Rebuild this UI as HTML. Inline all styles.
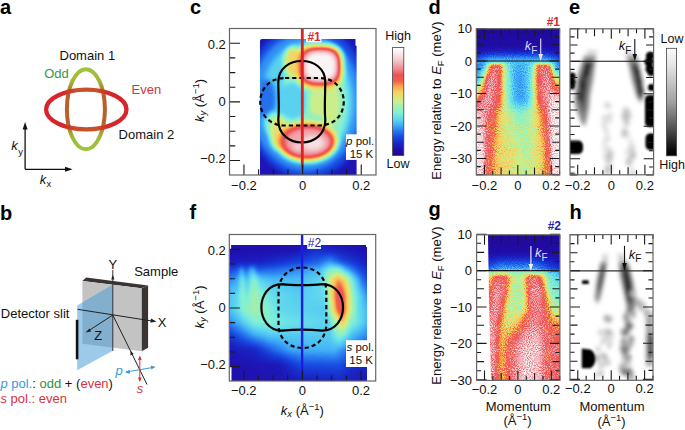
<!DOCTYPE html><html><head><meta charset="utf-8"><style>html,body{margin:0;padding:0;background:#fff;width:685px;height:430px;overflow:hidden}svg{display:block}text{font-family:"Liberation Sans",sans-serif}</style></head><body>
<svg width="685" height="430" viewBox="0 0 685 430">
<defs>
<filter id="jc" filterUnits="userSpaceOnUse" x="250" y="30" width="115" height="150" color-interpolation-filters="sRGB"><feGaussianBlur in="SourceGraphic" stdDeviation="2.6" result="b"/><feComponentTransfer in="b"><feFuncR type="table" tableValues="0.133 0.130 0.127 0.117 0.103 0.094 0.094 0.099 0.127 0.155 0.196 0.239 0.291 0.347 0.403 0.459 0.516 0.573 0.631 0.716 0.793 0.835 0.887 0.943 0.973 0.973 0.968 0.951 0.941 0.941 0.941 0.941 0.941 0.944 0.950 0.955 0.961 0.967 0.973 0.986 1.000"/><feFuncG type="table" tableValues="0.024 0.040 0.056 0.088 0.130 0.177 0.234 0.296 0.380 0.464 0.562 0.662 0.741 0.811 0.867 0.909 0.941 0.941 0.941 0.941 0.937 0.916 0.880 0.838 0.775 0.689 0.590 0.457 0.365 0.337 0.333 0.430 0.526 0.609 0.683 0.758 0.820 0.877 0.933 0.967 1.000"/><feFuncB type="table" tableValues="0.541 0.603 0.665 0.715 0.757 0.800 0.842 0.883 0.911 0.939 0.954 0.969 0.962 0.948 0.921 0.879 0.830 0.759 0.687 0.619 0.552 0.488 0.440 0.398 0.356 0.313 0.282 0.282 0.294 0.322 0.364 0.461 0.557 0.637 0.706 0.775 0.834 0.888 0.941 0.971 1.000"/><feFuncA type="linear" slope="0" intercept="1"/></feComponentTransfer></filter>
<filter id="jf" filterUnits="userSpaceOnUse" x="225" y="240" width="150" height="145" color-interpolation-filters="sRGB"><feGaussianBlur in="SourceGraphic" stdDeviation="1.6" result="b"/><feComponentTransfer in="b"><feFuncR type="table" tableValues="0.133 0.130 0.127 0.117 0.103 0.094 0.094 0.099 0.127 0.155 0.196 0.239 0.291 0.347 0.403 0.459 0.516 0.573 0.631 0.716 0.793 0.835 0.887 0.943 0.973 0.973 0.968 0.951 0.941 0.941 0.941 0.941 0.941 0.944 0.950 0.955 0.961 0.967 0.973 0.986 1.000"/><feFuncG type="table" tableValues="0.024 0.040 0.056 0.088 0.130 0.177 0.234 0.296 0.380 0.464 0.562 0.662 0.741 0.811 0.867 0.909 0.941 0.941 0.941 0.941 0.937 0.916 0.880 0.838 0.775 0.689 0.590 0.457 0.365 0.337 0.333 0.430 0.526 0.609 0.683 0.758 0.820 0.877 0.933 0.967 1.000"/><feFuncB type="table" tableValues="0.541 0.603 0.665 0.715 0.757 0.800 0.842 0.883 0.911 0.939 0.954 0.969 0.962 0.948 0.921 0.879 0.830 0.759 0.687 0.619 0.552 0.488 0.440 0.398 0.356 0.313 0.282 0.282 0.294 0.322 0.364 0.461 0.557 0.637 0.706 0.775 0.834 0.888 0.941 0.971 1.000"/><feFuncA type="linear" slope="0" intercept="1"/></feComponentTransfer></filter>
<filter id="jd" filterUnits="userSpaceOnUse" x="470" y="25" width="95" height="155" color-interpolation-filters="sRGB"><feGaussianBlur in="SourceGraphic" stdDeviation="1.0" result="b"/><feTurbulence type="fractalNoise" baseFrequency="0.95" numOctaves="1" seed="5" result="t"/><feColorMatrix in="t" type="matrix" values="1 0 0 0 0 1 0 0 0 0 1 0 0 0 0 0 0 0 0 1" result="n"/><feComposite in="b" in2="n" operator="arithmetic" k1="0.42" k2="0.79" k3="0.07" k4="-0.035" result="b"/><feComponentTransfer in="b"><feFuncR type="table" tableValues="0.133 0.130 0.127 0.117 0.103 0.094 0.094 0.099 0.127 0.155 0.196 0.239 0.291 0.347 0.403 0.459 0.516 0.573 0.631 0.716 0.793 0.835 0.887 0.943 0.973 0.973 0.968 0.951 0.941 0.941 0.941 0.941 0.941 0.944 0.950 0.955 0.961 0.967 0.973 0.986 1.000"/><feFuncG type="table" tableValues="0.024 0.040 0.056 0.088 0.130 0.177 0.234 0.296 0.380 0.464 0.562 0.662 0.741 0.811 0.867 0.909 0.941 0.941 0.941 0.941 0.937 0.916 0.880 0.838 0.775 0.689 0.590 0.457 0.365 0.337 0.333 0.430 0.526 0.609 0.683 0.758 0.820 0.877 0.933 0.967 1.000"/><feFuncB type="table" tableValues="0.541 0.603 0.665 0.715 0.757 0.800 0.842 0.883 0.911 0.939 0.954 0.969 0.962 0.948 0.921 0.879 0.830 0.759 0.687 0.619 0.552 0.488 0.440 0.398 0.356 0.313 0.282 0.282 0.294 0.322 0.364 0.461 0.557 0.637 0.706 0.775 0.834 0.888 0.941 0.971 1.000"/><feFuncA type="linear" slope="0" intercept="1"/></feComponentTransfer></filter>
<filter id="jg" filterUnits="userSpaceOnUse" x="470" y="230" width="95" height="155" color-interpolation-filters="sRGB"><feGaussianBlur in="SourceGraphic" stdDeviation="1.0" result="b"/><feTurbulence type="fractalNoise" baseFrequency="0.95" numOctaves="1" seed="7" result="t"/><feColorMatrix in="t" type="matrix" values="1 0 0 0 0 1 0 0 0 0 1 0 0 0 0 0 0 0 0 1" result="n"/><feComposite in="b" in2="n" operator="arithmetic" k1="0.5" k2="0.75" k3="0.07" k4="-0.035" result="b"/><feComponentTransfer in="b"><feFuncR type="table" tableValues="0.133 0.130 0.127 0.117 0.103 0.094 0.094 0.099 0.127 0.155 0.196 0.239 0.291 0.347 0.403 0.459 0.516 0.573 0.631 0.716 0.793 0.835 0.887 0.943 0.973 0.973 0.968 0.951 0.941 0.941 0.941 0.941 0.941 0.944 0.950 0.955 0.961 0.967 0.973 0.986 1.000"/><feFuncG type="table" tableValues="0.024 0.040 0.056 0.088 0.130 0.177 0.234 0.296 0.380 0.464 0.562 0.662 0.741 0.811 0.867 0.909 0.941 0.941 0.941 0.941 0.937 0.916 0.880 0.838 0.775 0.689 0.590 0.457 0.365 0.337 0.333 0.430 0.526 0.609 0.683 0.758 0.820 0.877 0.933 0.967 1.000"/><feFuncB type="table" tableValues="0.541 0.603 0.665 0.715 0.757 0.800 0.842 0.883 0.911 0.939 0.954 0.969 0.962 0.948 0.921 0.879 0.830 0.759 0.687 0.619 0.552 0.488 0.440 0.398 0.356 0.313 0.282 0.282 0.294 0.322 0.364 0.461 0.557 0.637 0.706 0.775 0.834 0.888 0.941 0.971 1.000"/><feFuncA type="linear" slope="0" intercept="1"/></feComponentTransfer></filter>
<filter id="bl2" x="-50%" y="-50%" width="200%" height="200%"><feGaussianBlur stdDeviation="2"/></filter>
<filter id="bl1" x="-50%" y="-50%" width="200%" height="200%"><feGaussianBlur stdDeviation="1"/></filter>
<filter id="bl3" x="-50%" y="-50%" width="200%" height="200%"><feGaussianBlur stdDeviation="3"/></filter>
<linearGradient id="cbj" x1="0" y1="0" x2="0" y2="1"><stop offset="0.000" stop-color="#ffffff"/><stop offset="0.050" stop-color="#f8eef0"/><stop offset="0.116" stop-color="#f4c8cc"/><stop offset="0.190" stop-color="#f09098"/><stop offset="0.255" stop-color="#f05058"/><stop offset="0.310" stop-color="#f06048"/><stop offset="0.357" stop-color="#f8a048"/><stop offset="0.412" stop-color="#f8d060"/><stop offset="0.468" stop-color="#d8e878"/><stop offset="0.505" stop-color="#c8f090"/><stop offset="0.551" stop-color="#a0f0b0"/><stop offset="0.606" stop-color="#80f0d8"/><stop offset="0.662" stop-color="#60d8f0"/><stop offset="0.718" stop-color="#40b0f8"/><stop offset="0.773" stop-color="#2878f0"/><stop offset="0.829" stop-color="#1848e0"/><stop offset="0.884" stop-color="#1828c8"/><stop offset="0.940" stop-color="#2010b0"/><stop offset="1.000" stop-color="#22068a"/></linearGradient>
<linearGradient id="cbg" x1="0" y1="0" x2="0" y2="1"><stop offset="0" stop-color="#fafafa"/><stop offset="0.15" stop-color="#e6e6e6"/><stop offset="0.5" stop-color="#a0a0a0"/><stop offset="0.8" stop-color="#404040"/><stop offset="0.93" stop-color="#101010"/><stop offset="1" stop-color="#000"/></linearGradient>
<linearGradient id="oddg" gradientUnits="userSpaceOnUse" x1="0" y1="67" x2="0" y2="151"><stop offset="0" stop-color="#9cc63c"/><stop offset="0.16" stop-color="#a2b836"/><stop offset="0.25" stop-color="#ae8c2e"/><stop offset="0.33" stop-color="#b8602c"/><stop offset="0.67" stop-color="#b8602c"/><stop offset="0.75" stop-color="#ae8c2e"/><stop offset="0.84" stop-color="#a2b836"/><stop offset="1" stop-color="#9cc63c"/></linearGradient>
<linearGradient id="eveng" gradientUnits="userSpaceOnUse" x1="44" y1="0" x2="129" y2="0"><stop offset="0" stop-color="#d8242a"/><stop offset="0.22" stop-color="#d6262a"/><stop offset="0.3" stop-color="#cc3c2a"/><stop offset="0.38" stop-color="#c6502a"/><stop offset="0.62" stop-color="#c6502a"/><stop offset="0.7" stop-color="#cc3c2a"/><stop offset="0.78" stop-color="#d6262a"/><stop offset="1" stop-color="#d8242a"/></linearGradient>
<marker id="ah" viewBox="0 0 10 10" refX="9" refY="5" markerWidth="6" markerHeight="6" orient="auto-start-reverse" markerUnits="userSpaceOnUse"><path d="M0,1 L10,5 L0,9 z" fill="#111"/></marker>
</defs>
<text x="0" y="13.8" font-size="20" text-anchor="start" fill="#000" font-weight="bold">a</text>
<text x="0" y="219.6" font-size="20" text-anchor="start" fill="#000" font-weight="bold">b</text>
<text x="190" y="13.8" font-size="20" text-anchor="start" fill="#000" font-weight="bold">c</text>
<text x="428.5" y="13.8" font-size="20" text-anchor="start" fill="#000" font-weight="bold">d</text>
<text x="569" y="13.8" font-size="20" text-anchor="start" fill="#000" font-weight="bold">e</text>
<text x="189.5" y="219.4" font-size="20" text-anchor="start" fill="#000" font-weight="bold">f</text>
<text x="428.5" y="215.6" font-size="20" text-anchor="start" fill="#000" font-weight="bold">g</text>
<text x="569.5" y="219.4" font-size="20" text-anchor="start" fill="#000" font-weight="bold">h</text>
<ellipse cx="85.9" cy="109.2" rx="19" ry="40" fill="none" stroke="url(#oddg)" stroke-width="4"/>
<ellipse cx="86.3" cy="109.5" rx="40.2" ry="19.8" fill="none" stroke="url(#eveng)" stroke-width="4.3"/>
<text x="59.5" y="60.1" font-size="13" text-anchor="start" fill="#111" >Domain 1</text>
<text x="44.2" y="78.3" font-size="13" text-anchor="start" fill="#35984a" >Odd</text>
<text x="131.5" y="93.8" font-size="13" text-anchor="start" fill="#d9323c" >Even</text>
<text x="118.6" y="139.1" font-size="13" text-anchor="start" fill="#111" >Domain 2</text>
<path d="M25.1,169.3 L25.1,127" stroke="#111" stroke-width="1.3" fill="none"/>
<path d="M22.6,129.5 L25.1,122 L27.6,129.5 z" fill="#111"/>
<path d="M25.1,169.3 L67,169.3" stroke="#111" stroke-width="1.3" fill="none"/>
<path d="M65,166.8 L72.6,169.3 L65,171.8 z" fill="#111"/>
<text x="11.2" y="150.3" font-size="13" font-style="italic" fill="#111">k</text><text x="18.2" y="155" font-size="9.5" fill="#111">y</text>
<text x="39.7" y="183.8" font-size="13" font-style="italic" fill="#111">k</text><text x="46.4" y="186.5" font-size="9.5" fill="#111">x</text>
<path d="M82.4,281 L86.2,277.6 L148.1,285.5 L141.5,288.3 z" fill="#3a3432"/>
<path d="M141.5,288.3 L148.1,285.5 L148.1,347.8 L141.5,351.2 z" fill="#3a3432"/>
<path d="M82.4,281 L141.5,288.3 L141.5,351.2 L82.4,343.8 z" fill="#c3c3c3"/>
<path d="M112.8,284.5 L112.8,350.8 L77.2,370.3 L77.2,305.4 z" fill="#4a9fd6" fill-opacity="0.55"/>
<path d="M112.8,351 L112.8,270" stroke="#333" stroke-width="1"/>
<path d="M111.2,279.5 L112.8,274.8 L114.4,279.5 z" fill="#222"/>
<path d="M77.6,309.3 L152,321" stroke="#222" stroke-width="1"/>
<path d="M151,318.6 L156.5,321.5 L150.4,322.8 z" fill="#222"/>
<path d="M112.8,315 L88.5,330.8" stroke="#222" stroke-width="1"/>
<path d="M89.4,328.5 L85.6,332.6 L91.1,331.4 z" fill="#222"/>
<path d="M112.8,315 L147,384.5" stroke="#222" stroke-width="1"/>
<path d="M130.6,350.7 L130.4,355.6 L133.7,354.0 z" fill="#222"/>
<rect x="75.8" y="319.8" width="2.6" height="39.5" fill="#111"/>
<text x="108.5" y="269.4" font-size="13" text-anchor="start" fill="#111" >Y</text>
<text x="157.8" y="327.1" font-size="13" text-anchor="start" fill="#111" >X</text>
<text x="94.3" y="340.3" font-size="13" text-anchor="start" fill="#111" >Z</text>
<text x="134.2" y="276.1" font-size="13" text-anchor="start" fill="#111" >Sample</text>
<text x="0.8" y="318.1" font-size="13" text-anchor="start" fill="#111" >Detector slit</text>
<path d="M126,372 L154.5,367.2" stroke="#3a9ad6" stroke-width="1"/>
<path d="M129.5,369.8 L125,372.2 L130,374 z" fill="#3a9ad6"/><path d="M150.8,365.5 L155.3,367.1 L151.3,369.6 z" fill="#3a9ad6"/>
<path d="M139.8,357 L139.8,380.5" stroke="#d9323c" stroke-width="1"/>
<path d="M137.9,360 L139.8,355.5 L141.7,360 z" fill="#d9323c"/><path d="M137.9,377.5 L139.8,382 L141.7,377.5 z" fill="#d9323c"/>
<text x="115.5" y="374.5" font-size="13" font-style="italic" fill="#3a9ad6">p</text>
<text x="136.8" y="392.7" font-size="13" font-style="italic" fill="#d9323c">s</text>
<text x="0.5" y="388.4" font-size="13"><tspan font-style="italic" fill="#3a9ad6">p</tspan><tspan fill="#3a9ad6"> pol.</tspan><tspan fill="#111">: </tspan><tspan fill="#2f9046">odd</tspan><tspan fill="#111"> + (</tspan><tspan fill="#d9323c">even</tspan><tspan fill="#111">)</tspan></text>
<text x="0.5" y="403.3" font-size="13" fill="#d9323c"><tspan font-style="italic">s</tspan> pol.: even</text>
<clipPath id="clc"><path d="M260,41 Q260,39 262,39 L355.5,39 L355.5,45.7 L356.6,45.7 L356.6,175 L260,175 z"/></clipPath>
<g clip-path="url(#clc)"><g filter="url(#jc)"><rect x="250" y="30" width="115" height="150" fill="#121212"/><ellipse cx="307" cy="101" rx="62" ry="78" fill="#2b2b2b"/><ellipse cx="306" cy="102" rx="56" ry="69" fill="#404040"/><ellipse cx="307" cy="102" rx="46" ry="60" fill="#545454"/><ellipse cx="314" cy="102" rx="33" ry="53" fill="#6b6b6b"/><ellipse cx="293" cy="101" rx="15" ry="19" fill="#545454"/><ellipse cx="267" cy="99" rx="9" ry="20" fill="#383838"/><ellipse cx="330" cy="104" rx="10" ry="22" fill="#808080"/><ellipse cx="317" cy="103" rx="9" ry="13" fill="#808080"/><ellipse cx="293" cy="62" rx="9" ry="15" fill="#919191"/><ellipse cx="273" cy="124" rx="8" ry="12" fill="#6b6b6b"/><ellipse cx="279" cy="133" rx="9" ry="17" fill="#8c8c8c"/><polygon points="343.5,66.5 343.4,72.3 343.0,75.6 342.3,78.4 341.3,80.7 340.1,82.7 338.5,84.4 336.7,85.8 334.6,86.9 332.2,87.8 329.2,88.5 325.7,88.9 319.5,89.0 313.3,88.9 309.8,88.5 306.8,87.8 304.4,86.9 302.3,85.8 300.5,84.4 298.9,82.7 297.7,80.7 296.7,78.4 296.0,75.6 295.6,72.3 295.5,66.5 295.6,60.7 296.0,57.4 296.7,54.6 297.7,52.3 298.9,50.3 300.5,48.6 302.3,47.2 304.4,46.1 306.8,45.2 309.8,44.5 313.3,44.1 319.5,44.0 325.7,44.1 329.2,44.5 332.2,45.2 334.6,46.1 336.7,47.2 338.5,48.6 340.1,50.3 341.3,52.3 342.3,54.6 343.0,57.4 343.4,60.7" fill="#999999"/><polygon points="340.5,66.5 340.4,71.4 340.0,74.2 339.4,76.5 338.6,78.5 337.6,80.1 336.3,81.6 334.7,82.8 332.9,83.8 330.8,84.5 328.3,85.1 325.3,85.4 320.0,85.5 314.7,85.4 311.7,85.1 309.2,84.5 307.1,83.8 305.3,82.8 303.7,81.6 302.4,80.1 301.4,78.5 300.6,76.5 300.0,74.2 299.6,71.4 299.5,66.5 299.6,61.6 300.0,58.8 300.6,56.5 301.4,54.5 302.4,52.9 303.7,51.4 305.3,50.2 307.1,49.2 309.2,48.5 311.7,47.9 314.7,47.6 320.0,47.5 325.3,47.6 328.3,47.9 330.8,48.5 332.9,49.2 334.7,50.2 336.3,51.4 337.6,52.9 338.6,54.5 339.4,56.5 340.0,58.8 340.4,61.6" fill="#b2b2b2"/><polygon points="338.5,66.5 338.4,70.9 338.1,73.4 337.5,75.5 336.8,77.2 335.9,78.7 334.7,80.0 333.3,81.1 331.7,81.9 329.8,82.6 327.5,83.1 324.8,83.4 320.0,83.5 315.2,83.4 312.5,83.1 310.2,82.6 308.3,81.9 306.7,81.1 305.3,80.0 304.1,78.7 303.2,77.2 302.5,75.5 301.9,73.4 301.6,70.9 301.5,66.5 301.6,62.1 301.9,59.6 302.5,57.5 303.2,55.8 304.1,54.3 305.3,53.0 306.7,51.9 308.3,51.1 310.2,50.4 312.5,49.9 315.2,49.6 320.0,49.5 324.8,49.6 327.5,49.9 329.8,50.4 331.7,51.1 333.3,51.9 334.7,53.0 335.9,54.3 336.8,55.8 337.5,57.5 338.1,59.6 338.4,62.1" fill="#d6d6d6"/><polygon points="335.5,66.0 335.4,69.5 335.2,71.5 334.7,73.1 334.1,74.5 333.4,75.7 332.4,76.7 331.3,77.6 329.9,78.3 328.4,78.8 326.6,79.2 324.4,79.4 320.5,79.5 316.6,79.4 314.4,79.2 312.6,78.8 311.1,78.3 309.7,77.6 308.6,76.7 307.6,75.7 306.9,74.5 306.3,73.1 305.8,71.5 305.6,69.5 305.5,66.0 305.6,62.5 305.8,60.5 306.3,58.9 306.9,57.5 307.6,56.3 308.6,55.3 309.7,54.4 311.1,53.7 312.6,53.2 314.4,52.8 316.6,52.6 320.5,52.5 324.4,52.6 326.6,52.8 328.4,53.2 329.9,53.7 331.3,54.4 332.4,55.3 333.4,56.3 334.1,57.5 334.7,58.9 335.2,60.5 335.4,62.5" fill="#f7f7f7"/><ellipse cx="307" cy="141.5" rx="31" ry="20.5" fill="#9e9e9e"/><ellipse cx="307" cy="141.5" rx="26.5" ry="16.8" fill="#bdbdbd"/><ellipse cx="308" cy="142" rx="22.5" ry="13.5" fill="#d6d6d6"/><ellipse cx="313" cy="143" rx="11" ry="7" fill="#ededed"/><ellipse cx="298" cy="147" rx="5" ry="4" fill="#e6e6e6"/></g></g>
<path d="M278.3,82 C278.3,54 325.3,54 325.3,82 C325.3,92 324.2,108 325.3,120 C325.3,150 278.3,150 278.3,120 C279.4,108 278.3,92 278.3,82 z" fill="none" stroke="#000" stroke-width="2.2"/>
<path d="M285,78 L319,78 C352,78 352,125.5 319,125.5 L285,125.5 C252,125.5 252,78 285,78 z" fill="none" stroke="#000" stroke-width="2.2" stroke-dasharray="4.2,3"/>
<rect x="300.9" y="28.4" width="2.8" height="146.4" fill="#dc2224"/>
<rect x="306" y="29" width="15.5" height="13.4" fill="#fff"/>
<text x="314.1" y="40.8" font-size="12" text-anchor="middle" fill="#dc2830" font-weight="bold">#1</text>
<rect x="346" y="134.3" width="12" height="25.6" fill="#fff"/>
<text x="374.2" y="144.8" font-size="11.5" text-anchor="end" fill="#111"><tspan font-style="italic">p</tspan> pol.</text>
<text x="373.3" y="158.1" font-size="11.5" text-anchor="end" fill="#111" >15 K</text>
<path d="M243.96,175.00L243.96,164.50M258.62,175.00L258.62,169.20M273.28,175.00L273.28,169.20M287.94,175.00L287.94,169.20M302.60,175.00L302.60,164.50M317.26,175.00L317.26,169.20M331.92,175.00L331.92,169.20M346.58,175.00L346.58,169.20M361.24,175.00L361.24,164.50" stroke="#1a1a1a" stroke-width="1.1" fill="none"/>
<path d="M229.50,160.54L240.00,160.54M229.50,145.88L235.30,145.88M229.50,131.22L235.30,131.22M229.50,116.56L235.30,116.56M229.50,101.90L240.00,101.90M229.50,87.24L235.30,87.24M229.50,72.58L235.30,72.58M229.50,57.92L235.30,57.92M229.50,43.26L240.00,43.26" stroke="#1a1a1a" stroke-width="1.1" fill="none"/>
<rect x="229.5" y="28.5" width="146.5" height="146.5" fill="none" stroke="#666" stroke-width="1.2"/>
<text x="243.96000000000004" y="189.6" font-size="13" text-anchor="middle" fill="#111" >−0.2</text>
<text x="225.8" y="163.39000000000001" font-size="13" text-anchor="end" fill="#111" >−0.2</text>
<text x="302.6" y="189.6" font-size="13" text-anchor="middle" fill="#111" >0</text>
<text x="225.8" y="105.95000000000002" font-size="13" text-anchor="end" fill="#111" >0</text>
<text x="361.24" y="189.6" font-size="13" text-anchor="middle" fill="#111" >0.2</text>
<text x="225.8" y="48.510000000000005" font-size="13" text-anchor="end" fill="#111" >0.2</text>
<text x="0" y="0" font-size="13" text-anchor="middle" fill="#111" transform="translate(203.5,100.5) rotate(-90)"><tspan font-style="italic">k</tspan><tspan font-style="italic" font-size="9.5" dy="2.5">y</tspan><tspan dy="-2.5"> (Å</tspan><tspan font-size="9.5" dy="-4.5">−1</tspan><tspan dy="4.5">)</tspan></text>
<rect x="392.6" y="47.5" width="11.2" height="108" fill="url(#cbj)" stroke="#444" stroke-width="0.8"/>
<text x="398" y="40.1" font-size="12.5" text-anchor="middle" fill="#111" >High</text>
<text x="398" y="167.6" font-size="12.5" text-anchor="middle" fill="#111" >Low</text>
<clipPath id="clf"><path d="M231.1,245 L366,245 L366,247 L367,247 L367,381 L231.5,381 L231.5,366 L229.8,366 L229.8,249 L231.1,249 z"/></clipPath>
<g clip-path="url(#clf)"><g filter="url(#jf)"><defs><linearGradient id="rg1" gradientUnits="userSpaceOnUse" x1="225" y1="0" x2="372" y2="0"><stop offset="0.000" stop-color="#0d0d0d"/><stop offset="0.510" stop-color="#0d0d0d"/><stop offset="0.633" stop-color="#1a1a1a"/><stop offset="0.748" stop-color="#0f0f0f"/><stop offset="1.000" stop-color="#0d0d0d"/></linearGradient><linearGradient id="rg2" gradientUnits="userSpaceOnUse" x1="225" y1="0" x2="372" y2="0"><stop offset="0.000" stop-color="#0d0d0d"/><stop offset="0.476" stop-color="#0d0d0d"/><stop offset="0.510" stop-color="#0f0f0f"/><stop offset="0.612" stop-color="#1a1a1a"/><stop offset="0.633" stop-color="#1b1b1b"/><stop offset="0.748" stop-color="#121212"/><stop offset="1.000" stop-color="#0d0d0d"/></linearGradient><linearGradient id="rg3" gradientUnits="userSpaceOnUse" x1="225" y1="0" x2="372" y2="0"><stop offset="0.000" stop-color="#0d0d0d"/><stop offset="0.476" stop-color="#0e0e0e"/><stop offset="0.510" stop-color="#111111"/><stop offset="0.612" stop-color="#1d1d1d"/><stop offset="0.633" stop-color="#1d1d1d"/><stop offset="0.748" stop-color="#151515"/><stop offset="1.000" stop-color="#0d0d0d"/></linearGradient><linearGradient id="rg4" gradientUnits="userSpaceOnUse" x1="225" y1="0" x2="372" y2="0"><stop offset="0.000" stop-color="#0d0d0d"/><stop offset="0.476" stop-color="#0f0f0f"/><stop offset="0.510" stop-color="#131313"/><stop offset="0.612" stop-color="#202020"/><stop offset="0.633" stop-color="#1f1f1f"/><stop offset="0.748" stop-color="#181818"/><stop offset="1.000" stop-color="#0d0d0d"/></linearGradient><linearGradient id="rg5" gradientUnits="userSpaceOnUse" x1="225" y1="0" x2="372" y2="0"><stop offset="0.000" stop-color="#0e0e0e"/><stop offset="0.238" stop-color="#0f0f0f"/><stop offset="0.476" stop-color="#131313"/><stop offset="0.510" stop-color="#171717"/><stop offset="0.612" stop-color="#232323"/><stop offset="0.633" stop-color="#222222"/><stop offset="0.714" stop-color="#202020"/><stop offset="0.748" stop-color="#1e1e1e"/><stop offset="0.796" stop-color="#1a1a1a"/><stop offset="1.000" stop-color="#0d0d0d"/></linearGradient><linearGradient id="rg6" gradientUnits="userSpaceOnUse" x1="225" y1="0" x2="372" y2="0"><stop offset="0.000" stop-color="#101010"/><stop offset="0.238" stop-color="#121212"/><stop offset="0.476" stop-color="#191919"/><stop offset="0.510" stop-color="#1d1d1d"/><stop offset="0.612" stop-color="#272727"/><stop offset="0.633" stop-color="#272727"/><stop offset="0.714" stop-color="#2a2a2a"/><stop offset="0.748" stop-color="#262626"/><stop offset="0.796" stop-color="#202020"/><stop offset="1.000" stop-color="#0f0f0f"/></linearGradient><linearGradient id="rg7" gradientUnits="userSpaceOnUse" x1="225" y1="0" x2="372" y2="0"><stop offset="0.000" stop-color="#121212"/><stop offset="0.238" stop-color="#151515"/><stop offset="0.476" stop-color="#1f1f1f"/><stop offset="0.510" stop-color="#232323"/><stop offset="0.612" stop-color="#2c2c2c"/><stop offset="0.633" stop-color="#2c2c2c"/><stop offset="0.714" stop-color="#343434"/><stop offset="0.748" stop-color="#2e2e2e"/><stop offset="0.796" stop-color="#252525"/><stop offset="1.000" stop-color="#101010"/></linearGradient><linearGradient id="rg8" gradientUnits="userSpaceOnUse" x1="225" y1="0" x2="372" y2="0"><stop offset="0.000" stop-color="#131313"/><stop offset="0.238" stop-color="#181818"/><stop offset="0.476" stop-color="#262626"/><stop offset="0.510" stop-color="#282828"/><stop offset="0.612" stop-color="#303030"/><stop offset="0.633" stop-color="#313131"/><stop offset="0.714" stop-color="#3d3d3d"/><stop offset="0.748" stop-color="#363636"/><stop offset="0.796" stop-color="#2b2b2b"/><stop offset="1.000" stop-color="#111111"/></linearGradient><linearGradient id="rg9" gradientUnits="userSpaceOnUse" x1="225" y1="0" x2="372" y2="0"><stop offset="0.000" stop-color="#171717"/><stop offset="0.088" stop-color="#1c1c1c"/><stop offset="0.109" stop-color="#202020"/><stop offset="0.143" stop-color="#1d1d1d"/><stop offset="0.184" stop-color="#222222"/><stop offset="0.224" stop-color="#1e1e1e"/><stop offset="0.238" stop-color="#1e1e1e"/><stop offset="0.374" stop-color="#262626"/><stop offset="0.510" stop-color="#2f2f2f"/><stop offset="0.633" stop-color="#383838"/><stop offset="0.646" stop-color="#3a3a3a"/><stop offset="0.714" stop-color="#494949"/><stop offset="0.769" stop-color="#3f3f3f"/><stop offset="0.796" stop-color="#373737"/><stop offset="0.823" stop-color="#313131"/><stop offset="0.891" stop-color="#242424"/><stop offset="1.000" stop-color="#131313"/></linearGradient><linearGradient id="rg10" gradientUnits="userSpaceOnUse" x1="225" y1="0" x2="372" y2="0"><stop offset="0.000" stop-color="#1d1d1d"/><stop offset="0.088" stop-color="#262626"/><stop offset="0.109" stop-color="#323232"/><stop offset="0.143" stop-color="#272727"/><stop offset="0.184" stop-color="#363636"/><stop offset="0.224" stop-color="#282828"/><stop offset="0.238" stop-color="#282828"/><stop offset="0.374" stop-color="#2f2f2f"/><stop offset="0.510" stop-color="#373737"/><stop offset="0.633" stop-color="#414141"/><stop offset="0.646" stop-color="#424242"/><stop offset="0.714" stop-color="#565656"/><stop offset="0.769" stop-color="#535353"/><stop offset="0.796" stop-color="#484848"/><stop offset="0.823" stop-color="#3d3d3d"/><stop offset="0.891" stop-color="#2b2b2b"/><stop offset="1.000" stop-color="#161616"/></linearGradient><linearGradient id="rg11" gradientUnits="userSpaceOnUse" x1="225" y1="0" x2="372" y2="0"><stop offset="0.000" stop-color="#232323"/><stop offset="0.088" stop-color="#313131"/><stop offset="0.109" stop-color="#444444"/><stop offset="0.143" stop-color="#313131"/><stop offset="0.184" stop-color="#494949"/><stop offset="0.224" stop-color="#313131"/><stop offset="0.238" stop-color="#323232"/><stop offset="0.374" stop-color="#373737"/><stop offset="0.510" stop-color="#3e3e3e"/><stop offset="0.633" stop-color="#4a4a4a"/><stop offset="0.646" stop-color="#4b4b4b"/><stop offset="0.714" stop-color="#646464"/><stop offset="0.769" stop-color="#686868"/><stop offset="0.796" stop-color="#595959"/><stop offset="0.823" stop-color="#4a4a4a"/><stop offset="0.891" stop-color="#323232"/><stop offset="1.000" stop-color="#191919"/></linearGradient><linearGradient id="rg12" gradientUnits="userSpaceOnUse" x1="225" y1="0" x2="372" y2="0"><stop offset="0.000" stop-color="#292929"/><stop offset="0.088" stop-color="#383838"/><stop offset="0.109" stop-color="#4c4c4c"/><stop offset="0.116" stop-color="#4b4b4b"/><stop offset="0.143" stop-color="#3a3a3a"/><stop offset="0.150" stop-color="#3d3d3d"/><stop offset="0.184" stop-color="#525252"/><stop offset="0.197" stop-color="#4e4e4e"/><stop offset="0.224" stop-color="#3d3d3d"/><stop offset="0.238" stop-color="#3c3c3c"/><stop offset="0.320" stop-color="#3c3c3c"/><stop offset="0.374" stop-color="#3d3d3d"/><stop offset="0.510" stop-color="#434343"/><stop offset="0.646" stop-color="#4f4f4f"/><stop offset="0.660" stop-color="#535353"/><stop offset="0.714" stop-color="#6e6e6e"/><stop offset="0.769" stop-color="#7a7a7a"/><stop offset="0.823" stop-color="#5c5c5c"/><stop offset="0.864" stop-color="#464646"/><stop offset="0.891" stop-color="#3a3a3a"/><stop offset="0.932" stop-color="#2d2d2d"/><stop offset="1.000" stop-color="#1c1c1c"/></linearGradient><linearGradient id="rg13" gradientUnits="userSpaceOnUse" x1="225" y1="0" x2="372" y2="0"><stop offset="0.000" stop-color="#2f2f2f"/><stop offset="0.088" stop-color="#3e3e3e"/><stop offset="0.109" stop-color="#525252"/><stop offset="0.116" stop-color="#545454"/><stop offset="0.143" stop-color="#434343"/><stop offset="0.150" stop-color="#434343"/><stop offset="0.184" stop-color="#595959"/><stop offset="0.197" stop-color="#5a5a5a"/><stop offset="0.224" stop-color="#494949"/><stop offset="0.238" stop-color="#454545"/><stop offset="0.320" stop-color="#424242"/><stop offset="0.374" stop-color="#434343"/><stop offset="0.510" stop-color="#474747"/><stop offset="0.646" stop-color="#525252"/><stop offset="0.660" stop-color="#545454"/><stop offset="0.714" stop-color="#777777"/><stop offset="0.769" stop-color="#8d8d8d"/><stop offset="0.823" stop-color="#707070"/><stop offset="0.864" stop-color="#515151"/><stop offset="0.891" stop-color="#434343"/><stop offset="0.932" stop-color="#323232"/><stop offset="1.000" stop-color="#1f1f1f"/></linearGradient><linearGradient id="rg14" gradientUnits="userSpaceOnUse" x1="225" y1="0" x2="372" y2="0"><stop offset="0.000" stop-color="#353535"/><stop offset="0.088" stop-color="#444444"/><stop offset="0.109" stop-color="#585858"/><stop offset="0.116" stop-color="#5c5c5c"/><stop offset="0.143" stop-color="#4c4c4c"/><stop offset="0.150" stop-color="#494949"/><stop offset="0.184" stop-color="#5f5f5f"/><stop offset="0.197" stop-color="#656565"/><stop offset="0.224" stop-color="#565656"/><stop offset="0.238" stop-color="#4f4f4f"/><stop offset="0.320" stop-color="#494949"/><stop offset="0.374" stop-color="#494949"/><stop offset="0.510" stop-color="#4b4b4b"/><stop offset="0.646" stop-color="#545454"/><stop offset="0.660" stop-color="#565656"/><stop offset="0.714" stop-color="#808080"/><stop offset="0.769" stop-color="#9f9f9f"/><stop offset="0.823" stop-color="#838383"/><stop offset="0.864" stop-color="#5c5c5c"/><stop offset="0.891" stop-color="#4c4c4c"/><stop offset="0.932" stop-color="#363636"/><stop offset="1.000" stop-color="#222222"/></linearGradient><linearGradient id="rg15" gradientUnits="userSpaceOnUse" x1="225" y1="0" x2="372" y2="0"><stop offset="0.000" stop-color="#3a3a3a"/><stop offset="0.088" stop-color="#494949"/><stop offset="0.116" stop-color="#626262"/><stop offset="0.150" stop-color="#4e4e4e"/><stop offset="0.197" stop-color="#6c6c6c"/><stop offset="0.238" stop-color="#565656"/><stop offset="0.252" stop-color="#555555"/><stop offset="0.320" stop-color="#4e4e4e"/><stop offset="0.510" stop-color="#4d4d4d"/><stop offset="0.660" stop-color="#575757"/><stop offset="0.680" stop-color="#666666"/><stop offset="0.714" stop-color="#848484"/><stop offset="0.728" stop-color="#8e8e8e"/><stop offset="0.769" stop-color="#aaaaaa"/><stop offset="0.782" stop-color="#a6a6a6"/><stop offset="0.823" stop-color="#8e8e8e"/><stop offset="0.830" stop-color="#878787"/><stop offset="0.864" stop-color="#636363"/><stop offset="0.878" stop-color="#5a5a5a"/><stop offset="0.932" stop-color="#3a3a3a"/><stop offset="0.946" stop-color="#363636"/><stop offset="1.000" stop-color="#252525"/></linearGradient><linearGradient id="rg16" gradientUnits="userSpaceOnUse" x1="225" y1="0" x2="372" y2="0"><stop offset="0.000" stop-color="#3e3e3e"/><stop offset="0.088" stop-color="#4c4c4c"/><stop offset="0.116" stop-color="#646464"/><stop offset="0.150" stop-color="#525252"/><stop offset="0.197" stop-color="#6e6e6e"/><stop offset="0.238" stop-color="#5b5b5b"/><stop offset="0.252" stop-color="#595959"/><stop offset="0.320" stop-color="#505050"/><stop offset="0.510" stop-color="#4e4e4e"/><stop offset="0.660" stop-color="#575757"/><stop offset="0.680" stop-color="#646464"/><stop offset="0.714" stop-color="#848484"/><stop offset="0.728" stop-color="#8f8f8f"/><stop offset="0.769" stop-color="#afafaf"/><stop offset="0.782" stop-color="#aeaeae"/><stop offset="0.823" stop-color="#929292"/><stop offset="0.830" stop-color="#8b8b8b"/><stop offset="0.864" stop-color="#676767"/><stop offset="0.878" stop-color="#5d5d5d"/><stop offset="0.932" stop-color="#3f3f3f"/><stop offset="0.946" stop-color="#3a3a3a"/><stop offset="1.000" stop-color="#282828"/></linearGradient><linearGradient id="rg17" gradientUnits="userSpaceOnUse" x1="225" y1="0" x2="372" y2="0"><stop offset="0.000" stop-color="#424242"/><stop offset="0.088" stop-color="#4f4f4f"/><stop offset="0.116" stop-color="#666666"/><stop offset="0.150" stop-color="#555555"/><stop offset="0.197" stop-color="#707070"/><stop offset="0.238" stop-color="#5f5f5f"/><stop offset="0.252" stop-color="#5c5c5c"/><stop offset="0.320" stop-color="#535353"/><stop offset="0.510" stop-color="#4f4f4f"/><stop offset="0.660" stop-color="#585858"/><stop offset="0.680" stop-color="#616161"/><stop offset="0.714" stop-color="#848484"/><stop offset="0.728" stop-color="#919191"/><stop offset="0.769" stop-color="#b3b3b3"/><stop offset="0.782" stop-color="#b7b7b7"/><stop offset="0.823" stop-color="#969696"/><stop offset="0.830" stop-color="#8f8f8f"/><stop offset="0.864" stop-color="#6b6b6b"/><stop offset="0.878" stop-color="#5f5f5f"/><stop offset="0.932" stop-color="#434343"/><stop offset="0.946" stop-color="#3e3e3e"/><stop offset="1.000" stop-color="#2b2b2b"/></linearGradient><linearGradient id="rg18" gradientUnits="userSpaceOnUse" x1="225" y1="0" x2="372" y2="0"><stop offset="0.000" stop-color="#464646"/><stop offset="0.088" stop-color="#525252"/><stop offset="0.116" stop-color="#686868"/><stop offset="0.150" stop-color="#595959"/><stop offset="0.197" stop-color="#727272"/><stop offset="0.238" stop-color="#636363"/><stop offset="0.252" stop-color="#606060"/><stop offset="0.320" stop-color="#555555"/><stop offset="0.510" stop-color="#505050"/><stop offset="0.660" stop-color="#585858"/><stop offset="0.680" stop-color="#5e5e5e"/><stop offset="0.714" stop-color="#848484"/><stop offset="0.728" stop-color="#929292"/><stop offset="0.769" stop-color="#b7b7b7"/><stop offset="0.782" stop-color="#bfbfbf"/><stop offset="0.823" stop-color="#9a9a9a"/><stop offset="0.830" stop-color="#939393"/><stop offset="0.864" stop-color="#6f6f6f"/><stop offset="0.878" stop-color="#626262"/><stop offset="0.932" stop-color="#474747"/><stop offset="0.946" stop-color="#424242"/><stop offset="1.000" stop-color="#2e2e2e"/></linearGradient><linearGradient id="rg19" gradientUnits="userSpaceOnUse" x1="225" y1="0" x2="372" y2="0"><stop offset="0.000" stop-color="#4a4a4a"/><stop offset="0.088" stop-color="#555555"/><stop offset="0.116" stop-color="#6a6a6a"/><stop offset="0.150" stop-color="#5d5d5d"/><stop offset="0.197" stop-color="#747474"/><stop offset="0.238" stop-color="#686868"/><stop offset="0.252" stop-color="#646464"/><stop offset="0.320" stop-color="#585858"/><stop offset="0.510" stop-color="#515151"/><stop offset="0.660" stop-color="#585858"/><stop offset="0.680" stop-color="#5b5b5b"/><stop offset="0.714" stop-color="#838383"/><stop offset="0.728" stop-color="#939393"/><stop offset="0.769" stop-color="#bcbcbc"/><stop offset="0.782" stop-color="#c8c8c8"/><stop offset="0.823" stop-color="#9e9e9e"/><stop offset="0.830" stop-color="#979797"/><stop offset="0.864" stop-color="#737373"/><stop offset="0.878" stop-color="#656565"/><stop offset="0.932" stop-color="#4b4b4b"/><stop offset="0.946" stop-color="#454545"/><stop offset="1.000" stop-color="#313131"/></linearGradient><linearGradient id="rg20" gradientUnits="userSpaceOnUse" x1="225" y1="0" x2="372" y2="0"><stop offset="0.000" stop-color="#4c4c4c"/><stop offset="0.088" stop-color="#575757"/><stop offset="0.116" stop-color="#6a6a6a"/><stop offset="0.136" stop-color="#646464"/><stop offset="0.150" stop-color="#606060"/><stop offset="0.197" stop-color="#757575"/><stop offset="0.204" stop-color="#747474"/><stop offset="0.252" stop-color="#676767"/><stop offset="0.293" stop-color="#5f5f5f"/><stop offset="0.320" stop-color="#5a5a5a"/><stop offset="0.374" stop-color="#575757"/><stop offset="0.510" stop-color="#525252"/><stop offset="0.680" stop-color="#585858"/><stop offset="0.687" stop-color="#606060"/><stop offset="0.728" stop-color="#939393"/><stop offset="0.735" stop-color="#9a9a9a"/><stop offset="0.782" stop-color="#cbcbcb"/><stop offset="0.789" stop-color="#c5c5c5"/><stop offset="0.830" stop-color="#999999"/><stop offset="0.844" stop-color="#8b8b8b"/><stop offset="0.878" stop-color="#676767"/><stop offset="0.898" stop-color="#5d5d5d"/><stop offset="0.946" stop-color="#484848"/><stop offset="1.000" stop-color="#353535"/></linearGradient><linearGradient id="rg21" gradientUnits="userSpaceOnUse" x1="225" y1="0" x2="372" y2="0"><stop offset="0.000" stop-color="#4b4b4b"/><stop offset="0.088" stop-color="#575757"/><stop offset="0.116" stop-color="#696969"/><stop offset="0.136" stop-color="#666666"/><stop offset="0.150" stop-color="#636363"/><stop offset="0.197" stop-color="#757575"/><stop offset="0.204" stop-color="#747474"/><stop offset="0.252" stop-color="#686868"/><stop offset="0.293" stop-color="#616161"/><stop offset="0.320" stop-color="#5c5c5c"/><stop offset="0.374" stop-color="#575757"/><stop offset="0.510" stop-color="#525252"/><stop offset="0.680" stop-color="#575757"/><stop offset="0.687" stop-color="#5d5d5d"/><stop offset="0.728" stop-color="#909090"/><stop offset="0.735" stop-color="#979797"/><stop offset="0.782" stop-color="#c8c8c8"/><stop offset="0.789" stop-color="#c5c5c5"/><stop offset="0.830" stop-color="#9a9a9a"/><stop offset="0.844" stop-color="#8b8b8b"/><stop offset="0.878" stop-color="#686868"/><stop offset="0.898" stop-color="#5d5d5d"/><stop offset="0.946" stop-color="#4a4a4a"/><stop offset="1.000" stop-color="#383838"/></linearGradient><linearGradient id="rg22" gradientUnits="userSpaceOnUse" x1="225" y1="0" x2="372" y2="0"><stop offset="0.000" stop-color="#4a4a4a"/><stop offset="0.088" stop-color="#585858"/><stop offset="0.116" stop-color="#676767"/><stop offset="0.136" stop-color="#676767"/><stop offset="0.150" stop-color="#666666"/><stop offset="0.197" stop-color="#757575"/><stop offset="0.204" stop-color="#747474"/><stop offset="0.252" stop-color="#6a6a6a"/><stop offset="0.293" stop-color="#626262"/><stop offset="0.320" stop-color="#5d5d5d"/><stop offset="0.374" stop-color="#575757"/><stop offset="0.510" stop-color="#535353"/><stop offset="0.680" stop-color="#555555"/><stop offset="0.687" stop-color="#5a5a5a"/><stop offset="0.728" stop-color="#8d8d8d"/><stop offset="0.735" stop-color="#959595"/><stop offset="0.782" stop-color="#c6c6c6"/><stop offset="0.789" stop-color="#c6c6c6"/><stop offset="0.830" stop-color="#9a9a9a"/><stop offset="0.844" stop-color="#8b8b8b"/><stop offset="0.878" stop-color="#6a6a6a"/><stop offset="0.898" stop-color="#5c5c5c"/><stop offset="0.946" stop-color="#4c4c4c"/><stop offset="1.000" stop-color="#3b3b3b"/></linearGradient><linearGradient id="rg23" gradientUnits="userSpaceOnUse" x1="225" y1="0" x2="372" y2="0"><stop offset="0.000" stop-color="#494949"/><stop offset="0.088" stop-color="#585858"/><stop offset="0.116" stop-color="#666666"/><stop offset="0.136" stop-color="#696969"/><stop offset="0.150" stop-color="#696969"/><stop offset="0.197" stop-color="#757575"/><stop offset="0.204" stop-color="#757575"/><stop offset="0.252" stop-color="#6b6b6b"/><stop offset="0.293" stop-color="#646464"/><stop offset="0.320" stop-color="#5f5f5f"/><stop offset="0.374" stop-color="#575757"/><stop offset="0.510" stop-color="#545454"/><stop offset="0.680" stop-color="#545454"/><stop offset="0.687" stop-color="#565656"/><stop offset="0.728" stop-color="#8a8a8a"/><stop offset="0.735" stop-color="#929292"/><stop offset="0.782" stop-color="#c4c4c4"/><stop offset="0.789" stop-color="#c6c6c6"/><stop offset="0.830" stop-color="#9a9a9a"/><stop offset="0.844" stop-color="#8c8c8c"/><stop offset="0.878" stop-color="#6c6c6c"/><stop offset="0.898" stop-color="#5c5c5c"/><stop offset="0.946" stop-color="#4d4d4d"/><stop offset="1.000" stop-color="#3e3e3e"/></linearGradient><linearGradient id="rg24" gradientUnits="userSpaceOnUse" x1="225" y1="0" x2="372" y2="0"><stop offset="0.000" stop-color="#484848"/><stop offset="0.088" stop-color="#595959"/><stop offset="0.116" stop-color="#646464"/><stop offset="0.136" stop-color="#6a6a6a"/><stop offset="0.150" stop-color="#6c6c6c"/><stop offset="0.197" stop-color="#747474"/><stop offset="0.204" stop-color="#757575"/><stop offset="0.252" stop-color="#6c6c6c"/><stop offset="0.293" stop-color="#656565"/><stop offset="0.320" stop-color="#606060"/><stop offset="0.374" stop-color="#575757"/><stop offset="0.510" stop-color="#545454"/><stop offset="0.680" stop-color="#525252"/><stop offset="0.687" stop-color="#535353"/><stop offset="0.728" stop-color="#878787"/><stop offset="0.735" stop-color="#909090"/><stop offset="0.782" stop-color="#c1c1c1"/><stop offset="0.789" stop-color="#c7c7c7"/><stop offset="0.830" stop-color="#9b9b9b"/><stop offset="0.844" stop-color="#8c8c8c"/><stop offset="0.878" stop-color="#6d6d6d"/><stop offset="0.898" stop-color="#5c5c5c"/><stop offset="0.946" stop-color="#4f4f4f"/><stop offset="1.000" stop-color="#414141"/></linearGradient><linearGradient id="rg25" gradientUnits="userSpaceOnUse" x1="225" y1="0" x2="372" y2="0"><stop offset="0.000" stop-color="#454545"/><stop offset="0.088" stop-color="#575757"/><stop offset="0.102" stop-color="#5c5c5c"/><stop offset="0.136" stop-color="#686868"/><stop offset="0.204" stop-color="#737373"/><stop offset="0.293" stop-color="#666666"/><stop offset="0.306" stop-color="#646464"/><stop offset="0.374" stop-color="#585858"/><stop offset="0.442" stop-color="#565656"/><stop offset="0.687" stop-color="#525252"/><stop offset="0.714" stop-color="#717171"/><stop offset="0.735" stop-color="#8a8a8a"/><stop offset="0.762" stop-color="#a5a5a5"/><stop offset="0.789" stop-color="#c1c1c1"/><stop offset="0.803" stop-color="#b5b5b5"/><stop offset="0.844" stop-color="#898989"/><stop offset="0.850" stop-color="#838383"/><stop offset="0.898" stop-color="#5c5c5c"/><stop offset="1.000" stop-color="#424242"/></linearGradient><linearGradient id="rg26" gradientUnits="userSpaceOnUse" x1="225" y1="0" x2="372" y2="0"><stop offset="0.000" stop-color="#424242"/><stop offset="0.088" stop-color="#535353"/><stop offset="0.102" stop-color="#585858"/><stop offset="0.136" stop-color="#636363"/><stop offset="0.204" stop-color="#707070"/><stop offset="0.293" stop-color="#666666"/><stop offset="0.306" stop-color="#646464"/><stop offset="0.374" stop-color="#5b5b5b"/><stop offset="0.442" stop-color="#585858"/><stop offset="0.687" stop-color="#535353"/><stop offset="0.714" stop-color="#686868"/><stop offset="0.735" stop-color="#808080"/><stop offset="0.762" stop-color="#9b9b9b"/><stop offset="0.789" stop-color="#b4b4b4"/><stop offset="0.803" stop-color="#aeaeae"/><stop offset="0.844" stop-color="#838383"/><stop offset="0.850" stop-color="#7c7c7c"/><stop offset="0.898" stop-color="#5d5d5d"/><stop offset="1.000" stop-color="#424242"/></linearGradient><linearGradient id="rg27" gradientUnits="userSpaceOnUse" x1="225" y1="0" x2="372" y2="0"><stop offset="0.000" stop-color="#3e3e3e"/><stop offset="0.088" stop-color="#505050"/><stop offset="0.102" stop-color="#535353"/><stop offset="0.136" stop-color="#5d5d5d"/><stop offset="0.204" stop-color="#6c6c6c"/><stop offset="0.293" stop-color="#666666"/><stop offset="0.306" stop-color="#656565"/><stop offset="0.374" stop-color="#5d5d5d"/><stop offset="0.442" stop-color="#595959"/><stop offset="0.687" stop-color="#545454"/><stop offset="0.714" stop-color="#606060"/><stop offset="0.735" stop-color="#767676"/><stop offset="0.762" stop-color="#909090"/><stop offset="0.789" stop-color="#a7a7a7"/><stop offset="0.803" stop-color="#a8a8a8"/><stop offset="0.844" stop-color="#7c7c7c"/><stop offset="0.850" stop-color="#757575"/><stop offset="0.898" stop-color="#5d5d5d"/><stop offset="1.000" stop-color="#424242"/></linearGradient><linearGradient id="rg28" gradientUnits="userSpaceOnUse" x1="225" y1="0" x2="372" y2="0"><stop offset="0.000" stop-color="#3a3a3a"/><stop offset="0.088" stop-color="#4c4c4c"/><stop offset="0.102" stop-color="#4f4f4f"/><stop offset="0.136" stop-color="#585858"/><stop offset="0.204" stop-color="#686868"/><stop offset="0.293" stop-color="#666666"/><stop offset="0.306" stop-color="#666666"/><stop offset="0.374" stop-color="#606060"/><stop offset="0.442" stop-color="#5b5b5b"/><stop offset="0.687" stop-color="#555555"/><stop offset="0.714" stop-color="#585858"/><stop offset="0.735" stop-color="#6c6c6c"/><stop offset="0.762" stop-color="#858585"/><stop offset="0.789" stop-color="#9a9a9a"/><stop offset="0.803" stop-color="#a1a1a1"/><stop offset="0.844" stop-color="#767676"/><stop offset="0.850" stop-color="#6e6e6e"/><stop offset="0.898" stop-color="#5e5e5e"/><stop offset="1.000" stop-color="#424242"/></linearGradient><linearGradient id="rg29" gradientUnits="userSpaceOnUse" x1="225" y1="0" x2="372" y2="0"><stop offset="0.000" stop-color="#353535"/><stop offset="0.102" stop-color="#4a4a4a"/><stop offset="0.204" stop-color="#626262"/><stop offset="0.306" stop-color="#646464"/><stop offset="0.442" stop-color="#5b5b5b"/><stop offset="0.714" stop-color="#545454"/><stop offset="0.762" stop-color="#7c7c7c"/><stop offset="0.782" stop-color="#8b8b8b"/><stop offset="0.803" stop-color="#979797"/><stop offset="0.850" stop-color="#686868"/><stop offset="0.864" stop-color="#646464"/><stop offset="1.000" stop-color="#414141"/></linearGradient><linearGradient id="rg30" gradientUnits="userSpaceOnUse" x1="225" y1="0" x2="372" y2="0"><stop offset="0.000" stop-color="#2f2f2f"/><stop offset="0.102" stop-color="#444444"/><stop offset="0.204" stop-color="#5b5b5b"/><stop offset="0.306" stop-color="#5f5f5f"/><stop offset="0.442" stop-color="#585858"/><stop offset="0.714" stop-color="#535353"/><stop offset="0.762" stop-color="#767676"/><stop offset="0.782" stop-color="#828282"/><stop offset="0.803" stop-color="#8a8a8a"/><stop offset="0.850" stop-color="#626262"/><stop offset="0.864" stop-color="#5e5e5e"/><stop offset="1.000" stop-color="#3f3f3f"/></linearGradient><linearGradient id="rg31" gradientUnits="userSpaceOnUse" x1="225" y1="0" x2="372" y2="0"><stop offset="0.000" stop-color="#292929"/><stop offset="0.102" stop-color="#3e3e3e"/><stop offset="0.204" stop-color="#545454"/><stop offset="0.306" stop-color="#5a5a5a"/><stop offset="0.442" stop-color="#565656"/><stop offset="0.714" stop-color="#535353"/><stop offset="0.762" stop-color="#6f6f6f"/><stop offset="0.782" stop-color="#7a7a7a"/><stop offset="0.803" stop-color="#7c7c7c"/><stop offset="0.850" stop-color="#5c5c5c"/><stop offset="0.864" stop-color="#585858"/><stop offset="1.000" stop-color="#3c3c3c"/></linearGradient><linearGradient id="rg32" gradientUnits="userSpaceOnUse" x1="225" y1="0" x2="372" y2="0"><stop offset="0.000" stop-color="#242424"/><stop offset="0.102" stop-color="#383838"/><stop offset="0.204" stop-color="#4d4d4d"/><stop offset="0.306" stop-color="#565656"/><stop offset="0.442" stop-color="#545454"/><stop offset="0.714" stop-color="#525252"/><stop offset="0.762" stop-color="#696969"/><stop offset="0.782" stop-color="#727272"/><stop offset="0.803" stop-color="#6f6f6f"/><stop offset="0.850" stop-color="#575757"/><stop offset="0.864" stop-color="#525252"/><stop offset="1.000" stop-color="#3a3a3a"/></linearGradient><linearGradient id="rg33" gradientUnits="userSpaceOnUse" x1="225" y1="0" x2="372" y2="0"><stop offset="0.000" stop-color="#1e1e1e"/><stop offset="0.102" stop-color="#323232"/><stop offset="0.204" stop-color="#464646"/><stop offset="0.306" stop-color="#505050"/><stop offset="0.320" stop-color="#515151"/><stop offset="0.442" stop-color="#515151"/><stop offset="0.510" stop-color="#515151"/><stop offset="0.714" stop-color="#515151"/><stop offset="0.748" stop-color="#5e5e5e"/><stop offset="0.782" stop-color="#6a6a6a"/><stop offset="0.864" stop-color="#4c4c4c"/><stop offset="1.000" stop-color="#383838"/></linearGradient><linearGradient id="rg34" gradientUnits="userSpaceOnUse" x1="225" y1="0" x2="372" y2="0"><stop offset="0.000" stop-color="#1c1c1c"/><stop offset="0.102" stop-color="#2c2c2c"/><stop offset="0.204" stop-color="#3d3d3d"/><stop offset="0.306" stop-color="#4a4a4a"/><stop offset="0.320" stop-color="#4a4a4a"/><stop offset="0.442" stop-color="#4f4f4f"/><stop offset="0.510" stop-color="#4f4f4f"/><stop offset="0.714" stop-color="#505050"/><stop offset="0.748" stop-color="#5a5a5a"/><stop offset="0.782" stop-color="#626262"/><stop offset="0.864" stop-color="#474747"/><stop offset="1.000" stop-color="#343434"/></linearGradient><linearGradient id="rg35" gradientUnits="userSpaceOnUse" x1="225" y1="0" x2="372" y2="0"><stop offset="0.000" stop-color="#191919"/><stop offset="0.102" stop-color="#272727"/><stop offset="0.204" stop-color="#353535"/><stop offset="0.306" stop-color="#434343"/><stop offset="0.320" stop-color="#444444"/><stop offset="0.442" stop-color="#4c4c4c"/><stop offset="0.510" stop-color="#4d4d4d"/><stop offset="0.714" stop-color="#4e4e4e"/><stop offset="0.748" stop-color="#565656"/><stop offset="0.782" stop-color="#5a5a5a"/><stop offset="0.864" stop-color="#414141"/><stop offset="1.000" stop-color="#303030"/></linearGradient><linearGradient id="rg36" gradientUnits="userSpaceOnUse" x1="225" y1="0" x2="372" y2="0"><stop offset="0.000" stop-color="#171717"/><stop offset="0.102" stop-color="#212121"/><stop offset="0.204" stop-color="#2c2c2c"/><stop offset="0.306" stop-color="#3d3d3d"/><stop offset="0.320" stop-color="#3e3e3e"/><stop offset="0.442" stop-color="#4a4a4a"/><stop offset="0.510" stop-color="#4b4b4b"/><stop offset="0.714" stop-color="#4d4d4d"/><stop offset="0.748" stop-color="#515151"/><stop offset="0.782" stop-color="#525252"/><stop offset="0.864" stop-color="#3c3c3c"/><stop offset="1.000" stop-color="#2d2d2d"/></linearGradient><linearGradient id="rg37" gradientUnits="userSpaceOnUse" x1="225" y1="0" x2="372" y2="0"><stop offset="0.000" stop-color="#141414"/><stop offset="0.102" stop-color="#1c1c1c"/><stop offset="0.204" stop-color="#232323"/><stop offset="0.306" stop-color="#363636"/><stop offset="0.320" stop-color="#383838"/><stop offset="0.442" stop-color="#474747"/><stop offset="0.510" stop-color="#494949"/><stop offset="0.714" stop-color="#4b4b4b"/><stop offset="0.748" stop-color="#4d4d4d"/><stop offset="0.782" stop-color="#4a4a4a"/><stop offset="0.864" stop-color="#373737"/><stop offset="1.000" stop-color="#292929"/></linearGradient><linearGradient id="rg38" gradientUnits="userSpaceOnUse" x1="225" y1="0" x2="372" y2="0"><stop offset="0.000" stop-color="#121212"/><stop offset="0.204" stop-color="#1c1c1c"/><stop offset="0.320" stop-color="#323232"/><stop offset="0.374" stop-color="#3a3a3a"/><stop offset="0.442" stop-color="#444444"/><stop offset="0.510" stop-color="#464646"/><stop offset="0.748" stop-color="#494949"/><stop offset="0.782" stop-color="#424242"/><stop offset="0.864" stop-color="#323232"/><stop offset="0.884" stop-color="#303030"/><stop offset="1.000" stop-color="#262626"/></linearGradient><linearGradient id="rg39" gradientUnits="userSpaceOnUse" x1="225" y1="0" x2="372" y2="0"><stop offset="0.000" stop-color="#111111"/><stop offset="0.204" stop-color="#1a1a1a"/><stop offset="0.320" stop-color="#2c2c2c"/><stop offset="0.374" stop-color="#323232"/><stop offset="0.442" stop-color="#3c3c3c"/><stop offset="0.510" stop-color="#414141"/><stop offset="0.748" stop-color="#434343"/><stop offset="0.782" stop-color="#3e3e3e"/><stop offset="0.864" stop-color="#2f2f2f"/><stop offset="0.884" stop-color="#2d2d2d"/><stop offset="1.000" stop-color="#232323"/></linearGradient><linearGradient id="rg40" gradientUnits="userSpaceOnUse" x1="225" y1="0" x2="372" y2="0"><stop offset="0.000" stop-color="#111111"/><stop offset="0.204" stop-color="#181818"/><stop offset="0.320" stop-color="#252525"/><stop offset="0.374" stop-color="#2a2a2a"/><stop offset="0.442" stop-color="#353535"/><stop offset="0.510" stop-color="#3b3b3b"/><stop offset="0.748" stop-color="#3e3e3e"/><stop offset="0.782" stop-color="#3a3a3a"/><stop offset="0.864" stop-color="#2b2b2b"/><stop offset="0.884" stop-color="#292929"/><stop offset="1.000" stop-color="#212121"/></linearGradient><linearGradient id="rg41" gradientUnits="userSpaceOnUse" x1="225" y1="0" x2="372" y2="0"><stop offset="0.000" stop-color="#101010"/><stop offset="0.204" stop-color="#161616"/><stop offset="0.320" stop-color="#1f1f1f"/><stop offset="0.374" stop-color="#232323"/><stop offset="0.442" stop-color="#2d2d2d"/><stop offset="0.510" stop-color="#363636"/><stop offset="0.748" stop-color="#383838"/><stop offset="0.782" stop-color="#363636"/><stop offset="0.864" stop-color="#282828"/><stop offset="0.884" stop-color="#252525"/><stop offset="1.000" stop-color="#1e1e1e"/></linearGradient><linearGradient id="rg42" gradientUnits="userSpaceOnUse" x1="225" y1="0" x2="372" y2="0"><stop offset="0.000" stop-color="#101010"/><stop offset="0.204" stop-color="#141414"/><stop offset="0.320" stop-color="#191919"/><stop offset="0.374" stop-color="#1b1b1b"/><stop offset="0.442" stop-color="#262626"/><stop offset="0.510" stop-color="#303030"/><stop offset="0.748" stop-color="#323232"/><stop offset="0.782" stop-color="#313131"/><stop offset="0.864" stop-color="#252525"/><stop offset="0.884" stop-color="#222222"/><stop offset="1.000" stop-color="#1c1c1c"/></linearGradient><linearGradient id="rg43" gradientUnits="userSpaceOnUse" x1="225" y1="0" x2="372" y2="0"><stop offset="0.000" stop-color="#0f0f0f"/><stop offset="0.374" stop-color="#141414"/><stop offset="0.510" stop-color="#2b2b2b"/><stop offset="0.782" stop-color="#2d2d2d"/><stop offset="0.884" stop-color="#1e1e1e"/><stop offset="1.000" stop-color="#191919"/></linearGradient><linearGradient id="rg44" gradientUnits="userSpaceOnUse" x1="225" y1="0" x2="372" y2="0"><stop offset="0.000" stop-color="#0f0f0f"/><stop offset="0.374" stop-color="#141414"/><stop offset="0.510" stop-color="#272727"/><stop offset="0.782" stop-color="#2a2a2a"/><stop offset="0.884" stop-color="#1d1d1d"/><stop offset="1.000" stop-color="#181818"/></linearGradient><linearGradient id="rg45" gradientUnits="userSpaceOnUse" x1="225" y1="0" x2="372" y2="0"><stop offset="0.000" stop-color="#0e0e0e"/><stop offset="0.374" stop-color="#131313"/><stop offset="0.510" stop-color="#232323"/><stop offset="0.782" stop-color="#262626"/><stop offset="0.884" stop-color="#1b1b1b"/><stop offset="1.000" stop-color="#171717"/></linearGradient><linearGradient id="rg46" gradientUnits="userSpaceOnUse" x1="225" y1="0" x2="372" y2="0"><stop offset="0.000" stop-color="#0e0e0e"/><stop offset="0.374" stop-color="#131313"/><stop offset="0.510" stop-color="#1f1f1f"/><stop offset="0.782" stop-color="#232323"/><stop offset="0.884" stop-color="#1a1a1a"/><stop offset="1.000" stop-color="#161616"/></linearGradient><linearGradient id="rg47" gradientUnits="userSpaceOnUse" x1="225" y1="0" x2="372" y2="0"><stop offset="0.000" stop-color="#0e0e0e"/><stop offset="0.374" stop-color="#121212"/><stop offset="0.510" stop-color="#1b1b1b"/><stop offset="0.782" stop-color="#202020"/><stop offset="0.884" stop-color="#181818"/><stop offset="1.000" stop-color="#151515"/></linearGradient><linearGradient id="rg48" gradientUnits="userSpaceOnUse" x1="225" y1="0" x2="372" y2="0"><stop offset="0.000" stop-color="#0d0d0d"/><stop offset="0.374" stop-color="#111111"/><stop offset="0.510" stop-color="#181818"/><stop offset="0.782" stop-color="#1c1c1c"/><stop offset="0.884" stop-color="#171717"/><stop offset="1.000" stop-color="#141414"/></linearGradient><linearGradient id="rg49" gradientUnits="userSpaceOnUse" x1="225" y1="0" x2="372" y2="0"><stop offset="0.000" stop-color="#0d0d0d"/><stop offset="0.374" stop-color="#111111"/><stop offset="0.510" stop-color="#141414"/><stop offset="0.782" stop-color="#191919"/><stop offset="0.884" stop-color="#151515"/><stop offset="1.000" stop-color="#121212"/></linearGradient><linearGradient id="rg50" gradientUnits="userSpaceOnUse" x1="225" y1="0" x2="372" y2="0"><stop offset="0.000" stop-color="#0d0d0d"/><stop offset="0.510" stop-color="#121212"/><stop offset="0.782" stop-color="#171717"/><stop offset="1.000" stop-color="#121212"/></linearGradient></defs><rect x="225" y="238" width="147" height="3.5" fill="url(#rg1)"/><rect x="225" y="241" width="147" height="3.5" fill="url(#rg2)"/><rect x="225" y="244" width="147" height="3.5" fill="url(#rg3)"/><rect x="225" y="247" width="147" height="3.5" fill="url(#rg4)"/><rect x="225" y="250" width="147" height="3.5" fill="url(#rg5)"/><rect x="225" y="253" width="147" height="3.5" fill="url(#rg6)"/><rect x="225" y="256" width="147" height="3.5" fill="url(#rg7)"/><rect x="225" y="259" width="147" height="3.5" fill="url(#rg8)"/><rect x="225" y="262" width="147" height="3.5" fill="url(#rg9)"/><rect x="225" y="265" width="147" height="3.5" fill="url(#rg10)"/><rect x="225" y="268" width="147" height="3.5" fill="url(#rg11)"/><rect x="225" y="271" width="147" height="3.5" fill="url(#rg12)"/><rect x="225" y="274" width="147" height="3.5" fill="url(#rg13)"/><rect x="225" y="277" width="147" height="3.5" fill="url(#rg14)"/><rect x="225" y="280" width="147" height="3.5" fill="url(#rg15)"/><rect x="225" y="283" width="147" height="3.5" fill="url(#rg16)"/><rect x="225" y="286" width="147" height="3.5" fill="url(#rg17)"/><rect x="225" y="289" width="147" height="3.5" fill="url(#rg18)"/><rect x="225" y="292" width="147" height="3.5" fill="url(#rg19)"/><rect x="225" y="295" width="147" height="3.5" fill="url(#rg20)"/><rect x="225" y="298" width="147" height="3.5" fill="url(#rg21)"/><rect x="225" y="301" width="147" height="3.5" fill="url(#rg22)"/><rect x="225" y="304" width="147" height="3.5" fill="url(#rg23)"/><rect x="225" y="307" width="147" height="3.5" fill="url(#rg24)"/><rect x="225" y="310" width="147" height="3.5" fill="url(#rg25)"/><rect x="225" y="313" width="147" height="3.5" fill="url(#rg26)"/><rect x="225" y="316" width="147" height="3.5" fill="url(#rg27)"/><rect x="225" y="319" width="147" height="3.5" fill="url(#rg28)"/><rect x="225" y="322" width="147" height="3.5" fill="url(#rg29)"/><rect x="225" y="325" width="147" height="3.5" fill="url(#rg30)"/><rect x="225" y="328" width="147" height="3.5" fill="url(#rg31)"/><rect x="225" y="331" width="147" height="3.5" fill="url(#rg32)"/><rect x="225" y="334" width="147" height="3.5" fill="url(#rg33)"/><rect x="225" y="337" width="147" height="3.5" fill="url(#rg34)"/><rect x="225" y="340" width="147" height="3.5" fill="url(#rg35)"/><rect x="225" y="343" width="147" height="3.5" fill="url(#rg36)"/><rect x="225" y="346" width="147" height="3.5" fill="url(#rg37)"/><rect x="225" y="349" width="147" height="3.5" fill="url(#rg38)"/><rect x="225" y="352" width="147" height="3.5" fill="url(#rg39)"/><rect x="225" y="355" width="147" height="3.5" fill="url(#rg40)"/><rect x="225" y="358" width="147" height="3.5" fill="url(#rg41)"/><rect x="225" y="361" width="147" height="3.5" fill="url(#rg42)"/><rect x="225" y="364" width="147" height="3.5" fill="url(#rg43)"/><rect x="225" y="367" width="147" height="3.5" fill="url(#rg44)"/><rect x="225" y="370" width="147" height="3.5" fill="url(#rg45)"/><rect x="225" y="373" width="147" height="3.5" fill="url(#rg46)"/><rect x="225" y="376" width="147" height="3.5" fill="url(#rg47)"/><rect x="225" y="379" width="147" height="3.5" fill="url(#rg48)"/><rect x="225" y="382" width="147" height="3.5" fill="url(#rg49)"/><rect x="225" y="385" width="147" height="3.5" fill="url(#rg50)"/></g></g>
<path d="M282,284.1 C254.5,284.1 254.5,330.6 282,330.6 C292,329.6 312,329.6 322,330.6 C350,330.6 350,284.1 322,284.1 C312,285.5 292,285.5 282,284.1 z" fill="none" stroke="#000" stroke-width="2.2"/>
<path d="M278.5,292 L278.5,324 C278.5,356 326.3,356 326.3,324 L326.3,292 C326.3,259.3 278.5,259.3 278.5,292 z" fill="none" stroke="#000" stroke-width="2.2" stroke-dasharray="4.2,3"/>
<rect x="300.9" y="234.5" width="2.4" height="146.1" fill="#1c1ce0"/>
<rect x="307.2" y="235" width="13.8" height="13.9" fill="#fff"/>
<text x="314.4" y="246.9" font-size="12" text-anchor="middle" fill="#2424a8" >#2</text>
<rect x="346" y="340.2" width="22" height="26.8" fill="#fff"/>
<text x="374" y="350.7" font-size="11.5" text-anchor="end" fill="#111"><tspan font-style="italic">s</tspan> pol.</text>
<text x="373" y="363.7" font-size="11.5" text-anchor="end" fill="#111" >15 K</text>
<path d="M243.76,381.00L243.76,370.50M258.42,381.00L258.42,375.20M273.08,381.00L273.08,375.20M287.74,381.00L287.74,375.20M302.40,381.00L302.40,370.50M317.06,381.00L317.06,375.20M331.72,381.00L331.72,375.20M346.38,381.00L346.38,375.20M361.04,381.00L361.04,370.50" stroke="#1a1a1a" stroke-width="1.1" fill="none"/>
<path d="M229.30,366.64L239.80,366.64M229.30,351.98L235.10,351.98M229.30,337.32L235.10,337.32M229.30,322.66L235.10,322.66M229.30,308.00L239.80,308.00M229.30,293.34L235.10,293.34M229.30,278.68L235.10,278.68M229.30,264.02L235.10,264.02M229.30,249.36L239.80,249.36" stroke="#1a1a1a" stroke-width="1.1" fill="none"/>
<rect x="229.3" y="234.5" width="146.39999999999998" height="146.5" fill="none" stroke="#666" stroke-width="1.2"/>
<text x="243.76" y="394.9" font-size="13" text-anchor="middle" fill="#111" >−0.2</text>
<text x="225.8" y="369.48999999999995" font-size="13" text-anchor="end" fill="#111" >−0.2</text>
<text x="302.4" y="394.9" font-size="13" text-anchor="middle" fill="#111" >0</text>
<text x="225.8" y="312.04999999999995" font-size="13" text-anchor="end" fill="#111" >0</text>
<text x="361.03999999999996" y="394.9" font-size="13" text-anchor="middle" fill="#111" >0.2</text>
<text x="225.8" y="254.61" font-size="13" text-anchor="end" fill="#111" >0.2</text>
<text x="0" y="0" font-size="13" text-anchor="middle" fill="#111" transform="translate(203.5,307) rotate(-90)"><tspan font-style="italic">k</tspan><tspan font-style="italic" font-size="9.5" dy="2.5">y</tspan><tspan dy="-2.5"> (Å</tspan><tspan font-size="9.5" dy="-4.5">−1</tspan><tspan dy="4.5">)</tspan></text>
<text x="302.3" y="414.9" font-size="13" text-anchor="middle" fill="#111"><tspan font-style="italic">k</tspan><tspan font-style="italic" font-size="9.5" dy="2.5">x</tspan><tspan dy="-2.5"> (Å</tspan><tspan font-size="9.5" dy="-4.5">−1</tspan><tspan dy="4.5">)</tspan></text>
<clipPath id="cld"><rect x="476.3" y="28.7" width="83.4" height="146.3"/></clipPath>
<g clip-path="url(#cld)"><g filter="url(#jd)"><defs><linearGradient id="rg51" gradientUnits="userSpaceOnUse" x1="470" y1="0" x2="566" y2="0"><stop offset="0.000" stop-color="#080808"/><stop offset="1.000" stop-color="#080808"/></linearGradient><linearGradient id="rg52" gradientUnits="userSpaceOnUse" x1="470" y1="0" x2="566" y2="0"><stop offset="0.000" stop-color="#080808"/><stop offset="1.000" stop-color="#080808"/></linearGradient><linearGradient id="rg53" gradientUnits="userSpaceOnUse" x1="470" y1="0" x2="566" y2="0"><stop offset="0.000" stop-color="#080808"/><stop offset="1.000" stop-color="#080808"/></linearGradient><linearGradient id="rg54" gradientUnits="userSpaceOnUse" x1="470" y1="0" x2="566" y2="0"><stop offset="0.000" stop-color="#090909"/><stop offset="1.000" stop-color="#090909"/></linearGradient><linearGradient id="rg55" gradientUnits="userSpaceOnUse" x1="470" y1="0" x2="566" y2="0"><stop offset="0.000" stop-color="#090909"/><stop offset="1.000" stop-color="#090909"/></linearGradient><linearGradient id="rg56" gradientUnits="userSpaceOnUse" x1="470" y1="0" x2="566" y2="0"><stop offset="0.000" stop-color="#0a0a0a"/><stop offset="1.000" stop-color="#0a0a0a"/></linearGradient><linearGradient id="rg57" gradientUnits="userSpaceOnUse" x1="470" y1="0" x2="566" y2="0"><stop offset="0.000" stop-color="#0a0a0a"/><stop offset="1.000" stop-color="#0a0a0a"/></linearGradient><linearGradient id="rg58" gradientUnits="userSpaceOnUse" x1="470" y1="0" x2="566" y2="0"><stop offset="0.000" stop-color="#0b0b0b"/><stop offset="0.260" stop-color="#0e0e0e"/><stop offset="0.729" stop-color="#0e0e0e"/><stop offset="1.000" stop-color="#0b0b0b"/></linearGradient><linearGradient id="rg59" gradientUnits="userSpaceOnUse" x1="470" y1="0" x2="566" y2="0"><stop offset="0.000" stop-color="#0c0c0c"/><stop offset="0.260" stop-color="#161616"/><stop offset="0.729" stop-color="#161616"/><stop offset="1.000" stop-color="#0c0c0c"/></linearGradient><linearGradient id="rg60" gradientUnits="userSpaceOnUse" x1="470" y1="0" x2="566" y2="0"><stop offset="0.000" stop-color="#121212"/><stop offset="0.208" stop-color="#232323"/><stop offset="0.260" stop-color="#242424"/><stop offset="0.729" stop-color="#242424"/><stop offset="0.781" stop-color="#232323"/><stop offset="1.000" stop-color="#121212"/></linearGradient><linearGradient id="rg61" gradientUnits="userSpaceOnUse" x1="470" y1="0" x2="566" y2="0"><stop offset="0.000" stop-color="#1a1a1a"/><stop offset="0.208" stop-color="#363636"/><stop offset="0.781" stop-color="#363636"/><stop offset="1.000" stop-color="#1a1a1a"/></linearGradient><linearGradient id="rg62" gradientUnits="userSpaceOnUse" x1="470" y1="0" x2="566" y2="0"><stop offset="0.000" stop-color="#262626"/><stop offset="0.208" stop-color="#474747"/><stop offset="0.781" stop-color="#474747"/><stop offset="1.000" stop-color="#262626"/></linearGradient><linearGradient id="rg63" gradientUnits="userSpaceOnUse" x1="470" y1="0" x2="566" y2="0"><stop offset="0.000" stop-color="#373737"/><stop offset="0.146" stop-color="#494949"/><stop offset="0.167" stop-color="#4f4f4f"/><stop offset="0.188" stop-color="#545454"/><stop offset="0.219" stop-color="#5e5e5e"/><stop offset="0.271" stop-color="#626262"/><stop offset="0.312" stop-color="#636363"/><stop offset="0.323" stop-color="#626262"/><stop offset="0.354" stop-color="#5b5b5b"/><stop offset="0.396" stop-color="#555555"/><stop offset="0.458" stop-color="#505050"/><stop offset="0.510" stop-color="#4e4e4e"/><stop offset="0.583" stop-color="#515151"/><stop offset="0.646" stop-color="#565656"/><stop offset="0.677" stop-color="#5d5d5d"/><stop offset="0.688" stop-color="#5f5f5f"/><stop offset="0.708" stop-color="#626262"/><stop offset="0.760" stop-color="#616161"/><stop offset="0.823" stop-color="#5d5d5d"/><stop offset="0.854" stop-color="#535353"/><stop offset="0.896" stop-color="#464646"/><stop offset="1.000" stop-color="#373737"/></linearGradient><linearGradient id="rg64" gradientUnits="userSpaceOnUse" x1="470" y1="0" x2="566" y2="0"><stop offset="0.000" stop-color="#2f2f2f"/><stop offset="0.146" stop-color="#434343"/><stop offset="0.167" stop-color="#5e5e5e"/><stop offset="0.188" stop-color="#797979"/><stop offset="0.219" stop-color="#afafaf"/><stop offset="0.271" stop-color="#b9b9b9"/><stop offset="0.312" stop-color="#ababab"/><stop offset="0.323" stop-color="#a7a7a7"/><stop offset="0.354" stop-color="#7f7f7f"/><stop offset="0.396" stop-color="#5f5f5f"/><stop offset="0.458" stop-color="#4d4d4d"/><stop offset="0.510" stop-color="#484848"/><stop offset="0.583" stop-color="#4d4d4d"/><stop offset="0.646" stop-color="#5f5f5f"/><stop offset="0.677" stop-color="#868686"/><stop offset="0.688" stop-color="#929292"/><stop offset="0.708" stop-color="#ababab"/><stop offset="0.760" stop-color="#b8b8b8"/><stop offset="0.823" stop-color="#b3b3b3"/><stop offset="0.854" stop-color="#797979"/><stop offset="0.896" stop-color="#414141"/><stop offset="1.000" stop-color="#343434"/></linearGradient><linearGradient id="rg65" gradientUnits="userSpaceOnUse" x1="470" y1="0" x2="566" y2="0"><stop offset="0.000" stop-color="#303030"/><stop offset="0.083" stop-color="#3d3d3d"/><stop offset="0.115" stop-color="#464646"/><stop offset="0.146" stop-color="#525252"/><stop offset="0.156" stop-color="#616161"/><stop offset="0.188" stop-color="#8d8d8d"/><stop offset="0.219" stop-color="#c0c0c0"/><stop offset="0.250" stop-color="#c5c5c5"/><stop offset="0.271" stop-color="#c7c7c7"/><stop offset="0.302" stop-color="#bbbbbb"/><stop offset="0.323" stop-color="#b1b1b1"/><stop offset="0.333" stop-color="#a2a2a2"/><stop offset="0.354" stop-color="#868686"/><stop offset="0.375" stop-color="#737373"/><stop offset="0.396" stop-color="#636363"/><stop offset="0.427" stop-color="#575757"/><stop offset="0.458" stop-color="#4c4c4c"/><stop offset="0.469" stop-color="#4b4b4b"/><stop offset="0.510" stop-color="#474747"/><stop offset="0.521" stop-color="#474747"/><stop offset="0.583" stop-color="#4c4c4c"/><stop offset="0.635" stop-color="#5e5e5e"/><stop offset="0.646" stop-color="#636363"/><stop offset="0.677" stop-color="#8e8e8e"/><stop offset="0.708" stop-color="#b8b8b8"/><stop offset="0.760" stop-color="#c8c8c8"/><stop offset="0.823" stop-color="#c5c5c5"/><stop offset="0.854" stop-color="#8a8a8a"/><stop offset="0.896" stop-color="#4d4d4d"/><stop offset="1.000" stop-color="#414141"/></linearGradient><linearGradient id="rg66" gradientUnits="userSpaceOnUse" x1="470" y1="0" x2="566" y2="0"><stop offset="0.000" stop-color="#323232"/><stop offset="0.083" stop-color="#414141"/><stop offset="0.115" stop-color="#505050"/><stop offset="0.146" stop-color="#646464"/><stop offset="0.156" stop-color="#747474"/><stop offset="0.188" stop-color="#9e9e9e"/><stop offset="0.219" stop-color="#c4c4c4"/><stop offset="0.250" stop-color="#c8c8c8"/><stop offset="0.271" stop-color="#c8c8c8"/><stop offset="0.302" stop-color="#bbbbbb"/><stop offset="0.323" stop-color="#aeaeae"/><stop offset="0.333" stop-color="#a1a1a1"/><stop offset="0.354" stop-color="#878787"/><stop offset="0.375" stop-color="#747474"/><stop offset="0.396" stop-color="#656565"/><stop offset="0.427" stop-color="#585858"/><stop offset="0.458" stop-color="#4c4c4c"/><stop offset="0.469" stop-color="#4a4a4a"/><stop offset="0.510" stop-color="#464646"/><stop offset="0.521" stop-color="#464646"/><stop offset="0.583" stop-color="#4d4d4d"/><stop offset="0.635" stop-color="#5f5f5f"/><stop offset="0.646" stop-color="#666666"/><stop offset="0.677" stop-color="#8f8f8f"/><stop offset="0.708" stop-color="#b8b8b8"/><stop offset="0.760" stop-color="#c9c9c9"/><stop offset="0.823" stop-color="#c8c8c8"/><stop offset="0.854" stop-color="#969696"/><stop offset="0.896" stop-color="#5e5e5e"/><stop offset="1.000" stop-color="#515151"/></linearGradient><linearGradient id="rg67" gradientUnits="userSpaceOnUse" x1="470" y1="0" x2="566" y2="0"><stop offset="0.000" stop-color="#343434"/><stop offset="0.083" stop-color="#454545"/><stop offset="0.115" stop-color="#595959"/><stop offset="0.146" stop-color="#777777"/><stop offset="0.156" stop-color="#868686"/><stop offset="0.188" stop-color="#aeaeae"/><stop offset="0.219" stop-color="#c8c8c8"/><stop offset="0.250" stop-color="#cbcbcb"/><stop offset="0.271" stop-color="#c8c8c8"/><stop offset="0.302" stop-color="#bcbcbc"/><stop offset="0.323" stop-color="#acacac"/><stop offset="0.333" stop-color="#a0a0a0"/><stop offset="0.354" stop-color="#888888"/><stop offset="0.375" stop-color="#747474"/><stop offset="0.396" stop-color="#666666"/><stop offset="0.427" stop-color="#585858"/><stop offset="0.458" stop-color="#4c4c4c"/><stop offset="0.469" stop-color="#494949"/><stop offset="0.510" stop-color="#454545"/><stop offset="0.521" stop-color="#454545"/><stop offset="0.583" stop-color="#4c4c4c"/><stop offset="0.635" stop-color="#606060"/><stop offset="0.646" stop-color="#696969"/><stop offset="0.677" stop-color="#919191"/><stop offset="0.708" stop-color="#b8b8b8"/><stop offset="0.760" stop-color="#cacaca"/><stop offset="0.823" stop-color="#cbcbcb"/><stop offset="0.854" stop-color="#a2a2a2"/><stop offset="0.896" stop-color="#6e6e6e"/><stop offset="1.000" stop-color="#616161"/></linearGradient><linearGradient id="rg68" gradientUnits="userSpaceOnUse" x1="470" y1="0" x2="566" y2="0"><stop offset="0.000" stop-color="#363636"/><stop offset="0.083" stop-color="#494949"/><stop offset="0.115" stop-color="#636363"/><stop offset="0.146" stop-color="#8a8a8a"/><stop offset="0.156" stop-color="#999999"/><stop offset="0.188" stop-color="#bebebe"/><stop offset="0.219" stop-color="#cbcbcb"/><stop offset="0.250" stop-color="#cfcfcf"/><stop offset="0.271" stop-color="#c9c9c9"/><stop offset="0.302" stop-color="#bcbcbc"/><stop offset="0.323" stop-color="#aaaaaa"/><stop offset="0.333" stop-color="#9f9f9f"/><stop offset="0.354" stop-color="#898989"/><stop offset="0.375" stop-color="#757575"/><stop offset="0.396" stop-color="#686868"/><stop offset="0.427" stop-color="#595959"/><stop offset="0.458" stop-color="#4c4c4c"/><stop offset="0.469" stop-color="#484848"/><stop offset="0.510" stop-color="#444444"/><stop offset="0.521" stop-color="#434343"/><stop offset="0.583" stop-color="#4c4c4c"/><stop offset="0.635" stop-color="#606060"/><stop offset="0.646" stop-color="#6b6b6b"/><stop offset="0.677" stop-color="#939393"/><stop offset="0.708" stop-color="#b8b8b8"/><stop offset="0.760" stop-color="#cbcbcb"/><stop offset="0.823" stop-color="#cecece"/><stop offset="0.854" stop-color="#aeaeae"/><stop offset="0.896" stop-color="#7f7f7f"/><stop offset="1.000" stop-color="#727272"/></linearGradient><linearGradient id="rg69" gradientUnits="userSpaceOnUse" x1="470" y1="0" x2="566" y2="0"><stop offset="0.000" stop-color="#3a3a3a"/><stop offset="0.062" stop-color="#4a4a4a"/><stop offset="0.083" stop-color="#4f4f4f"/><stop offset="0.104" stop-color="#636363"/><stop offset="0.115" stop-color="#6d6d6d"/><stop offset="0.146" stop-color="#9a9a9a"/><stop offset="0.156" stop-color="#a9a9a9"/><stop offset="0.188" stop-color="#cccccc"/><stop offset="0.208" stop-color="#cecece"/><stop offset="0.250" stop-color="#d1d1d1"/><stop offset="0.302" stop-color="#bdbdbd"/><stop offset="0.333" stop-color="#9e9e9e"/><stop offset="0.375" stop-color="#757575"/><stop offset="0.427" stop-color="#595959"/><stop offset="0.469" stop-color="#474747"/><stop offset="0.521" stop-color="#424242"/><stop offset="0.542" stop-color="#464646"/><stop offset="0.583" stop-color="#4d4d4d"/><stop offset="0.604" stop-color="#555555"/><stop offset="0.635" stop-color="#616161"/><stop offset="0.656" stop-color="#7a7a7a"/><stop offset="0.677" stop-color="#949494"/><stop offset="0.688" stop-color="#a0a0a0"/><stop offset="0.708" stop-color="#b7b7b7"/><stop offset="0.719" stop-color="#bcbcbc"/><stop offset="0.760" stop-color="#cccccc"/><stop offset="0.771" stop-color="#cdcdcd"/><stop offset="0.823" stop-color="#d1d1d1"/><stop offset="0.833" stop-color="#c9c9c9"/><stop offset="0.854" stop-color="#b9b9b9"/><stop offset="0.865" stop-color="#aeaeae"/><stop offset="0.896" stop-color="#8f8f8f"/><stop offset="1.000" stop-color="#828282"/></linearGradient><linearGradient id="rg70" gradientUnits="userSpaceOnUse" x1="470" y1="0" x2="566" y2="0"><stop offset="0.000" stop-color="#474747"/><stop offset="0.062" stop-color="#575757"/><stop offset="0.083" stop-color="#5e5e5e"/><stop offset="0.104" stop-color="#727272"/><stop offset="0.115" stop-color="#7b7b7b"/><stop offset="0.146" stop-color="#a3a3a3"/><stop offset="0.156" stop-color="#b0b0b0"/><stop offset="0.188" stop-color="#cdcdcd"/><stop offset="0.208" stop-color="#cfcfcf"/><stop offset="0.250" stop-color="#cecece"/><stop offset="0.302" stop-color="#bcbcbc"/><stop offset="0.333" stop-color="#9e9e9e"/><stop offset="0.375" stop-color="#767676"/><stop offset="0.427" stop-color="#5a5a5a"/><stop offset="0.469" stop-color="#484848"/><stop offset="0.521" stop-color="#434343"/><stop offset="0.542" stop-color="#464646"/><stop offset="0.583" stop-color="#4d4d4d"/><stop offset="0.604" stop-color="#545454"/><stop offset="0.635" stop-color="#616161"/><stop offset="0.656" stop-color="#797979"/><stop offset="0.677" stop-color="#929292"/><stop offset="0.688" stop-color="#9f9f9f"/><stop offset="0.708" stop-color="#b6b6b6"/><stop offset="0.719" stop-color="#bbbbbb"/><stop offset="0.760" stop-color="#cbcbcb"/><stop offset="0.771" stop-color="#cdcdcd"/><stop offset="0.823" stop-color="#d2d2d2"/><stop offset="0.833" stop-color="#cccccc"/><stop offset="0.854" stop-color="#c0c0c0"/><stop offset="0.865" stop-color="#b8b8b8"/><stop offset="0.896" stop-color="#9d9d9d"/><stop offset="1.000" stop-color="#939393"/></linearGradient><linearGradient id="rg71" gradientUnits="userSpaceOnUse" x1="470" y1="0" x2="566" y2="0"><stop offset="0.000" stop-color="#535353"/><stop offset="0.062" stop-color="#656565"/><stop offset="0.083" stop-color="#6e6e6e"/><stop offset="0.104" stop-color="#808080"/><stop offset="0.115" stop-color="#898989"/><stop offset="0.146" stop-color="#ababab"/><stop offset="0.156" stop-color="#b6b6b6"/><stop offset="0.188" stop-color="#cfcfcf"/><stop offset="0.208" stop-color="#d0d0d0"/><stop offset="0.250" stop-color="#cccccc"/><stop offset="0.302" stop-color="#bbbbbb"/><stop offset="0.333" stop-color="#9e9e9e"/><stop offset="0.375" stop-color="#767676"/><stop offset="0.427" stop-color="#5a5a5a"/><stop offset="0.469" stop-color="#484848"/><stop offset="0.521" stop-color="#444444"/><stop offset="0.542" stop-color="#454545"/><stop offset="0.583" stop-color="#4d4d4d"/><stop offset="0.604" stop-color="#545454"/><stop offset="0.635" stop-color="#626262"/><stop offset="0.656" stop-color="#777777"/><stop offset="0.677" stop-color="#919191"/><stop offset="0.688" stop-color="#9e9e9e"/><stop offset="0.708" stop-color="#b4b4b4"/><stop offset="0.719" stop-color="#bababa"/><stop offset="0.760" stop-color="#cbcbcb"/><stop offset="0.771" stop-color="#cdcdcd"/><stop offset="0.823" stop-color="#d4d4d4"/><stop offset="0.833" stop-color="#cfcfcf"/><stop offset="0.854" stop-color="#c7c7c7"/><stop offset="0.865" stop-color="#c1c1c1"/><stop offset="0.896" stop-color="#ababab"/><stop offset="1.000" stop-color="#a4a4a4"/></linearGradient><linearGradient id="rg72" gradientUnits="userSpaceOnUse" x1="470" y1="0" x2="566" y2="0"><stop offset="0.000" stop-color="#606060"/><stop offset="0.062" stop-color="#737373"/><stop offset="0.083" stop-color="#7d7d7d"/><stop offset="0.104" stop-color="#8f8f8f"/><stop offset="0.115" stop-color="#969696"/><stop offset="0.146" stop-color="#b4b4b4"/><stop offset="0.156" stop-color="#bcbcbc"/><stop offset="0.188" stop-color="#d0d0d0"/><stop offset="0.208" stop-color="#d2d2d2"/><stop offset="0.250" stop-color="#cacaca"/><stop offset="0.302" stop-color="#bababa"/><stop offset="0.333" stop-color="#9e9e9e"/><stop offset="0.375" stop-color="#777777"/><stop offset="0.427" stop-color="#5a5a5a"/><stop offset="0.469" stop-color="#494949"/><stop offset="0.521" stop-color="#444444"/><stop offset="0.542" stop-color="#454545"/><stop offset="0.583" stop-color="#4d4d4d"/><stop offset="0.604" stop-color="#535353"/><stop offset="0.635" stop-color="#626262"/><stop offset="0.656" stop-color="#767676"/><stop offset="0.677" stop-color="#909090"/><stop offset="0.688" stop-color="#9d9d9d"/><stop offset="0.708" stop-color="#b3b3b3"/><stop offset="0.719" stop-color="#bababa"/><stop offset="0.760" stop-color="#cacaca"/><stop offset="0.771" stop-color="#cccccc"/><stop offset="0.823" stop-color="#d5d5d5"/><stop offset="0.833" stop-color="#d1d1d1"/><stop offset="0.854" stop-color="#cdcdcd"/><stop offset="0.865" stop-color="#cacaca"/><stop offset="0.896" stop-color="#bababa"/><stop offset="1.000" stop-color="#b5b5b5"/></linearGradient><linearGradient id="rg73" gradientUnits="userSpaceOnUse" x1="470" y1="0" x2="566" y2="0"><stop offset="0.000" stop-color="#6d6d6d"/><stop offset="0.062" stop-color="#818181"/><stop offset="0.083" stop-color="#8c8c8c"/><stop offset="0.104" stop-color="#9d9d9d"/><stop offset="0.115" stop-color="#a4a4a4"/><stop offset="0.146" stop-color="#bcbcbc"/><stop offset="0.156" stop-color="#c2c2c2"/><stop offset="0.188" stop-color="#d1d1d1"/><stop offset="0.208" stop-color="#d3d3d3"/><stop offset="0.250" stop-color="#c8c8c8"/><stop offset="0.302" stop-color="#bababa"/><stop offset="0.333" stop-color="#9e9e9e"/><stop offset="0.375" stop-color="#777777"/><stop offset="0.427" stop-color="#5b5b5b"/><stop offset="0.469" stop-color="#494949"/><stop offset="0.521" stop-color="#454545"/><stop offset="0.542" stop-color="#454545"/><stop offset="0.583" stop-color="#4d4d4d"/><stop offset="0.604" stop-color="#535353"/><stop offset="0.635" stop-color="#636363"/><stop offset="0.656" stop-color="#747474"/><stop offset="0.677" stop-color="#8f8f8f"/><stop offset="0.688" stop-color="#9c9c9c"/><stop offset="0.708" stop-color="#b1b1b1"/><stop offset="0.719" stop-color="#b9b9b9"/><stop offset="0.760" stop-color="#c9c9c9"/><stop offset="0.771" stop-color="#cccccc"/><stop offset="0.823" stop-color="#d6d6d6"/><stop offset="0.833" stop-color="#d4d4d4"/><stop offset="0.854" stop-color="#d4d4d4"/><stop offset="0.865" stop-color="#d3d3d3"/><stop offset="0.896" stop-color="#c8c8c8"/><stop offset="1.000" stop-color="#c6c6c6"/></linearGradient><linearGradient id="rg74" gradientUnits="userSpaceOnUse" x1="470" y1="0" x2="566" y2="0"><stop offset="0.000" stop-color="#797979"/><stop offset="0.062" stop-color="#8f8f8f"/><stop offset="0.083" stop-color="#9c9c9c"/><stop offset="0.104" stop-color="#acacac"/><stop offset="0.115" stop-color="#b1b1b1"/><stop offset="0.146" stop-color="#c4c4c4"/><stop offset="0.156" stop-color="#c9c9c9"/><stop offset="0.188" stop-color="#d3d3d3"/><stop offset="0.208" stop-color="#d4d4d4"/><stop offset="0.250" stop-color="#c5c5c5"/><stop offset="0.302" stop-color="#b9b9b9"/><stop offset="0.333" stop-color="#9e9e9e"/><stop offset="0.375" stop-color="#777777"/><stop offset="0.427" stop-color="#5b5b5b"/><stop offset="0.469" stop-color="#494949"/><stop offset="0.521" stop-color="#454545"/><stop offset="0.542" stop-color="#454545"/><stop offset="0.583" stop-color="#4d4d4d"/><stop offset="0.604" stop-color="#525252"/><stop offset="0.635" stop-color="#636363"/><stop offset="0.656" stop-color="#727272"/><stop offset="0.677" stop-color="#8d8d8d"/><stop offset="0.688" stop-color="#9b9b9b"/><stop offset="0.708" stop-color="#b0b0b0"/><stop offset="0.719" stop-color="#b9b9b9"/><stop offset="0.760" stop-color="#c9c9c9"/><stop offset="0.771" stop-color="#cccccc"/><stop offset="0.823" stop-color="#d7d7d7"/><stop offset="0.833" stop-color="#d7d7d7"/><stop offset="0.854" stop-color="#dbdbdb"/><stop offset="0.865" stop-color="#dddddd"/><stop offset="0.896" stop-color="#d6d6d6"/><stop offset="1.000" stop-color="#d6d6d6"/></linearGradient><linearGradient id="rg75" gradientUnits="userSpaceOnUse" x1="470" y1="0" x2="566" y2="0"><stop offset="0.000" stop-color="#868686"/><stop offset="0.062" stop-color="#9c9c9c"/><stop offset="0.083" stop-color="#ababab"/><stop offset="0.104" stop-color="#bbbbbb"/><stop offset="0.115" stop-color="#bfbfbf"/><stop offset="0.146" stop-color="#cdcdcd"/><stop offset="0.156" stop-color="#cfcfcf"/><stop offset="0.188" stop-color="#d4d4d4"/><stop offset="0.208" stop-color="#d6d6d6"/><stop offset="0.250" stop-color="#c3c3c3"/><stop offset="0.302" stop-color="#b8b8b8"/><stop offset="0.333" stop-color="#9e9e9e"/><stop offset="0.375" stop-color="#787878"/><stop offset="0.427" stop-color="#5c5c5c"/><stop offset="0.469" stop-color="#4a4a4a"/><stop offset="0.521" stop-color="#464646"/><stop offset="0.542" stop-color="#454545"/><stop offset="0.583" stop-color="#4d4d4d"/><stop offset="0.604" stop-color="#525252"/><stop offset="0.635" stop-color="#646464"/><stop offset="0.656" stop-color="#717171"/><stop offset="0.677" stop-color="#8c8c8c"/><stop offset="0.688" stop-color="#9a9a9a"/><stop offset="0.708" stop-color="#aeaeae"/><stop offset="0.719" stop-color="#b8b8b8"/><stop offset="0.760" stop-color="#c8c8c8"/><stop offset="0.771" stop-color="#cccccc"/><stop offset="0.823" stop-color="#d8d8d8"/><stop offset="0.833" stop-color="#dadada"/><stop offset="0.854" stop-color="#e2e2e2"/><stop offset="0.865" stop-color="#e6e6e6"/><stop offset="0.896" stop-color="#e5e5e5"/><stop offset="1.000" stop-color="#e7e7e7"/></linearGradient><linearGradient id="rg76" gradientUnits="userSpaceOnUse" x1="470" y1="0" x2="566" y2="0"><stop offset="0.000" stop-color="#959595"/><stop offset="0.062" stop-color="#aaaaaa"/><stop offset="0.104" stop-color="#c5c5c5"/><stop offset="0.125" stop-color="#cbcbcb"/><stop offset="0.146" stop-color="#d1d1d1"/><stop offset="0.167" stop-color="#d2d2d2"/><stop offset="0.198" stop-color="#d3d3d3"/><stop offset="0.208" stop-color="#d4d4d4"/><stop offset="0.250" stop-color="#c1c1c1"/><stop offset="0.292" stop-color="#b7b7b7"/><stop offset="0.302" stop-color="#b5b5b5"/><stop offset="0.333" stop-color="#9d9d9d"/><stop offset="0.354" stop-color="#8b8b8b"/><stop offset="0.375" stop-color="#797979"/><stop offset="0.427" stop-color="#5f5f5f"/><stop offset="0.438" stop-color="#5a5a5a"/><stop offset="0.469" stop-color="#4e4e4e"/><stop offset="0.521" stop-color="#4a4a4a"/><stop offset="0.542" stop-color="#494949"/><stop offset="0.604" stop-color="#555555"/><stop offset="0.656" stop-color="#727272"/><stop offset="0.688" stop-color="#989898"/><stop offset="0.719" stop-color="#b5b5b5"/><stop offset="0.750" stop-color="#c2c2c2"/><stop offset="0.771" stop-color="#cacaca"/><stop offset="0.792" stop-color="#cfcfcf"/><stop offset="0.823" stop-color="#d8d8d8"/><stop offset="0.833" stop-color="#dcdcdc"/><stop offset="0.854" stop-color="#e6e6e6"/><stop offset="0.865" stop-color="#ebebeb"/><stop offset="1.000" stop-color="#f0f0f0"/></linearGradient><linearGradient id="rg77" gradientUnits="userSpaceOnUse" x1="470" y1="0" x2="566" y2="0"><stop offset="0.000" stop-color="#a5a5a5"/><stop offset="0.062" stop-color="#b7b7b7"/><stop offset="0.104" stop-color="#cacaca"/><stop offset="0.125" stop-color="#cfcfcf"/><stop offset="0.146" stop-color="#d2d2d2"/><stop offset="0.167" stop-color="#d1d1d1"/><stop offset="0.198" stop-color="#cecece"/><stop offset="0.208" stop-color="#cecece"/><stop offset="0.250" stop-color="#bfbfbf"/><stop offset="0.292" stop-color="#b1b1b1"/><stop offset="0.302" stop-color="#afafaf"/><stop offset="0.333" stop-color="#9a9a9a"/><stop offset="0.354" stop-color="#8a8a8a"/><stop offset="0.375" stop-color="#7b7b7b"/><stop offset="0.427" stop-color="#646464"/><stop offset="0.438" stop-color="#606060"/><stop offset="0.469" stop-color="#565656"/><stop offset="0.521" stop-color="#515151"/><stop offset="0.542" stop-color="#515151"/><stop offset="0.604" stop-color="#5c5c5c"/><stop offset="0.656" stop-color="#767676"/><stop offset="0.688" stop-color="#959595"/><stop offset="0.719" stop-color="#b0b0b0"/><stop offset="0.750" stop-color="#bdbdbd"/><stop offset="0.771" stop-color="#c5c5c5"/><stop offset="0.792" stop-color="#cbcbcb"/><stop offset="0.823" stop-color="#d8d8d8"/><stop offset="0.833" stop-color="#dcdcdc"/><stop offset="0.854" stop-color="#e8e8e8"/><stop offset="0.865" stop-color="#ececec"/><stop offset="1.000" stop-color="#f1f1f1"/></linearGradient><linearGradient id="rg78" gradientUnits="userSpaceOnUse" x1="470" y1="0" x2="566" y2="0"><stop offset="0.000" stop-color="#b6b6b6"/><stop offset="0.062" stop-color="#c4c4c4"/><stop offset="0.104" stop-color="#d0d0d0"/><stop offset="0.125" stop-color="#d2d2d2"/><stop offset="0.146" stop-color="#d2d2d2"/><stop offset="0.167" stop-color="#cfcfcf"/><stop offset="0.198" stop-color="#c9c9c9"/><stop offset="0.208" stop-color="#c9c9c9"/><stop offset="0.250" stop-color="#bdbdbd"/><stop offset="0.292" stop-color="#acacac"/><stop offset="0.302" stop-color="#a9a9a9"/><stop offset="0.333" stop-color="#969696"/><stop offset="0.354" stop-color="#898989"/><stop offset="0.375" stop-color="#7d7d7d"/><stop offset="0.427" stop-color="#6a6a6a"/><stop offset="0.438" stop-color="#666666"/><stop offset="0.469" stop-color="#5e5e5e"/><stop offset="0.521" stop-color="#595959"/><stop offset="0.542" stop-color="#595959"/><stop offset="0.604" stop-color="#636363"/><stop offset="0.656" stop-color="#7a7a7a"/><stop offset="0.688" stop-color="#939393"/><stop offset="0.719" stop-color="#aaaaaa"/><stop offset="0.750" stop-color="#b9b9b9"/><stop offset="0.771" stop-color="#c1c1c1"/><stop offset="0.792" stop-color="#c7c7c7"/><stop offset="0.823" stop-color="#d7d7d7"/><stop offset="0.833" stop-color="#dddddd"/><stop offset="0.854" stop-color="#e9e9e9"/><stop offset="0.865" stop-color="#ececec"/><stop offset="1.000" stop-color="#f2f2f2"/></linearGradient><linearGradient id="rg79" gradientUnits="userSpaceOnUse" x1="470" y1="0" x2="566" y2="0"><stop offset="0.000" stop-color="#c7c7c7"/><stop offset="0.062" stop-color="#d2d2d2"/><stop offset="0.104" stop-color="#d6d6d6"/><stop offset="0.125" stop-color="#d6d6d6"/><stop offset="0.146" stop-color="#d3d3d3"/><stop offset="0.167" stop-color="#cecece"/><stop offset="0.198" stop-color="#c4c4c4"/><stop offset="0.208" stop-color="#c4c4c4"/><stop offset="0.250" stop-color="#bbbbbb"/><stop offset="0.292" stop-color="#a6a6a6"/><stop offset="0.302" stop-color="#a3a3a3"/><stop offset="0.333" stop-color="#939393"/><stop offset="0.354" stop-color="#888888"/><stop offset="0.375" stop-color="#7f7f7f"/><stop offset="0.427" stop-color="#6f6f6f"/><stop offset="0.438" stop-color="#6c6c6c"/><stop offset="0.469" stop-color="#666666"/><stop offset="0.521" stop-color="#606060"/><stop offset="0.542" stop-color="#616161"/><stop offset="0.604" stop-color="#6b6b6b"/><stop offset="0.656" stop-color="#7e7e7e"/><stop offset="0.688" stop-color="#909090"/><stop offset="0.719" stop-color="#a5a5a5"/><stop offset="0.750" stop-color="#b4b4b4"/><stop offset="0.771" stop-color="#bcbcbc"/><stop offset="0.792" stop-color="#c3c3c3"/><stop offset="0.823" stop-color="#d7d7d7"/><stop offset="0.833" stop-color="#dddddd"/><stop offset="0.854" stop-color="#ebebeb"/><stop offset="0.865" stop-color="#ededed"/><stop offset="1.000" stop-color="#f3f3f3"/></linearGradient><linearGradient id="rg80" gradientUnits="userSpaceOnUse" x1="470" y1="0" x2="566" y2="0"><stop offset="0.000" stop-color="#d8d8d8"/><stop offset="0.062" stop-color="#dfdfdf"/><stop offset="0.104" stop-color="#dcdcdc"/><stop offset="0.125" stop-color="#dadada"/><stop offset="0.146" stop-color="#d3d3d3"/><stop offset="0.167" stop-color="#cdcdcd"/><stop offset="0.198" stop-color="#bfbfbf"/><stop offset="0.208" stop-color="#bebebe"/><stop offset="0.250" stop-color="#b9b9b9"/><stop offset="0.292" stop-color="#a1a1a1"/><stop offset="0.302" stop-color="#9d9d9d"/><stop offset="0.333" stop-color="#909090"/><stop offset="0.354" stop-color="#888888"/><stop offset="0.375" stop-color="#828282"/><stop offset="0.427" stop-color="#757575"/><stop offset="0.438" stop-color="#727272"/><stop offset="0.469" stop-color="#6e6e6e"/><stop offset="0.521" stop-color="#676767"/><stop offset="0.542" stop-color="#6a6a6a"/><stop offset="0.604" stop-color="#727272"/><stop offset="0.656" stop-color="#828282"/><stop offset="0.688" stop-color="#8e8e8e"/><stop offset="0.719" stop-color="#a0a0a0"/><stop offset="0.750" stop-color="#b0b0b0"/><stop offset="0.771" stop-color="#b7b7b7"/><stop offset="0.792" stop-color="#bfbfbf"/><stop offset="0.823" stop-color="#d6d6d6"/><stop offset="0.833" stop-color="#dedede"/><stop offset="0.854" stop-color="#ececec"/><stop offset="0.865" stop-color="#ededed"/><stop offset="1.000" stop-color="#f4f4f4"/></linearGradient><linearGradient id="rg81" gradientUnits="userSpaceOnUse" x1="470" y1="0" x2="566" y2="0"><stop offset="0.000" stop-color="#e1e1e1"/><stop offset="0.062" stop-color="#e6e6e6"/><stop offset="0.125" stop-color="#dcdcdc"/><stop offset="0.135" stop-color="#d8d8d8"/><stop offset="0.167" stop-color="#cccccc"/><stop offset="0.198" stop-color="#bdbdbd"/><stop offset="0.219" stop-color="#bbbbbb"/><stop offset="0.250" stop-color="#b7b7b7"/><stop offset="0.292" stop-color="#9e9e9e"/><stop offset="0.312" stop-color="#969696"/><stop offset="0.354" stop-color="#878787"/><stop offset="0.438" stop-color="#767676"/><stop offset="0.469" stop-color="#727272"/><stop offset="0.521" stop-color="#6c6c6c"/><stop offset="0.573" stop-color="#727272"/><stop offset="0.604" stop-color="#767676"/><stop offset="0.677" stop-color="#898989"/><stop offset="0.688" stop-color="#8c8c8c"/><stop offset="0.750" stop-color="#acacac"/><stop offset="0.760" stop-color="#b0b0b0"/><stop offset="0.792" stop-color="#bcbcbc"/><stop offset="0.823" stop-color="#d5d5d5"/><stop offset="0.833" stop-color="#dddddd"/><stop offset="0.854" stop-color="#ededed"/><stop offset="1.000" stop-color="#f5f5f5"/></linearGradient><linearGradient id="rg82" gradientUnits="userSpaceOnUse" x1="470" y1="0" x2="566" y2="0"><stop offset="0.000" stop-color="#e3e3e3"/><stop offset="0.062" stop-color="#e7e7e7"/><stop offset="0.125" stop-color="#dddddd"/><stop offset="0.135" stop-color="#dadada"/><stop offset="0.167" stop-color="#cbcbcb"/><stop offset="0.198" stop-color="#bdbdbd"/><stop offset="0.219" stop-color="#bababa"/><stop offset="0.250" stop-color="#b5b5b5"/><stop offset="0.292" stop-color="#9d9d9d"/><stop offset="0.312" stop-color="#969696"/><stop offset="0.354" stop-color="#888888"/><stop offset="0.438" stop-color="#787878"/><stop offset="0.469" stop-color="#747474"/><stop offset="0.521" stop-color="#6e6e6e"/><stop offset="0.573" stop-color="#737373"/><stop offset="0.604" stop-color="#767676"/><stop offset="0.677" stop-color="#898989"/><stop offset="0.688" stop-color="#8c8c8c"/><stop offset="0.750" stop-color="#aaaaaa"/><stop offset="0.760" stop-color="#aeaeae"/><stop offset="0.792" stop-color="#bbbbbb"/><stop offset="0.823" stop-color="#d3d3d3"/><stop offset="0.833" stop-color="#dadada"/><stop offset="0.854" stop-color="#ededed"/><stop offset="1.000" stop-color="#f5f5f5"/></linearGradient><linearGradient id="rg83" gradientUnits="userSpaceOnUse" x1="470" y1="0" x2="566" y2="0"><stop offset="0.000" stop-color="#e4e4e4"/><stop offset="0.062" stop-color="#e7e7e7"/><stop offset="0.125" stop-color="#dfdfdf"/><stop offset="0.135" stop-color="#dcdcdc"/><stop offset="0.167" stop-color="#cacaca"/><stop offset="0.198" stop-color="#bcbcbc"/><stop offset="0.219" stop-color="#bababa"/><stop offset="0.250" stop-color="#b3b3b3"/><stop offset="0.292" stop-color="#9c9c9c"/><stop offset="0.312" stop-color="#959595"/><stop offset="0.354" stop-color="#898989"/><stop offset="0.438" stop-color="#7a7a7a"/><stop offset="0.469" stop-color="#767676"/><stop offset="0.521" stop-color="#707070"/><stop offset="0.573" stop-color="#737373"/><stop offset="0.604" stop-color="#777777"/><stop offset="0.677" stop-color="#898989"/><stop offset="0.688" stop-color="#8c8c8c"/><stop offset="0.750" stop-color="#a9a9a9"/><stop offset="0.760" stop-color="#acacac"/><stop offset="0.792" stop-color="#bbbbbb"/><stop offset="0.823" stop-color="#d1d1d1"/><stop offset="0.833" stop-color="#d7d7d7"/><stop offset="0.854" stop-color="#ededed"/><stop offset="1.000" stop-color="#f5f5f5"/></linearGradient><linearGradient id="rg84" gradientUnits="userSpaceOnUse" x1="470" y1="0" x2="566" y2="0"><stop offset="0.000" stop-color="#e6e6e6"/><stop offset="0.062" stop-color="#e8e8e8"/><stop offset="0.125" stop-color="#e0e0e0"/><stop offset="0.135" stop-color="#dddddd"/><stop offset="0.167" stop-color="#c9c9c9"/><stop offset="0.198" stop-color="#bcbcbc"/><stop offset="0.219" stop-color="#bababa"/><stop offset="0.250" stop-color="#b1b1b1"/><stop offset="0.292" stop-color="#9c9c9c"/><stop offset="0.312" stop-color="#959595"/><stop offset="0.354" stop-color="#898989"/><stop offset="0.438" stop-color="#7b7b7b"/><stop offset="0.469" stop-color="#787878"/><stop offset="0.521" stop-color="#727272"/><stop offset="0.573" stop-color="#747474"/><stop offset="0.604" stop-color="#787878"/><stop offset="0.677" stop-color="#898989"/><stop offset="0.688" stop-color="#8b8b8b"/><stop offset="0.750" stop-color="#a7a7a7"/><stop offset="0.760" stop-color="#aaaaaa"/><stop offset="0.792" stop-color="#bababa"/><stop offset="0.823" stop-color="#cecece"/><stop offset="0.833" stop-color="#d5d5d5"/><stop offset="0.854" stop-color="#ececec"/><stop offset="1.000" stop-color="#f5f5f5"/></linearGradient><linearGradient id="rg85" gradientUnits="userSpaceOnUse" x1="470" y1="0" x2="566" y2="0"><stop offset="0.000" stop-color="#e7e7e7"/><stop offset="0.062" stop-color="#e9e9e9"/><stop offset="0.125" stop-color="#e1e1e1"/><stop offset="0.135" stop-color="#dfdfdf"/><stop offset="0.167" stop-color="#c8c8c8"/><stop offset="0.198" stop-color="#bcbcbc"/><stop offset="0.219" stop-color="#b9b9b9"/><stop offset="0.250" stop-color="#afafaf"/><stop offset="0.292" stop-color="#9b9b9b"/><stop offset="0.312" stop-color="#949494"/><stop offset="0.354" stop-color="#8a8a8a"/><stop offset="0.438" stop-color="#7d7d7d"/><stop offset="0.469" stop-color="#7a7a7a"/><stop offset="0.521" stop-color="#737373"/><stop offset="0.573" stop-color="#757575"/><stop offset="0.604" stop-color="#797979"/><stop offset="0.677" stop-color="#898989"/><stop offset="0.688" stop-color="#8b8b8b"/><stop offset="0.750" stop-color="#a5a5a5"/><stop offset="0.760" stop-color="#a8a8a8"/><stop offset="0.792" stop-color="#b9b9b9"/><stop offset="0.823" stop-color="#cccccc"/><stop offset="0.833" stop-color="#d2d2d2"/><stop offset="0.854" stop-color="#ececec"/><stop offset="1.000" stop-color="#f5f5f5"/></linearGradient><linearGradient id="rg86" gradientUnits="userSpaceOnUse" x1="470" y1="0" x2="566" y2="0"><stop offset="0.000" stop-color="#e9e9e9"/><stop offset="0.062" stop-color="#eaeaea"/><stop offset="0.125" stop-color="#e3e3e3"/><stop offset="0.135" stop-color="#e0e0e0"/><stop offset="0.167" stop-color="#c7c7c7"/><stop offset="0.198" stop-color="#bcbcbc"/><stop offset="0.219" stop-color="#b9b9b9"/><stop offset="0.250" stop-color="#adadad"/><stop offset="0.292" stop-color="#9a9a9a"/><stop offset="0.312" stop-color="#949494"/><stop offset="0.354" stop-color="#8b8b8b"/><stop offset="0.438" stop-color="#7f7f7f"/><stop offset="0.469" stop-color="#7c7c7c"/><stop offset="0.521" stop-color="#757575"/><stop offset="0.573" stop-color="#767676"/><stop offset="0.604" stop-color="#7a7a7a"/><stop offset="0.677" stop-color="#888888"/><stop offset="0.688" stop-color="#8b8b8b"/><stop offset="0.750" stop-color="#a3a3a3"/><stop offset="0.760" stop-color="#a6a6a6"/><stop offset="0.792" stop-color="#b8b8b8"/><stop offset="0.823" stop-color="#cacaca"/><stop offset="0.833" stop-color="#cfcfcf"/><stop offset="0.854" stop-color="#ececec"/><stop offset="1.000" stop-color="#f5f5f5"/></linearGradient><linearGradient id="rg87" gradientUnits="userSpaceOnUse" x1="470" y1="0" x2="566" y2="0"><stop offset="0.000" stop-color="#eaeaea"/><stop offset="0.062" stop-color="#ebebeb"/><stop offset="0.125" stop-color="#e4e4e4"/><stop offset="0.135" stop-color="#e2e2e2"/><stop offset="0.167" stop-color="#c6c6c6"/><stop offset="0.198" stop-color="#bcbcbc"/><stop offset="0.219" stop-color="#b9b9b9"/><stop offset="0.250" stop-color="#ababab"/><stop offset="0.292" stop-color="#9a9a9a"/><stop offset="0.312" stop-color="#949494"/><stop offset="0.354" stop-color="#8b8b8b"/><stop offset="0.438" stop-color="#808080"/><stop offset="0.469" stop-color="#7e7e7e"/><stop offset="0.521" stop-color="#777777"/><stop offset="0.573" stop-color="#767676"/><stop offset="0.604" stop-color="#7a7a7a"/><stop offset="0.677" stop-color="#888888"/><stop offset="0.688" stop-color="#8b8b8b"/><stop offset="0.750" stop-color="#a1a1a1"/><stop offset="0.760" stop-color="#a4a4a4"/><stop offset="0.792" stop-color="#b7b7b7"/><stop offset="0.823" stop-color="#c8c8c8"/><stop offset="0.833" stop-color="#cdcdcd"/><stop offset="0.854" stop-color="#ececec"/><stop offset="1.000" stop-color="#f5f5f5"/></linearGradient><linearGradient id="rg88" gradientUnits="userSpaceOnUse" x1="470" y1="0" x2="566" y2="0"><stop offset="0.000" stop-color="#ececec"/><stop offset="0.062" stop-color="#ebebeb"/><stop offset="0.125" stop-color="#e6e6e6"/><stop offset="0.135" stop-color="#e4e4e4"/><stop offset="0.167" stop-color="#c5c5c5"/><stop offset="0.198" stop-color="#bcbcbc"/><stop offset="0.219" stop-color="#b9b9b9"/><stop offset="0.250" stop-color="#a9a9a9"/><stop offset="0.292" stop-color="#999999"/><stop offset="0.312" stop-color="#939393"/><stop offset="0.354" stop-color="#8c8c8c"/><stop offset="0.438" stop-color="#828282"/><stop offset="0.469" stop-color="#7f7f7f"/><stop offset="0.521" stop-color="#797979"/><stop offset="0.573" stop-color="#777777"/><stop offset="0.604" stop-color="#7b7b7b"/><stop offset="0.677" stop-color="#888888"/><stop offset="0.688" stop-color="#8a8a8a"/><stop offset="0.750" stop-color="#9f9f9f"/><stop offset="0.760" stop-color="#a2a2a2"/><stop offset="0.792" stop-color="#b6b6b6"/><stop offset="0.823" stop-color="#c5c5c5"/><stop offset="0.833" stop-color="#cacaca"/><stop offset="0.854" stop-color="#ececec"/><stop offset="1.000" stop-color="#f5f5f5"/></linearGradient><linearGradient id="rg89" gradientUnits="userSpaceOnUse" x1="470" y1="0" x2="566" y2="0"><stop offset="0.000" stop-color="#ededed"/><stop offset="0.062" stop-color="#ececec"/><stop offset="0.125" stop-color="#e7e7e7"/><stop offset="0.135" stop-color="#e5e5e5"/><stop offset="0.167" stop-color="#c5c5c5"/><stop offset="0.198" stop-color="#bcbcbc"/><stop offset="0.219" stop-color="#b8b8b8"/><stop offset="0.250" stop-color="#a7a7a7"/><stop offset="0.292" stop-color="#999999"/><stop offset="0.312" stop-color="#939393"/><stop offset="0.354" stop-color="#8d8d8d"/><stop offset="0.438" stop-color="#848484"/><stop offset="0.469" stop-color="#818181"/><stop offset="0.521" stop-color="#7b7b7b"/><stop offset="0.573" stop-color="#787878"/><stop offset="0.604" stop-color="#7c7c7c"/><stop offset="0.677" stop-color="#888888"/><stop offset="0.688" stop-color="#8a8a8a"/><stop offset="0.750" stop-color="#9d9d9d"/><stop offset="0.760" stop-color="#a0a0a0"/><stop offset="0.792" stop-color="#b5b5b5"/><stop offset="0.823" stop-color="#c3c3c3"/><stop offset="0.833" stop-color="#c8c8c8"/><stop offset="0.854" stop-color="#ebebeb"/><stop offset="1.000" stop-color="#f5f5f5"/></linearGradient><linearGradient id="rg90" gradientUnits="userSpaceOnUse" x1="470" y1="0" x2="566" y2="0"><stop offset="0.000" stop-color="#efefef"/><stop offset="0.062" stop-color="#ededed"/><stop offset="0.125" stop-color="#e8e8e8"/><stop offset="0.135" stop-color="#e7e7e7"/><stop offset="0.167" stop-color="#c4c4c4"/><stop offset="0.198" stop-color="#bcbcbc"/><stop offset="0.219" stop-color="#b8b8b8"/><stop offset="0.250" stop-color="#a5a5a5"/><stop offset="0.292" stop-color="#989898"/><stop offset="0.312" stop-color="#929292"/><stop offset="0.354" stop-color="#8d8d8d"/><stop offset="0.438" stop-color="#858585"/><stop offset="0.469" stop-color="#838383"/><stop offset="0.521" stop-color="#7d7d7d"/><stop offset="0.573" stop-color="#797979"/><stop offset="0.604" stop-color="#7d7d7d"/><stop offset="0.677" stop-color="#888888"/><stop offset="0.688" stop-color="#8a8a8a"/><stop offset="0.750" stop-color="#9b9b9b"/><stop offset="0.760" stop-color="#9d9d9d"/><stop offset="0.792" stop-color="#b4b4b4"/><stop offset="0.823" stop-color="#c1c1c1"/><stop offset="0.833" stop-color="#c5c5c5"/><stop offset="0.854" stop-color="#ebebeb"/><stop offset="1.000" stop-color="#f5f5f5"/></linearGradient><linearGradient id="rg91" gradientUnits="userSpaceOnUse" x1="470" y1="0" x2="566" y2="0"><stop offset="0.000" stop-color="#f0f0f0"/><stop offset="0.062" stop-color="#eeeeee"/><stop offset="0.125" stop-color="#eaeaea"/><stop offset="0.135" stop-color="#e9e9e9"/><stop offset="0.167" stop-color="#c3c3c3"/><stop offset="0.198" stop-color="#bcbcbc"/><stop offset="0.219" stop-color="#b8b8b8"/><stop offset="0.250" stop-color="#a3a3a3"/><stop offset="0.292" stop-color="#979797"/><stop offset="0.312" stop-color="#929292"/><stop offset="0.354" stop-color="#8e8e8e"/><stop offset="0.438" stop-color="#878787"/><stop offset="0.469" stop-color="#858585"/><stop offset="0.521" stop-color="#7f7f7f"/><stop offset="0.573" stop-color="#7a7a7a"/><stop offset="0.604" stop-color="#7d7d7d"/><stop offset="0.677" stop-color="#878787"/><stop offset="0.688" stop-color="#8a8a8a"/><stop offset="0.750" stop-color="#999999"/><stop offset="0.760" stop-color="#9b9b9b"/><stop offset="0.792" stop-color="#b4b4b4"/><stop offset="0.823" stop-color="#bfbfbf"/><stop offset="0.833" stop-color="#c2c2c2"/><stop offset="0.854" stop-color="#ebebeb"/><stop offset="1.000" stop-color="#f5f5f5"/></linearGradient><linearGradient id="rg92" gradientUnits="userSpaceOnUse" x1="470" y1="0" x2="566" y2="0"><stop offset="0.000" stop-color="#f2f2f2"/><stop offset="0.062" stop-color="#efefef"/><stop offset="0.125" stop-color="#ebebeb"/><stop offset="0.135" stop-color="#eaeaea"/><stop offset="0.167" stop-color="#c2c2c2"/><stop offset="0.198" stop-color="#bcbcbc"/><stop offset="0.219" stop-color="#b8b8b8"/><stop offset="0.250" stop-color="#a1a1a1"/><stop offset="0.292" stop-color="#979797"/><stop offset="0.312" stop-color="#919191"/><stop offset="0.354" stop-color="#8f8f8f"/><stop offset="0.438" stop-color="#898989"/><stop offset="0.469" stop-color="#878787"/><stop offset="0.521" stop-color="#808080"/><stop offset="0.573" stop-color="#7a7a7a"/><stop offset="0.604" stop-color="#7e7e7e"/><stop offset="0.677" stop-color="#878787"/><stop offset="0.688" stop-color="#898989"/><stop offset="0.750" stop-color="#979797"/><stop offset="0.760" stop-color="#999999"/><stop offset="0.792" stop-color="#b3b3b3"/><stop offset="0.823" stop-color="#bcbcbc"/><stop offset="0.833" stop-color="#c0c0c0"/><stop offset="0.854" stop-color="#ebebeb"/><stop offset="1.000" stop-color="#f5f5f5"/></linearGradient><linearGradient id="rg93" gradientUnits="userSpaceOnUse" x1="470" y1="0" x2="566" y2="0"><stop offset="0.000" stop-color="#f2f2f2"/><stop offset="0.125" stop-color="#ebebeb"/><stop offset="0.135" stop-color="#e9e9e9"/><stop offset="0.156" stop-color="#cecece"/><stop offset="0.167" stop-color="#c2c2c2"/><stop offset="0.208" stop-color="#b9b9b9"/><stop offset="0.219" stop-color="#b7b7b7"/><stop offset="0.240" stop-color="#a8a8a8"/><stop offset="0.250" stop-color="#a0a0a0"/><stop offset="0.312" stop-color="#929292"/><stop offset="0.469" stop-color="#878787"/><stop offset="0.573" stop-color="#7b7b7b"/><stop offset="0.677" stop-color="#878787"/><stop offset="0.760" stop-color="#999999"/><stop offset="0.792" stop-color="#b2b2b2"/><stop offset="0.833" stop-color="#bfbfbf"/><stop offset="0.844" stop-color="#d3d3d3"/><stop offset="0.854" stop-color="#e9e9e9"/><stop offset="0.865" stop-color="#ebebeb"/><stop offset="1.000" stop-color="#f5f5f5"/></linearGradient><linearGradient id="rg94" gradientUnits="userSpaceOnUse" x1="470" y1="0" x2="566" y2="0"><stop offset="0.000" stop-color="#f2f2f2"/><stop offset="0.125" stop-color="#ebebeb"/><stop offset="0.135" stop-color="#e8e8e8"/><stop offset="0.156" stop-color="#cdcdcd"/><stop offset="0.167" stop-color="#c1c1c1"/><stop offset="0.208" stop-color="#b9b9b9"/><stop offset="0.219" stop-color="#b6b6b6"/><stop offset="0.240" stop-color="#a7a7a7"/><stop offset="0.250" stop-color="#a0a0a0"/><stop offset="0.312" stop-color="#929292"/><stop offset="0.469" stop-color="#878787"/><stop offset="0.573" stop-color="#7b7b7b"/><stop offset="0.677" stop-color="#888888"/><stop offset="0.760" stop-color="#999999"/><stop offset="0.792" stop-color="#b2b2b2"/><stop offset="0.833" stop-color="#bfbfbf"/><stop offset="0.844" stop-color="#d1d1d1"/><stop offset="0.854" stop-color="#e6e6e6"/><stop offset="0.865" stop-color="#ebebeb"/><stop offset="1.000" stop-color="#f5f5f5"/></linearGradient><linearGradient id="rg95" gradientUnits="userSpaceOnUse" x1="470" y1="0" x2="566" y2="0"><stop offset="0.000" stop-color="#f2f2f2"/><stop offset="0.125" stop-color="#ebebeb"/><stop offset="0.135" stop-color="#e6e6e6"/><stop offset="0.156" stop-color="#cbcbcb"/><stop offset="0.167" stop-color="#c1c1c1"/><stop offset="0.208" stop-color="#b9b9b9"/><stop offset="0.219" stop-color="#b5b5b5"/><stop offset="0.240" stop-color="#a6a6a6"/><stop offset="0.250" stop-color="#a0a0a0"/><stop offset="0.312" stop-color="#929292"/><stop offset="0.469" stop-color="#878787"/><stop offset="0.573" stop-color="#7b7b7b"/><stop offset="0.677" stop-color="#888888"/><stop offset="0.760" stop-color="#999999"/><stop offset="0.792" stop-color="#b2b2b2"/><stop offset="0.833" stop-color="#bebebe"/><stop offset="0.844" stop-color="#cecece"/><stop offset="0.854" stop-color="#e4e4e4"/><stop offset="0.865" stop-color="#ebebeb"/><stop offset="1.000" stop-color="#f5f5f5"/></linearGradient><linearGradient id="rg96" gradientUnits="userSpaceOnUse" x1="470" y1="0" x2="566" y2="0"><stop offset="0.000" stop-color="#f2f2f2"/><stop offset="0.125" stop-color="#ebebeb"/><stop offset="0.135" stop-color="#e5e5e5"/><stop offset="0.156" stop-color="#cacaca"/><stop offset="0.167" stop-color="#c1c1c1"/><stop offset="0.208" stop-color="#b9b9b9"/><stop offset="0.219" stop-color="#b4b4b4"/><stop offset="0.240" stop-color="#a5a5a5"/><stop offset="0.250" stop-color="#a0a0a0"/><stop offset="0.312" stop-color="#929292"/><stop offset="0.469" stop-color="#878787"/><stop offset="0.573" stop-color="#7b7b7b"/><stop offset="0.677" stop-color="#888888"/><stop offset="0.760" stop-color="#999999"/><stop offset="0.792" stop-color="#b2b2b2"/><stop offset="0.833" stop-color="#bebebe"/><stop offset="0.844" stop-color="#cccccc"/><stop offset="0.854" stop-color="#e2e2e2"/><stop offset="0.865" stop-color="#ebebeb"/><stop offset="1.000" stop-color="#f5f5f5"/></linearGradient><linearGradient id="rg97" gradientUnits="userSpaceOnUse" x1="470" y1="0" x2="566" y2="0"><stop offset="0.000" stop-color="#f2f2f2"/><stop offset="0.125" stop-color="#ebebeb"/><stop offset="0.135" stop-color="#e4e4e4"/><stop offset="0.156" stop-color="#c8c8c8"/><stop offset="0.167" stop-color="#c1c1c1"/><stop offset="0.208" stop-color="#b9b9b9"/><stop offset="0.219" stop-color="#b4b4b4"/><stop offset="0.240" stop-color="#a4a4a4"/><stop offset="0.250" stop-color="#a0a0a0"/><stop offset="0.312" stop-color="#939393"/><stop offset="0.469" stop-color="#878787"/><stop offset="0.573" stop-color="#7c7c7c"/><stop offset="0.677" stop-color="#888888"/><stop offset="0.760" stop-color="#999999"/><stop offset="0.792" stop-color="#b2b2b2"/><stop offset="0.833" stop-color="#bebebe"/><stop offset="0.844" stop-color="#cacaca"/><stop offset="0.854" stop-color="#dfdfdf"/><stop offset="0.865" stop-color="#ebebeb"/><stop offset="1.000" stop-color="#f5f5f5"/></linearGradient><linearGradient id="rg98" gradientUnits="userSpaceOnUse" x1="470" y1="0" x2="566" y2="0"><stop offset="0.000" stop-color="#f2f2f2"/><stop offset="0.125" stop-color="#ebebeb"/><stop offset="0.135" stop-color="#e2e2e2"/><stop offset="0.156" stop-color="#c7c7c7"/><stop offset="0.167" stop-color="#c1c1c1"/><stop offset="0.208" stop-color="#b8b8b8"/><stop offset="0.219" stop-color="#b3b3b3"/><stop offset="0.240" stop-color="#a4a4a4"/><stop offset="0.250" stop-color="#a0a0a0"/><stop offset="0.312" stop-color="#939393"/><stop offset="0.469" stop-color="#878787"/><stop offset="0.573" stop-color="#7c7c7c"/><stop offset="0.677" stop-color="#898989"/><stop offset="0.760" stop-color="#999999"/><stop offset="0.792" stop-color="#b2b2b2"/><stop offset="0.833" stop-color="#bebebe"/><stop offset="0.844" stop-color="#c7c7c7"/><stop offset="0.854" stop-color="#dddddd"/><stop offset="0.865" stop-color="#ebebeb"/><stop offset="1.000" stop-color="#f5f5f5"/></linearGradient><linearGradient id="rg99" gradientUnits="userSpaceOnUse" x1="470" y1="0" x2="566" y2="0"><stop offset="0.000" stop-color="#f2f2f2"/><stop offset="0.125" stop-color="#ebebeb"/><stop offset="0.135" stop-color="#e1e1e1"/><stop offset="0.156" stop-color="#c5c5c5"/><stop offset="0.167" stop-color="#c0c0c0"/><stop offset="0.208" stop-color="#b8b8b8"/><stop offset="0.219" stop-color="#b2b2b2"/><stop offset="0.240" stop-color="#a3a3a3"/><stop offset="0.250" stop-color="#9f9f9f"/><stop offset="0.312" stop-color="#939393"/><stop offset="0.469" stop-color="#878787"/><stop offset="0.573" stop-color="#7c7c7c"/><stop offset="0.677" stop-color="#898989"/><stop offset="0.760" stop-color="#999999"/><stop offset="0.792" stop-color="#b2b2b2"/><stop offset="0.833" stop-color="#bdbdbd"/><stop offset="0.844" stop-color="#c5c5c5"/><stop offset="0.854" stop-color="#dbdbdb"/><stop offset="0.865" stop-color="#ebebeb"/><stop offset="1.000" stop-color="#f5f5f5"/></linearGradient><linearGradient id="rg100" gradientUnits="userSpaceOnUse" x1="470" y1="0" x2="566" y2="0"><stop offset="0.000" stop-color="#f2f2f2"/><stop offset="0.125" stop-color="#ebebeb"/><stop offset="0.135" stop-color="#dfdfdf"/><stop offset="0.156" stop-color="#c4c4c4"/><stop offset="0.167" stop-color="#c0c0c0"/><stop offset="0.208" stop-color="#b8b8b8"/><stop offset="0.219" stop-color="#b1b1b1"/><stop offset="0.240" stop-color="#a2a2a2"/><stop offset="0.250" stop-color="#9f9f9f"/><stop offset="0.312" stop-color="#939393"/><stop offset="0.469" stop-color="#878787"/><stop offset="0.573" stop-color="#7d7d7d"/><stop offset="0.677" stop-color="#898989"/><stop offset="0.760" stop-color="#999999"/><stop offset="0.792" stop-color="#b2b2b2"/><stop offset="0.833" stop-color="#bdbdbd"/><stop offset="0.844" stop-color="#c3c3c3"/><stop offset="0.854" stop-color="#d8d8d8"/><stop offset="0.865" stop-color="#ebebeb"/><stop offset="1.000" stop-color="#f5f5f5"/></linearGradient><linearGradient id="rg101" gradientUnits="userSpaceOnUse" x1="470" y1="0" x2="566" y2="0"><stop offset="0.000" stop-color="#f2f2f2"/><stop offset="0.125" stop-color="#ebebeb"/><stop offset="0.135" stop-color="#dedede"/><stop offset="0.156" stop-color="#c3c3c3"/><stop offset="0.167" stop-color="#c0c0c0"/><stop offset="0.208" stop-color="#b8b8b8"/><stop offset="0.219" stop-color="#b0b0b0"/><stop offset="0.240" stop-color="#a1a1a1"/><stop offset="0.250" stop-color="#9f9f9f"/><stop offset="0.312" stop-color="#949494"/><stop offset="0.469" stop-color="#878787"/><stop offset="0.573" stop-color="#7d7d7d"/><stop offset="0.677" stop-color="#8a8a8a"/><stop offset="0.760" stop-color="#999999"/><stop offset="0.792" stop-color="#b2b2b2"/><stop offset="0.833" stop-color="#bdbdbd"/><stop offset="0.844" stop-color="#c0c0c0"/><stop offset="0.854" stop-color="#d6d6d6"/><stop offset="0.865" stop-color="#ebebeb"/><stop offset="1.000" stop-color="#f5f5f5"/></linearGradient></defs><rect x="470" y="25" width="96" height="3.5" fill="url(#rg51)"/><rect x="470" y="28" width="96" height="3.5" fill="url(#rg52)"/><rect x="470" y="31" width="96" height="3.5" fill="url(#rg53)"/><rect x="470" y="34" width="96" height="3.5" fill="url(#rg54)"/><rect x="470" y="37" width="96" height="3.5" fill="url(#rg55)"/><rect x="470" y="40" width="96" height="3.5" fill="url(#rg56)"/><rect x="470" y="43" width="96" height="3.5" fill="url(#rg57)"/><rect x="470" y="46" width="96" height="3.5" fill="url(#rg58)"/><rect x="470" y="49" width="96" height="3.5" fill="url(#rg59)"/><rect x="470" y="52" width="96" height="3.5" fill="url(#rg60)"/><rect x="470" y="55" width="96" height="3.5" fill="url(#rg61)"/><rect x="470" y="58" width="96" height="3.5" fill="url(#rg62)"/><rect x="470" y="61" width="96" height="3.5" fill="url(#rg63)"/><rect x="470" y="64" width="96" height="3.5" fill="url(#rg64)"/><rect x="470" y="67" width="96" height="3.5" fill="url(#rg65)"/><rect x="470" y="70" width="96" height="3.5" fill="url(#rg66)"/><rect x="470" y="73" width="96" height="3.5" fill="url(#rg67)"/><rect x="470" y="76" width="96" height="3.5" fill="url(#rg68)"/><rect x="470" y="79" width="96" height="3.5" fill="url(#rg69)"/><rect x="470" y="82" width="96" height="3.5" fill="url(#rg70)"/><rect x="470" y="85" width="96" height="3.5" fill="url(#rg71)"/><rect x="470" y="88" width="96" height="3.5" fill="url(#rg72)"/><rect x="470" y="91" width="96" height="3.5" fill="url(#rg73)"/><rect x="470" y="94" width="96" height="3.5" fill="url(#rg74)"/><rect x="470" y="97" width="96" height="3.5" fill="url(#rg75)"/><rect x="470" y="100" width="96" height="3.5" fill="url(#rg76)"/><rect x="470" y="103" width="96" height="3.5" fill="url(#rg77)"/><rect x="470" y="106" width="96" height="3.5" fill="url(#rg78)"/><rect x="470" y="109" width="96" height="3.5" fill="url(#rg79)"/><rect x="470" y="112" width="96" height="3.5" fill="url(#rg80)"/><rect x="470" y="115" width="96" height="3.5" fill="url(#rg81)"/><rect x="470" y="118" width="96" height="3.5" fill="url(#rg82)"/><rect x="470" y="121" width="96" height="3.5" fill="url(#rg83)"/><rect x="470" y="124" width="96" height="3.5" fill="url(#rg84)"/><rect x="470" y="127" width="96" height="3.5" fill="url(#rg85)"/><rect x="470" y="130" width="96" height="3.5" fill="url(#rg86)"/><rect x="470" y="133" width="96" height="3.5" fill="url(#rg87)"/><rect x="470" y="136" width="96" height="3.5" fill="url(#rg88)"/><rect x="470" y="139" width="96" height="3.5" fill="url(#rg89)"/><rect x="470" y="142" width="96" height="3.5" fill="url(#rg90)"/><rect x="470" y="145" width="96" height="3.5" fill="url(#rg91)"/><rect x="470" y="148" width="96" height="3.5" fill="url(#rg92)"/><rect x="470" y="151" width="96" height="3.5" fill="url(#rg93)"/><rect x="470" y="154" width="96" height="3.5" fill="url(#rg94)"/><rect x="470" y="157" width="96" height="3.5" fill="url(#rg95)"/><rect x="470" y="160" width="96" height="3.5" fill="url(#rg96)"/><rect x="470" y="163" width="96" height="3.5" fill="url(#rg97)"/><rect x="470" y="166" width="96" height="3.5" fill="url(#rg98)"/><rect x="470" y="169" width="96" height="3.5" fill="url(#rg99)"/><rect x="470" y="172" width="96" height="3.5" fill="url(#rg100)"/><rect x="470" y="175" width="96" height="3.5" fill="url(#rg101)"/></g></g>
<path d="M476.3,61.0 L559.7,61.0" stroke="#111" stroke-width="1.1"/>
<path d="M476.30,174.75L483.80,174.75M559.70,174.75L552.20,174.75M476.30,166.62L480.80,166.62M559.70,166.62L555.20,166.62M476.30,158.50L486.30,158.50M559.70,158.50L549.70,158.50M476.30,150.38L480.80,150.38M559.70,150.38L555.20,150.38M476.30,142.25L483.80,142.25M559.70,142.25L552.20,142.25M476.30,134.12L480.80,134.12M559.70,134.12L555.20,134.12M476.30,126.00L486.30,126.00M559.70,126.00L549.70,126.00M476.30,117.88L480.80,117.88M559.70,117.88L555.20,117.88M476.30,109.75L483.80,109.75M559.70,109.75L552.20,109.75M476.30,101.62L480.80,101.62M559.70,101.62L555.20,101.62M476.30,93.50L486.30,93.50M559.70,93.50L549.70,93.50M476.30,85.38L480.80,85.38M559.70,85.38L555.20,85.38M476.30,77.25L483.80,77.25M559.70,77.25L552.20,77.25M476.30,69.12L480.80,69.12M559.70,69.12L555.20,69.12M476.30,61.00L486.30,61.00M559.70,61.00L549.70,61.00M476.30,52.88L480.80,52.88M559.70,52.88L555.20,52.88M476.30,44.75L483.80,44.75M559.70,44.75L552.20,44.75M476.30,36.62L480.80,36.62M559.70,36.62L555.20,36.62M476.30,28.50L486.30,28.50M559.70,28.50L549.70,28.50" stroke="#1a1a1a" stroke-width="1.1" fill="none"/>
<path d="M484.40,175.00L484.40,165.00M484.40,28.70L484.40,38.70M492.75,175.00L492.75,170.50M492.75,28.70L492.75,33.20M501.10,175.00L501.10,167.50M501.10,28.70L501.10,36.20M509.45,175.00L509.45,170.50M509.45,28.70L509.45,33.20M517.80,175.00L517.80,165.00M517.80,28.70L517.80,38.70M526.15,175.00L526.15,170.50M526.15,28.70L526.15,33.20M534.50,175.00L534.50,167.50M534.50,28.70L534.50,36.20M542.85,175.00L542.85,170.50M542.85,28.70L542.85,33.20M551.20,175.00L551.20,165.00M551.20,28.70L551.20,38.70M559.55,175.00L559.55,170.50M559.55,28.70L559.55,33.20" stroke="#1a1a1a" stroke-width="1.1" fill="none"/>
<rect x="476.3" y="28.7" width="83.40000000000003" height="146.3" fill="none" stroke="#666" stroke-width="1.2"/>
<text x="472" y="33.2" font-size="13" text-anchor="end" fill="#111" >10</text>
<text x="472" y="65.7" font-size="13" text-anchor="end" fill="#111" >0</text>
<text x="472" y="98.2" font-size="13" text-anchor="end" fill="#111" >−10</text>
<text x="472" y="130.7" font-size="13" text-anchor="end" fill="#111" >−20</text>
<text x="472" y="163.2" font-size="13" text-anchor="end" fill="#111" >−30</text>
<text x="484.4" y="189.6" font-size="13" text-anchor="middle" fill="#111" >−0.2</text>
<text x="517.8" y="189.6" font-size="13" text-anchor="middle" fill="#111" >0</text>
<text x="551.1999999999999" y="189.6" font-size="13" text-anchor="middle" fill="#111" >0.2</text>
<text x="0" y="0" font-size="13" text-anchor="middle" fill="#111" transform="translate(441,100.5) rotate(-90)">Energy relative to <tspan font-style="italic">E</tspan><tspan font-size="9.5" dy="2.5">F</tspan><tspan dy="-2.5"> (meV)</tspan></text>
<text x="560" y="26" font-size="12" text-anchor="end" fill="#dc2830" font-weight="bold">#1</text>
<path d="M540.7,38.6 L540.7,56" stroke="#d8d0f0" stroke-width="1.2"/><path d="M538.4,54 L540.7,61 L543,54 z" fill="#e8e4f8"/>
<text x="524.8" y="49.9" font-size="13" fill="#d8d0f8"><tspan font-style="italic">k</tspan><tspan font-size="10" dy="3.6">F</tspan></text>
<clipPath id="cle"><rect x="570" y="28.8" width="83.6" height="146"/></clipPath>
<g clip-path="url(#cle)"><g filter="url(#bl2)"><polygon points="587,50 597,50 596,62 585,62" fill="#d8d8d8" fill-opacity="1"/><polygon points="624,51 632,51 635,62 627,62" fill="#d8d8d8" fill-opacity="1"/><polygon points="584,56 596,56 593,80 590,95 589,108 585,126 582,124 575,105 575,95 578,75" fill="#858585" fill-opacity="1"/><polygon points="585,62 592,62 588,80 585,100 583,114 580,100 579,85" fill="#383838" fill-opacity="1"/><polygon points="586,64 590,64 587,76 584,76" fill="#202020" fill-opacity="1"/><polygon points="627,56 637,56 642,78 644,95 641,103 637,97 632,80" fill="#858585" fill-opacity="1"/><polygon points="632,64 637,64 641,80 642,96 640,100 636,82" fill="#1c1c1c" fill-opacity="1"/><ellipse cx="578.1" cy="98.0" rx="1.6" ry="2.0" fill="rgb(6,6,6)" fill-opacity="0.8"/><ellipse cx="580.0" cy="93.8" rx="2.2" ry="2.8" fill="rgb(23,23,23)" fill-opacity="0.8"/><ellipse cx="582.3" cy="85.6" rx="2.1" ry="2.7" fill="rgb(12,12,12)" fill-opacity="0.8"/><ellipse cx="584.7" cy="79.5" rx="2.2" ry="2.9" fill="rgb(76,76,76)" fill-opacity="0.8"/><ellipse cx="580.1" cy="98.1" rx="1.9" ry="2.5" fill="rgb(20,20,20)" fill-opacity="0.8"/><ellipse cx="590.0" cy="65.9" rx="2.0" ry="2.6" fill="rgb(24,24,24)" fill-opacity="0.8"/><ellipse cx="582.7" cy="77.1" rx="2.0" ry="2.6" fill="rgb(42,42,42)" fill-opacity="0.8"/><ellipse cx="588.2" cy="73.0" rx="1.8" ry="2.4" fill="rgb(10,10,10)" fill-opacity="0.8"/><ellipse cx="581.1" cy="81.8" rx="2.2" ry="2.8" fill="rgb(13,13,13)" fill-opacity="0.8"/><ellipse cx="579.3" cy="95.9" rx="2.2" ry="2.9" fill="rgb(69,69,69)" fill-opacity="0.8"/><ellipse cx="580.3" cy="91.1" rx="1.9" ry="2.4" fill="rgb(75,75,75)" fill-opacity="0.8"/><ellipse cx="581.9" cy="99.0" rx="2.3" ry="2.9" fill="rgb(54,54,54)" fill-opacity="0.8"/><ellipse cx="583.7" cy="80.5" rx="2.0" ry="2.6" fill="rgb(70,70,70)" fill-opacity="0.8"/><ellipse cx="582.0" cy="81.6" rx="1.9" ry="2.4" fill="rgb(67,67,67)" fill-opacity="0.8"/><ellipse cx="638.2" cy="73.8" rx="1.9" ry="2.5" fill="rgb(9,9,9)" fill-opacity="0.8"/><ellipse cx="635.9" cy="69.7" rx="2.4" ry="3.1" fill="rgb(51,51,51)" fill-opacity="0.8"/><ellipse cx="641.0" cy="88.4" rx="2.0" ry="2.6" fill="rgb(17,17,17)" fill-opacity="0.8"/><ellipse cx="637.6" cy="72.2" rx="1.7" ry="2.2" fill="rgb(59,59,59)" fill-opacity="0.8"/><ellipse cx="639.5" cy="90.4" rx="2.3" ry="3.0" fill="rgb(12,12,12)" fill-opacity="0.8"/><ellipse cx="637.4" cy="76.3" rx="2.2" ry="2.9" fill="rgb(54,54,54)" fill-opacity="0.8"/><ellipse cx="641.8" cy="91.5" rx="2.1" ry="2.7" fill="rgb(42,42,42)" fill-opacity="0.8"/><ellipse cx="640.1" cy="81.3" rx="2.0" ry="2.6" fill="rgb(5,5,5)" fill-opacity="0.8"/><ellipse cx="639.7" cy="93.3" rx="2.0" ry="2.7" fill="rgb(19,19,19)" fill-opacity="0.8"/><ellipse cx="640.5" cy="92.5" rx="2.4" ry="3.1" fill="rgb(54,54,54)" fill-opacity="0.8"/><ellipse cx="639.5" cy="81.4" rx="2.1" ry="2.7" fill="rgb(27,27,27)" fill-opacity="0.8"/><ellipse cx="637.0" cy="72.1" rx="2.3" ry="3.0" fill="rgb(2,2,2)" fill-opacity="0.8"/><ellipse cx="605.3" cy="148.8" rx="3.2" ry="4.2" fill="rgb(221,221,221)" fill-opacity="0.7"/><ellipse cx="604.9" cy="157.0" rx="2.0" ry="2.7" fill="rgb(199,199,199)" fill-opacity="0.7"/><ellipse cx="607.8" cy="171.1" rx="3.4" ry="4.4" fill="rgb(183,183,183)" fill-opacity="0.7"/><ellipse cx="607.6" cy="138.0" rx="2.8" ry="3.7" fill="rgb(204,204,204)" fill-opacity="0.7"/><ellipse cx="609.6" cy="106.0" rx="2.4" ry="3.1" fill="rgb(220,220,220)" fill-opacity="0.7"/><ellipse cx="609.6" cy="158.4" rx="3.2" ry="4.2" fill="rgb(184,184,184)" fill-opacity="0.7"/><ellipse cx="608.9" cy="148.1" rx="2.0" ry="2.6" fill="rgb(218,218,218)" fill-opacity="0.7"/><ellipse cx="608.9" cy="119.8" rx="3.5" ry="4.5" fill="rgb(218,218,218)" fill-opacity="0.7"/><ellipse cx="604.1" cy="125.1" rx="2.8" ry="3.7" fill="rgb(209,209,209)" fill-opacity="0.7"/><ellipse cx="604.5" cy="119.2" rx="3.0" ry="3.9" fill="rgb(222,222,222)" fill-opacity="0.7"/><ellipse cx="609.6" cy="167.5" rx="2.5" ry="3.3" fill="rgb(186,186,186)" fill-opacity="0.7"/><ellipse cx="610.0" cy="115.4" rx="2.5" ry="3.2" fill="rgb(206,206,206)" fill-opacity="0.7"/><ellipse cx="606.9" cy="105.2" rx="2.5" ry="3.3" fill="rgb(192,192,192)" fill-opacity="0.7"/><ellipse cx="608.0" cy="162.3" rx="2.5" ry="3.2" fill="rgb(200,200,200)" fill-opacity="0.7"/><ellipse cx="609.9" cy="154.1" rx="3.5" ry="4.5" fill="rgb(179,179,179)" fill-opacity="0.7"/><ellipse cx="605.4" cy="157.7" rx="2.0" ry="2.6" fill="rgb(214,214,214)" fill-opacity="0.7"/><ellipse cx="606.1" cy="130.6" rx="2.0" ry="2.6" fill="rgb(180,180,180)" fill-opacity="0.7"/><ellipse cx="604.5" cy="117.5" rx="2.3" ry="3.0" fill="rgb(213,213,213)" fill-opacity="0.7"/><ellipse cx="605.9" cy="170.3" rx="2.5" ry="3.3" fill="rgb(194,194,194)" fill-opacity="0.7"/><ellipse cx="604.5" cy="141.9" rx="2.2" ry="2.8" fill="rgb(212,212,212)" fill-opacity="0.7"/><ellipse cx="628.2" cy="161.8" rx="2.7" ry="3.5" fill="rgb(185,185,185)" fill-opacity="0.7"/><ellipse cx="624.9" cy="110.1" rx="2.7" ry="3.5" fill="rgb(208,208,208)" fill-opacity="0.7"/><ellipse cx="625.7" cy="134.4" rx="2.4" ry="3.1" fill="rgb(210,210,210)" fill-opacity="0.7"/><ellipse cx="630.6" cy="157.4" rx="2.8" ry="3.6" fill="rgb(204,204,204)" fill-opacity="0.7"/><ellipse cx="626.5" cy="122.6" rx="3.2" ry="4.2" fill="rgb(185,185,185)" fill-opacity="0.7"/><ellipse cx="629.3" cy="162.4" rx="3.3" ry="4.2" fill="rgb(188,188,188)" fill-opacity="0.7"/><ellipse cx="624.3" cy="116.2" rx="3.2" ry="4.2" fill="rgb(193,193,193)" fill-opacity="0.7"/><ellipse cx="628.5" cy="116.0" rx="3.0" ry="3.8" fill="rgb(186,186,186)" fill-opacity="0.7"/><ellipse cx="631.0" cy="171.9" rx="2.3" ry="3.0" fill="rgb(203,203,203)" fill-opacity="0.7"/><ellipse cx="624.5" cy="133.7" rx="3.4" ry="4.4" fill="rgb(197,197,197)" fill-opacity="0.7"/><ellipse cx="628.0" cy="152.1" rx="3.2" ry="4.2" fill="rgb(218,218,218)" fill-opacity="0.7"/><ellipse cx="627.1" cy="111.8" rx="2.9" ry="3.8" fill="rgb(187,187,187)" fill-opacity="0.7"/><ellipse cx="631.8" cy="148.0" rx="3.3" ry="4.3" fill="rgb(197,197,197)" fill-opacity="0.7"/><ellipse cx="625.4" cy="117.7" rx="2.5" ry="3.2" fill="rgb(182,182,182)" fill-opacity="0.7"/><ellipse cx="630.7" cy="141.2" rx="2.3" ry="3.0" fill="rgb(213,213,213)" fill-opacity="0.7"/><ellipse cx="633.2" cy="155.0" rx="3.2" ry="4.1" fill="rgb(174,174,174)" fill-opacity="0.7"/><ellipse cx="624.6" cy="131.9" rx="2.9" ry="3.8" fill="rgb(187,187,187)" fill-opacity="0.7"/><ellipse cx="628.4" cy="134.5" rx="2.2" ry="2.8" fill="rgb(219,219,219)" fill-opacity="0.7"/><ellipse cx="626.8" cy="113.5" rx="3.1" ry="4.1" fill="rgb(191,191,191)" fill-opacity="0.7"/><ellipse cx="633.6" cy="173.6" rx="3.5" ry="4.5" fill="rgb(214,214,214)" fill-opacity="0.7"/></g><g fill="#000" filter="url(#bl1)"><circle cx="650" cy="56" r="4.2"/><circle cx="649" cy="62" r="4.5"/><circle cx="650" cy="69" r="4.5"/><circle cx="651" cy="72.5" r="3.5"/><circle cx="651.5" cy="87.5" r="3.5"/><circle cx="572" cy="76" r="3.6"/><circle cx="572" cy="82" r="3.8"/><circle cx="572" cy="86.5" r="3"/><rect x="645" y="95" width="12" height="32" rx="4.5"/><rect x="645.5" y="133.5" width="11" height="16.5" rx="4.5"/><rect x="565" y="140.5" width="18" height="13.6" rx="5"/><rect x="567" y="173" width="8" height="4" rx="1"/></g></g>
<path d="M570,61.3 L653.6,61.3" stroke="#111" stroke-width="1.1"/>
<path d="M570.00,175.05L577.50,175.05M653.60,175.05L646.10,175.05M570.00,166.93L574.50,166.93M653.60,166.93L649.10,166.93M570.00,158.80L580.00,158.80M653.60,158.80L643.60,158.80M570.00,150.68L574.50,150.68M653.60,150.68L649.10,150.68M570.00,142.55L577.50,142.55M653.60,142.55L646.10,142.55M570.00,134.43L574.50,134.43M653.60,134.43L649.10,134.43M570.00,126.30L580.00,126.30M653.60,126.30L643.60,126.30M570.00,118.17L574.50,118.17M653.60,118.17L649.10,118.17M570.00,110.05L577.50,110.05M653.60,110.05L646.10,110.05M570.00,101.92L574.50,101.92M653.60,101.92L649.10,101.92M570.00,93.80L580.00,93.80M653.60,93.80L643.60,93.80M570.00,85.67L574.50,85.67M653.60,85.67L649.10,85.67M570.00,77.55L577.50,77.55M653.60,77.55L646.10,77.55M570.00,69.42L574.50,69.42M653.60,69.42L649.10,69.42M570.00,61.30L580.00,61.30M653.60,61.30L643.60,61.30M570.00,53.17L574.50,53.17M653.60,53.17L649.10,53.17M570.00,45.05L577.50,45.05M653.60,45.05L646.10,45.05M570.00,36.92L574.50,36.92M653.60,36.92L649.10,36.92M570.00,28.80L580.00,28.80M653.60,28.80L643.60,28.80" stroke="#1a1a1a" stroke-width="1.1" fill="none"/>
<path d="M577.70,174.80L577.70,164.80M577.70,28.80L577.70,38.80M586.10,174.80L586.10,170.30M586.10,28.80L586.10,33.30M594.50,174.80L594.50,167.30M594.50,28.80L594.50,36.30M602.90,174.80L602.90,170.30M602.90,28.80L602.90,33.30M611.30,174.80L611.30,164.80M611.30,28.80L611.30,38.80M619.70,174.80L619.70,170.30M619.70,28.80L619.70,33.30M628.10,174.80L628.10,167.30M628.10,28.80L628.10,36.30M636.50,174.80L636.50,170.30M636.50,28.80L636.50,33.30M644.90,174.80L644.90,164.80M644.90,28.80L644.90,38.80M653.30,174.80L653.30,170.30M653.30,28.80L653.30,33.30" stroke="#1a1a1a" stroke-width="1.1" fill="none"/>
<rect x="570" y="28.8" width="83.60000000000002" height="146.0" fill="none" stroke="#666" stroke-width="1.2"/>
<text x="577.6999999999999" y="189.6" font-size="13" text-anchor="middle" fill="#111" >−0.2</text>
<text x="611.3" y="189.6" font-size="13" text-anchor="middle" fill="#111" >0</text>
<text x="644.9" y="189.6" font-size="13" text-anchor="middle" fill="#111" >0.2</text>
<path d="M634.8,39 L634.8,56" stroke="#111" stroke-width="1.1"/><path d="M632.5,54 L634.8,61 L637.1,54 z" fill="#111"/>
<text x="618.8" y="50.1" font-size="13" fill="#111"><tspan font-style="italic">k</tspan><tspan font-size="10" dy="3.6">F</tspan></text>
<rect x="666.4" y="48.3" width="10.2" height="107.5" fill="url(#cbg)" stroke="#444" stroke-width="0.8"/>
<text x="672" y="42.8" font-size="12.5" text-anchor="middle" fill="#111" >Low</text>
<text x="672" y="169.2" font-size="12.5" text-anchor="middle" fill="#111" >High</text>
<clipPath id="clg"><path d="M488,234.8 L559.9,234.8 L559.9,380.4 L491,380.4 L489,300 z"/></clipPath>
<g clip-path="url(#clg)"><g filter="url(#jg)"><defs><linearGradient id="rg102" gradientUnits="userSpaceOnUse" x1="482" y1="0" x2="566" y2="0"><stop offset="0.000" stop-color="#080808"/><stop offset="1.000" stop-color="#080808"/></linearGradient><linearGradient id="rg103" gradientUnits="userSpaceOnUse" x1="482" y1="0" x2="566" y2="0"><stop offset="0.000" stop-color="#080808"/><stop offset="1.000" stop-color="#080808"/></linearGradient><linearGradient id="rg104" gradientUnits="userSpaceOnUse" x1="482" y1="0" x2="566" y2="0"><stop offset="0.000" stop-color="#080808"/><stop offset="1.000" stop-color="#080808"/></linearGradient><linearGradient id="rg105" gradientUnits="userSpaceOnUse" x1="482" y1="0" x2="566" y2="0"><stop offset="0.000" stop-color="#090909"/><stop offset="1.000" stop-color="#090909"/></linearGradient><linearGradient id="rg106" gradientUnits="userSpaceOnUse" x1="482" y1="0" x2="566" y2="0"><stop offset="0.000" stop-color="#090909"/><stop offset="1.000" stop-color="#090909"/></linearGradient><linearGradient id="rg107" gradientUnits="userSpaceOnUse" x1="482" y1="0" x2="566" y2="0"><stop offset="0.000" stop-color="#0a0a0a"/><stop offset="1.000" stop-color="#0a0a0a"/></linearGradient><linearGradient id="rg108" gradientUnits="userSpaceOnUse" x1="482" y1="0" x2="566" y2="0"><stop offset="0.000" stop-color="#0a0a0a"/><stop offset="1.000" stop-color="#0a0a0a"/></linearGradient><linearGradient id="rg109" gradientUnits="userSpaceOnUse" x1="482" y1="0" x2="566" y2="0"><stop offset="0.000" stop-color="#0c0c0c"/><stop offset="0.214" stop-color="#101010"/><stop offset="0.631" stop-color="#101010"/><stop offset="0.810" stop-color="#0d0d0d"/><stop offset="1.000" stop-color="#0b0b0b"/></linearGradient><linearGradient id="rg110" gradientUnits="userSpaceOnUse" x1="482" y1="0" x2="566" y2="0"><stop offset="0.000" stop-color="#0f0f0f"/><stop offset="0.214" stop-color="#191919"/><stop offset="0.631" stop-color="#191919"/><stop offset="0.810" stop-color="#111111"/><stop offset="1.000" stop-color="#0c0c0c"/></linearGradient><linearGradient id="rg111" gradientUnits="userSpaceOnUse" x1="482" y1="0" x2="566" y2="0"><stop offset="0.000" stop-color="#141414"/><stop offset="0.214" stop-color="#252525"/><stop offset="0.631" stop-color="#252525"/><stop offset="0.810" stop-color="#171717"/><stop offset="1.000" stop-color="#0f0f0f"/></linearGradient><linearGradient id="rg112" gradientUnits="userSpaceOnUse" x1="482" y1="0" x2="566" y2="0"><stop offset="0.000" stop-color="#1a1a1a"/><stop offset="0.214" stop-color="#313131"/><stop offset="0.631" stop-color="#313131"/><stop offset="0.810" stop-color="#1f1f1f"/><stop offset="1.000" stop-color="#121212"/></linearGradient><linearGradient id="rg113" gradientUnits="userSpaceOnUse" x1="482" y1="0" x2="566" y2="0"><stop offset="0.000" stop-color="#232323"/><stop offset="0.214" stop-color="#3c3c3c"/><stop offset="0.631" stop-color="#3c3c3c"/><stop offset="0.810" stop-color="#272727"/><stop offset="1.000" stop-color="#161616"/></linearGradient><linearGradient id="rg114" gradientUnits="userSpaceOnUse" x1="482" y1="0" x2="566" y2="0"><stop offset="0.000" stop-color="#2e2e2e"/><stop offset="0.214" stop-color="#444444"/><stop offset="0.274" stop-color="#474747"/><stop offset="0.571" stop-color="#474747"/><stop offset="0.631" stop-color="#444444"/><stop offset="0.810" stop-color="#2f2f2f"/><stop offset="1.000" stop-color="#1c1c1c"/></linearGradient><linearGradient id="rg115" gradientUnits="userSpaceOnUse" x1="482" y1="0" x2="566" y2="0"><stop offset="0.000" stop-color="#636363"/><stop offset="0.119" stop-color="#6e6e6e"/><stop offset="0.155" stop-color="#727272"/><stop offset="0.179" stop-color="#747474"/><stop offset="0.274" stop-color="#737373"/><stop offset="0.333" stop-color="#707070"/><stop offset="0.381" stop-color="#6d6d6d"/><stop offset="0.452" stop-color="#6d6d6d"/><stop offset="0.464" stop-color="#6c6c6c"/><stop offset="0.512" stop-color="#6f6f6f"/><stop offset="0.571" stop-color="#717171"/><stop offset="0.667" stop-color="#6f6f6f"/><stop offset="0.690" stop-color="#6d6d6d"/><stop offset="0.726" stop-color="#666666"/><stop offset="0.786" stop-color="#575757"/><stop offset="0.810" stop-color="#535353"/><stop offset="1.000" stop-color="#414141"/></linearGradient><linearGradient id="rg116" gradientUnits="userSpaceOnUse" x1="482" y1="0" x2="566" y2="0"><stop offset="0.000" stop-color="#6b6b6b"/><stop offset="0.119" stop-color="#898989"/><stop offset="0.155" stop-color="#969696"/><stop offset="0.179" stop-color="#9e9e9e"/><stop offset="0.274" stop-color="#9b9b9b"/><stop offset="0.333" stop-color="#878787"/><stop offset="0.381" stop-color="#747474"/><stop offset="0.452" stop-color="#747474"/><stop offset="0.464" stop-color="#737373"/><stop offset="0.512" stop-color="#878787"/><stop offset="0.571" stop-color="#9d9d9d"/><stop offset="0.667" stop-color="#9c9c9c"/><stop offset="0.690" stop-color="#939393"/><stop offset="0.726" stop-color="#828282"/><stop offset="0.786" stop-color="#5f5f5f"/><stop offset="0.810" stop-color="#5b5b5b"/><stop offset="1.000" stop-color="#474747"/></linearGradient><linearGradient id="rg117" gradientUnits="userSpaceOnUse" x1="482" y1="0" x2="566" y2="0"><stop offset="0.000" stop-color="#737373"/><stop offset="0.095" stop-color="#9a9a9a"/><stop offset="0.119" stop-color="#a3a3a3"/><stop offset="0.167" stop-color="#c0c0c0"/><stop offset="0.179" stop-color="#c7c7c7"/><stop offset="0.262" stop-color="#c2c2c2"/><stop offset="0.274" stop-color="#c2c2c2"/><stop offset="0.310" stop-color="#acacac"/><stop offset="0.333" stop-color="#9e9e9e"/><stop offset="0.369" stop-color="#838383"/><stop offset="0.381" stop-color="#7a7a7a"/><stop offset="0.464" stop-color="#7a7a7a"/><stop offset="0.476" stop-color="#838383"/><stop offset="0.512" stop-color="#9e9e9e"/><stop offset="0.524" stop-color="#a6a6a6"/><stop offset="0.571" stop-color="#c7c7c7"/><stop offset="0.583" stop-color="#c7c7c7"/><stop offset="0.667" stop-color="#c7c7c7"/><stop offset="0.690" stop-color="#b7b7b7"/><stop offset="0.726" stop-color="#9e9e9e"/><stop offset="0.762" stop-color="#7d7d7d"/><stop offset="0.786" stop-color="#666666"/><stop offset="0.810" stop-color="#636363"/><stop offset="1.000" stop-color="#4d4d4d"/></linearGradient><linearGradient id="rg118" gradientUnits="userSpaceOnUse" x1="482" y1="0" x2="566" y2="0"><stop offset="0.000" stop-color="#7b7b7b"/><stop offset="0.095" stop-color="#a0a0a0"/><stop offset="0.119" stop-color="#a9a9a9"/><stop offset="0.167" stop-color="#c4c4c4"/><stop offset="0.179" stop-color="#c9c9c9"/><stop offset="0.262" stop-color="#c2c2c2"/><stop offset="0.274" stop-color="#c0c0c0"/><stop offset="0.310" stop-color="#a8a8a8"/><stop offset="0.333" stop-color="#9a9a9a"/><stop offset="0.369" stop-color="#818181"/><stop offset="0.381" stop-color="#797979"/><stop offset="0.464" stop-color="#797979"/><stop offset="0.476" stop-color="#818181"/><stop offset="0.512" stop-color="#9c9c9c"/><stop offset="0.524" stop-color="#a4a4a4"/><stop offset="0.571" stop-color="#c6c6c6"/><stop offset="0.583" stop-color="#c8c8c8"/><stop offset="0.667" stop-color="#c9c9c9"/><stop offset="0.690" stop-color="#bbbbbb"/><stop offset="0.726" stop-color="#a4a4a4"/><stop offset="0.762" stop-color="#848484"/><stop offset="0.786" stop-color="#6d6d6d"/><stop offset="0.810" stop-color="#666666"/><stop offset="1.000" stop-color="#4e4e4e"/></linearGradient><linearGradient id="rg119" gradientUnits="userSpaceOnUse" x1="482" y1="0" x2="566" y2="0"><stop offset="0.000" stop-color="#828282"/><stop offset="0.095" stop-color="#a6a6a6"/><stop offset="0.119" stop-color="#afafaf"/><stop offset="0.167" stop-color="#c8c8c8"/><stop offset="0.179" stop-color="#cbcbcb"/><stop offset="0.262" stop-color="#c2c2c2"/><stop offset="0.274" stop-color="#bebebe"/><stop offset="0.310" stop-color="#a4a4a4"/><stop offset="0.333" stop-color="#969696"/><stop offset="0.369" stop-color="#7e7e7e"/><stop offset="0.381" stop-color="#797979"/><stop offset="0.464" stop-color="#797979"/><stop offset="0.476" stop-color="#7e7e7e"/><stop offset="0.512" stop-color="#999999"/><stop offset="0.524" stop-color="#a2a2a2"/><stop offset="0.571" stop-color="#c5c5c5"/><stop offset="0.583" stop-color="#c9c9c9"/><stop offset="0.667" stop-color="#cacaca"/><stop offset="0.690" stop-color="#c0c0c0"/><stop offset="0.726" stop-color="#a9a9a9"/><stop offset="0.762" stop-color="#8c8c8c"/><stop offset="0.786" stop-color="#747474"/><stop offset="0.810" stop-color="#696969"/><stop offset="1.000" stop-color="#505050"/></linearGradient><linearGradient id="rg120" gradientUnits="userSpaceOnUse" x1="482" y1="0" x2="566" y2="0"><stop offset="0.000" stop-color="#8a8a8a"/><stop offset="0.095" stop-color="#acacac"/><stop offset="0.119" stop-color="#b5b5b5"/><stop offset="0.167" stop-color="#cccccc"/><stop offset="0.179" stop-color="#cecece"/><stop offset="0.262" stop-color="#c2c2c2"/><stop offset="0.274" stop-color="#bcbcbc"/><stop offset="0.310" stop-color="#9f9f9f"/><stop offset="0.333" stop-color="#929292"/><stop offset="0.369" stop-color="#7c7c7c"/><stop offset="0.381" stop-color="#787878"/><stop offset="0.464" stop-color="#787878"/><stop offset="0.476" stop-color="#7c7c7c"/><stop offset="0.512" stop-color="#979797"/><stop offset="0.524" stop-color="#9f9f9f"/><stop offset="0.571" stop-color="#c4c4c4"/><stop offset="0.583" stop-color="#cacaca"/><stop offset="0.667" stop-color="#cccccc"/><stop offset="0.690" stop-color="#c5c5c5"/><stop offset="0.726" stop-color="#aeaeae"/><stop offset="0.762" stop-color="#949494"/><stop offset="0.786" stop-color="#7b7b7b"/><stop offset="0.810" stop-color="#6c6c6c"/><stop offset="1.000" stop-color="#525252"/></linearGradient><linearGradient id="rg121" gradientUnits="userSpaceOnUse" x1="482" y1="0" x2="566" y2="0"><stop offset="0.000" stop-color="#929292"/><stop offset="0.095" stop-color="#b3b3b3"/><stop offset="0.119" stop-color="#bbbbbb"/><stop offset="0.167" stop-color="#d0d0d0"/><stop offset="0.179" stop-color="#d0d0d0"/><stop offset="0.262" stop-color="#c2c2c2"/><stop offset="0.274" stop-color="#bababa"/><stop offset="0.310" stop-color="#9b9b9b"/><stop offset="0.333" stop-color="#8e8e8e"/><stop offset="0.369" stop-color="#797979"/><stop offset="0.381" stop-color="#777777"/><stop offset="0.464" stop-color="#777777"/><stop offset="0.476" stop-color="#797979"/><stop offset="0.512" stop-color="#949494"/><stop offset="0.524" stop-color="#9d9d9d"/><stop offset="0.571" stop-color="#c3c3c3"/><stop offset="0.583" stop-color="#cbcbcb"/><stop offset="0.667" stop-color="#cdcdcd"/><stop offset="0.690" stop-color="#c9c9c9"/><stop offset="0.726" stop-color="#b4b4b4"/><stop offset="0.762" stop-color="#9c9c9c"/><stop offset="0.786" stop-color="#828282"/><stop offset="0.810" stop-color="#6e6e6e"/><stop offset="1.000" stop-color="#545454"/></linearGradient><linearGradient id="rg122" gradientUnits="userSpaceOnUse" x1="482" y1="0" x2="566" y2="0"><stop offset="0.000" stop-color="#999999"/><stop offset="0.095" stop-color="#b9b9b9"/><stop offset="0.119" stop-color="#c1c1c1"/><stop offset="0.167" stop-color="#d4d4d4"/><stop offset="0.179" stop-color="#d2d2d2"/><stop offset="0.262" stop-color="#c2c2c2"/><stop offset="0.274" stop-color="#b8b8b8"/><stop offset="0.310" stop-color="#979797"/><stop offset="0.333" stop-color="#8a8a8a"/><stop offset="0.369" stop-color="#777777"/><stop offset="0.381" stop-color="#767676"/><stop offset="0.464" stop-color="#767676"/><stop offset="0.476" stop-color="#777777"/><stop offset="0.512" stop-color="#929292"/><stop offset="0.524" stop-color="#9a9a9a"/><stop offset="0.571" stop-color="#c2c2c2"/><stop offset="0.583" stop-color="#cbcbcb"/><stop offset="0.667" stop-color="#cfcfcf"/><stop offset="0.690" stop-color="#cecece"/><stop offset="0.726" stop-color="#b9b9b9"/><stop offset="0.762" stop-color="#a3a3a3"/><stop offset="0.786" stop-color="#898989"/><stop offset="0.810" stop-color="#717171"/><stop offset="1.000" stop-color="#565656"/></linearGradient><linearGradient id="rg123" gradientUnits="userSpaceOnUse" x1="482" y1="0" x2="566" y2="0"><stop offset="0.000" stop-color="#a0a0a0"/><stop offset="0.095" stop-color="#bdbdbd"/><stop offset="0.155" stop-color="#d2d2d2"/><stop offset="0.167" stop-color="#d6d6d6"/><stop offset="0.238" stop-color="#c6c6c6"/><stop offset="0.262" stop-color="#bfbfbf"/><stop offset="0.274" stop-color="#b4b4b4"/><stop offset="0.310" stop-color="#939393"/><stop offset="0.333" stop-color="#878787"/><stop offset="0.369" stop-color="#767676"/><stop offset="0.452" stop-color="#767676"/><stop offset="0.476" stop-color="#767676"/><stop offset="0.524" stop-color="#999999"/><stop offset="0.536" stop-color="#a3a3a3"/><stop offset="0.583" stop-color="#cbcbcb"/><stop offset="0.607" stop-color="#cdcdcd"/><stop offset="0.690" stop-color="#d0d0d0"/><stop offset="0.714" stop-color="#c4c4c4"/><stop offset="0.762" stop-color="#a9a9a9"/><stop offset="0.798" stop-color="#838383"/><stop offset="0.810" stop-color="#767676"/><stop offset="0.845" stop-color="#6f6f6f"/><stop offset="1.000" stop-color="#595959"/></linearGradient><linearGradient id="rg124" gradientUnits="userSpaceOnUse" x1="482" y1="0" x2="566" y2="0"><stop offset="0.000" stop-color="#a5a5a5"/><stop offset="0.095" stop-color="#bebebe"/><stop offset="0.155" stop-color="#d3d3d3"/><stop offset="0.167" stop-color="#d5d5d5"/><stop offset="0.238" stop-color="#c3c3c3"/><stop offset="0.262" stop-color="#b9b9b9"/><stop offset="0.274" stop-color="#adadad"/><stop offset="0.310" stop-color="#919191"/><stop offset="0.333" stop-color="#858585"/><stop offset="0.369" stop-color="#787878"/><stop offset="0.452" stop-color="#777777"/><stop offset="0.476" stop-color="#797979"/><stop offset="0.524" stop-color="#999999"/><stop offset="0.536" stop-color="#a2a2a2"/><stop offset="0.583" stop-color="#c7c7c7"/><stop offset="0.607" stop-color="#cbcbcb"/><stop offset="0.690" stop-color="#cecece"/><stop offset="0.714" stop-color="#c4c4c4"/><stop offset="0.762" stop-color="#adadad"/><stop offset="0.798" stop-color="#8d8d8d"/><stop offset="0.810" stop-color="#808080"/><stop offset="0.845" stop-color="#747474"/><stop offset="1.000" stop-color="#5e5e5e"/></linearGradient><linearGradient id="rg125" gradientUnits="userSpaceOnUse" x1="482" y1="0" x2="566" y2="0"><stop offset="0.000" stop-color="#aaaaaa"/><stop offset="0.095" stop-color="#bfbfbf"/><stop offset="0.155" stop-color="#d4d4d4"/><stop offset="0.167" stop-color="#d4d4d4"/><stop offset="0.238" stop-color="#c0c0c0"/><stop offset="0.262" stop-color="#b2b2b2"/><stop offset="0.274" stop-color="#a6a6a6"/><stop offset="0.310" stop-color="#8e8e8e"/><stop offset="0.333" stop-color="#848484"/><stop offset="0.369" stop-color="#797979"/><stop offset="0.452" stop-color="#787878"/><stop offset="0.476" stop-color="#7d7d7d"/><stop offset="0.524" stop-color="#999999"/><stop offset="0.536" stop-color="#a1a1a1"/><stop offset="0.583" stop-color="#c3c3c3"/><stop offset="0.607" stop-color="#cacaca"/><stop offset="0.690" stop-color="#cccccc"/><stop offset="0.714" stop-color="#c5c5c5"/><stop offset="0.762" stop-color="#b0b0b0"/><stop offset="0.798" stop-color="#969696"/><stop offset="0.810" stop-color="#8a8a8a"/><stop offset="0.845" stop-color="#787878"/><stop offset="1.000" stop-color="#636363"/></linearGradient><linearGradient id="rg126" gradientUnits="userSpaceOnUse" x1="482" y1="0" x2="566" y2="0"><stop offset="0.000" stop-color="#afafaf"/><stop offset="0.095" stop-color="#c0c0c0"/><stop offset="0.155" stop-color="#d5d5d5"/><stop offset="0.167" stop-color="#d3d3d3"/><stop offset="0.238" stop-color="#bdbdbd"/><stop offset="0.262" stop-color="#ababab"/><stop offset="0.274" stop-color="#9f9f9f"/><stop offset="0.310" stop-color="#8c8c8c"/><stop offset="0.333" stop-color="#828282"/><stop offset="0.369" stop-color="#7b7b7b"/><stop offset="0.452" stop-color="#797979"/><stop offset="0.476" stop-color="#808080"/><stop offset="0.524" stop-color="#999999"/><stop offset="0.536" stop-color="#a0a0a0"/><stop offset="0.583" stop-color="#bfbfbf"/><stop offset="0.607" stop-color="#c9c9c9"/><stop offset="0.690" stop-color="#cacaca"/><stop offset="0.714" stop-color="#c6c6c6"/><stop offset="0.762" stop-color="#b3b3b3"/><stop offset="0.798" stop-color="#9f9f9f"/><stop offset="0.810" stop-color="#939393"/><stop offset="0.845" stop-color="#7d7d7d"/><stop offset="1.000" stop-color="#686868"/></linearGradient><linearGradient id="rg127" gradientUnits="userSpaceOnUse" x1="482" y1="0" x2="566" y2="0"><stop offset="0.000" stop-color="#b4b4b4"/><stop offset="0.095" stop-color="#c1c1c1"/><stop offset="0.155" stop-color="#d6d6d6"/><stop offset="0.167" stop-color="#d2d2d2"/><stop offset="0.238" stop-color="#bababa"/><stop offset="0.262" stop-color="#a4a4a4"/><stop offset="0.274" stop-color="#989898"/><stop offset="0.310" stop-color="#898989"/><stop offset="0.333" stop-color="#818181"/><stop offset="0.369" stop-color="#7d7d7d"/><stop offset="0.452" stop-color="#7a7a7a"/><stop offset="0.476" stop-color="#838383"/><stop offset="0.524" stop-color="#999999"/><stop offset="0.536" stop-color="#9f9f9f"/><stop offset="0.583" stop-color="#bcbcbc"/><stop offset="0.607" stop-color="#c8c8c8"/><stop offset="0.690" stop-color="#c8c8c8"/><stop offset="0.714" stop-color="#c6c6c6"/><stop offset="0.762" stop-color="#b6b6b6"/><stop offset="0.798" stop-color="#a8a8a8"/><stop offset="0.810" stop-color="#9d9d9d"/><stop offset="0.845" stop-color="#828282"/><stop offset="1.000" stop-color="#6d6d6d"/></linearGradient><linearGradient id="rg128" gradientUnits="userSpaceOnUse" x1="482" y1="0" x2="566" y2="0"><stop offset="0.000" stop-color="#b9b9b9"/><stop offset="0.095" stop-color="#c3c3c3"/><stop offset="0.119" stop-color="#cbcbcb"/><stop offset="0.155" stop-color="#d5d5d5"/><stop offset="0.190" stop-color="#c8c8c8"/><stop offset="0.238" stop-color="#b6b6b6"/><stop offset="0.274" stop-color="#949494"/><stop offset="0.286" stop-color="#909090"/><stop offset="0.333" stop-color="#818181"/><stop offset="0.357" stop-color="#808080"/><stop offset="0.429" stop-color="#7e7e7e"/><stop offset="0.452" stop-color="#7e7e7e"/><stop offset="0.512" stop-color="#989898"/><stop offset="0.536" stop-color="#a1a1a1"/><stop offset="0.607" stop-color="#c7c7c7"/><stop offset="0.631" stop-color="#c8c8c8"/><stop offset="0.714" stop-color="#c7c7c7"/><stop offset="0.750" stop-color="#bcbcbc"/><stop offset="0.798" stop-color="#aeaeae"/><stop offset="0.833" stop-color="#919191"/><stop offset="0.845" stop-color="#888888"/><stop offset="1.000" stop-color="#737373"/></linearGradient><linearGradient id="rg129" gradientUnits="userSpaceOnUse" x1="482" y1="0" x2="566" y2="0"><stop offset="0.000" stop-color="#bfbfbf"/><stop offset="0.095" stop-color="#c7c7c7"/><stop offset="0.119" stop-color="#cdcdcd"/><stop offset="0.155" stop-color="#d3d3d3"/><stop offset="0.190" stop-color="#c6c6c6"/><stop offset="0.238" stop-color="#b1b1b1"/><stop offset="0.274" stop-color="#949494"/><stop offset="0.286" stop-color="#909090"/><stop offset="0.333" stop-color="#848484"/><stop offset="0.357" stop-color="#838383"/><stop offset="0.429" stop-color="#868686"/><stop offset="0.452" stop-color="#888888"/><stop offset="0.512" stop-color="#a2a2a2"/><stop offset="0.536" stop-color="#aaaaaa"/><stop offset="0.607" stop-color="#c9c9c9"/><stop offset="0.631" stop-color="#cacaca"/><stop offset="0.714" stop-color="#c7c7c7"/><stop offset="0.750" stop-color="#bebebe"/><stop offset="0.798" stop-color="#b1b1b1"/><stop offset="0.833" stop-color="#999999"/><stop offset="0.845" stop-color="#919191"/><stop offset="1.000" stop-color="#7b7b7b"/></linearGradient><linearGradient id="rg130" gradientUnits="userSpaceOnUse" x1="482" y1="0" x2="566" y2="0"><stop offset="0.000" stop-color="#c4c4c4"/><stop offset="0.095" stop-color="#cbcbcb"/><stop offset="0.119" stop-color="#d0d0d0"/><stop offset="0.155" stop-color="#d0d0d0"/><stop offset="0.190" stop-color="#c3c3c3"/><stop offset="0.238" stop-color="#acacac"/><stop offset="0.274" stop-color="#939393"/><stop offset="0.286" stop-color="#8f8f8f"/><stop offset="0.333" stop-color="#878787"/><stop offset="0.357" stop-color="#868686"/><stop offset="0.429" stop-color="#8e8e8e"/><stop offset="0.452" stop-color="#939393"/><stop offset="0.512" stop-color="#acacac"/><stop offset="0.536" stop-color="#b2b2b2"/><stop offset="0.607" stop-color="#cbcbcb"/><stop offset="0.631" stop-color="#cccccc"/><stop offset="0.714" stop-color="#c7c7c7"/><stop offset="0.750" stop-color="#bfbfbf"/><stop offset="0.798" stop-color="#b3b3b3"/><stop offset="0.833" stop-color="#a0a0a0"/><stop offset="0.845" stop-color="#999999"/><stop offset="1.000" stop-color="#848484"/></linearGradient><linearGradient id="rg131" gradientUnits="userSpaceOnUse" x1="482" y1="0" x2="566" y2="0"><stop offset="0.000" stop-color="#c9c9c9"/><stop offset="0.095" stop-color="#cfcfcf"/><stop offset="0.119" stop-color="#d2d2d2"/><stop offset="0.155" stop-color="#cecece"/><stop offset="0.190" stop-color="#c1c1c1"/><stop offset="0.238" stop-color="#a6a6a6"/><stop offset="0.274" stop-color="#939393"/><stop offset="0.286" stop-color="#8f8f8f"/><stop offset="0.333" stop-color="#8a8a8a"/><stop offset="0.357" stop-color="#898989"/><stop offset="0.429" stop-color="#969696"/><stop offset="0.452" stop-color="#9d9d9d"/><stop offset="0.512" stop-color="#b6b6b6"/><stop offset="0.536" stop-color="#bbbbbb"/><stop offset="0.607" stop-color="#cccccc"/><stop offset="0.631" stop-color="#cecece"/><stop offset="0.714" stop-color="#c7c7c7"/><stop offset="0.750" stop-color="#c0c0c0"/><stop offset="0.798" stop-color="#b5b5b5"/><stop offset="0.833" stop-color="#a7a7a7"/><stop offset="0.845" stop-color="#a2a2a2"/><stop offset="1.000" stop-color="#8c8c8c"/></linearGradient><linearGradient id="rg132" gradientUnits="userSpaceOnUse" x1="482" y1="0" x2="566" y2="0"><stop offset="0.000" stop-color="#cecece"/><stop offset="0.095" stop-color="#d3d3d3"/><stop offset="0.119" stop-color="#d5d5d5"/><stop offset="0.155" stop-color="#cbcbcb"/><stop offset="0.190" stop-color="#bebebe"/><stop offset="0.238" stop-color="#a1a1a1"/><stop offset="0.274" stop-color="#939393"/><stop offset="0.286" stop-color="#8f8f8f"/><stop offset="0.333" stop-color="#8d8d8d"/><stop offset="0.357" stop-color="#8d8d8d"/><stop offset="0.429" stop-color="#9e9e9e"/><stop offset="0.452" stop-color="#a7a7a7"/><stop offset="0.512" stop-color="#c0c0c0"/><stop offset="0.536" stop-color="#c4c4c4"/><stop offset="0.607" stop-color="#cecece"/><stop offset="0.631" stop-color="#d0d0d0"/><stop offset="0.714" stop-color="#c6c6c6"/><stop offset="0.750" stop-color="#c1c1c1"/><stop offset="0.798" stop-color="#b8b8b8"/><stop offset="0.833" stop-color="#aeaeae"/><stop offset="0.845" stop-color="#ababab"/><stop offset="1.000" stop-color="#949494"/></linearGradient><linearGradient id="rg133" gradientUnits="userSpaceOnUse" x1="482" y1="0" x2="566" y2="0"><stop offset="0.000" stop-color="#d2d2d2"/><stop offset="0.119" stop-color="#d6d6d6"/><stop offset="0.143" stop-color="#cecece"/><stop offset="0.190" stop-color="#bcbcbc"/><stop offset="0.214" stop-color="#adadad"/><stop offset="0.238" stop-color="#9e9e9e"/><stop offset="0.262" stop-color="#979797"/><stop offset="0.286" stop-color="#909090"/><stop offset="0.310" stop-color="#919191"/><stop offset="0.357" stop-color="#929292"/><stop offset="0.393" stop-color="#9c9c9c"/><stop offset="0.429" stop-color="#a6a6a6"/><stop offset="0.512" stop-color="#c8c8c8"/><stop offset="0.631" stop-color="#d2d2d2"/><stop offset="0.667" stop-color="#cecece"/><stop offset="0.750" stop-color="#c2c2c2"/><stop offset="0.762" stop-color="#c0c0c0"/><stop offset="0.833" stop-color="#b3b3b3"/><stop offset="1.000" stop-color="#9b9b9b"/></linearGradient><linearGradient id="rg134" gradientUnits="userSpaceOnUse" x1="482" y1="0" x2="566" y2="0"><stop offset="0.000" stop-color="#d3d3d3"/><stop offset="0.119" stop-color="#d5d5d5"/><stop offset="0.143" stop-color="#cecece"/><stop offset="0.190" stop-color="#bbbbbb"/><stop offset="0.214" stop-color="#ababab"/><stop offset="0.238" stop-color="#9f9f9f"/><stop offset="0.262" stop-color="#989898"/><stop offset="0.286" stop-color="#959595"/><stop offset="0.310" stop-color="#979797"/><stop offset="0.357" stop-color="#9a9a9a"/><stop offset="0.393" stop-color="#a3a3a3"/><stop offset="0.429" stop-color="#adadad"/><stop offset="0.512" stop-color="#cccccc"/><stop offset="0.631" stop-color="#d4d4d4"/><stop offset="0.667" stop-color="#d1d1d1"/><stop offset="0.750" stop-color="#c3c3c3"/><stop offset="0.762" stop-color="#c0c0c0"/><stop offset="0.833" stop-color="#b5b5b5"/><stop offset="1.000" stop-color="#a1a1a1"/></linearGradient><linearGradient id="rg135" gradientUnits="userSpaceOnUse" x1="482" y1="0" x2="566" y2="0"><stop offset="0.000" stop-color="#d4d4d4"/><stop offset="0.119" stop-color="#d5d5d5"/><stop offset="0.143" stop-color="#cfcfcf"/><stop offset="0.190" stop-color="#b9b9b9"/><stop offset="0.214" stop-color="#aaaaaa"/><stop offset="0.238" stop-color="#9f9f9f"/><stop offset="0.262" stop-color="#999999"/><stop offset="0.286" stop-color="#999999"/><stop offset="0.310" stop-color="#9d9d9d"/><stop offset="0.357" stop-color="#a1a1a1"/><stop offset="0.393" stop-color="#ababab"/><stop offset="0.429" stop-color="#b4b4b4"/><stop offset="0.512" stop-color="#d0d0d0"/><stop offset="0.631" stop-color="#d7d7d7"/><stop offset="0.667" stop-color="#d4d4d4"/><stop offset="0.750" stop-color="#c3c3c3"/><stop offset="0.762" stop-color="#c0c0c0"/><stop offset="0.833" stop-color="#b7b7b7"/><stop offset="1.000" stop-color="#a7a7a7"/></linearGradient><linearGradient id="rg136" gradientUnits="userSpaceOnUse" x1="482" y1="0" x2="566" y2="0"><stop offset="0.000" stop-color="#d5d5d5"/><stop offset="0.119" stop-color="#d4d4d4"/><stop offset="0.143" stop-color="#cfcfcf"/><stop offset="0.190" stop-color="#b8b8b8"/><stop offset="0.214" stop-color="#a8a8a8"/><stop offset="0.238" stop-color="#9f9f9f"/><stop offset="0.262" stop-color="#9a9a9a"/><stop offset="0.286" stop-color="#9d9d9d"/><stop offset="0.310" stop-color="#a3a3a3"/><stop offset="0.357" stop-color="#a9a9a9"/><stop offset="0.393" stop-color="#b3b3b3"/><stop offset="0.429" stop-color="#bbbbbb"/><stop offset="0.512" stop-color="#d4d4d4"/><stop offset="0.631" stop-color="#d9d9d9"/><stop offset="0.667" stop-color="#d7d7d7"/><stop offset="0.750" stop-color="#c4c4c4"/><stop offset="0.762" stop-color="#c1c1c1"/><stop offset="0.833" stop-color="#b9b9b9"/><stop offset="1.000" stop-color="#aeaeae"/></linearGradient><linearGradient id="rg137" gradientUnits="userSpaceOnUse" x1="482" y1="0" x2="566" y2="0"><stop offset="0.000" stop-color="#d6d6d6"/><stop offset="0.119" stop-color="#d4d4d4"/><stop offset="0.143" stop-color="#d0d0d0"/><stop offset="0.190" stop-color="#b6b6b6"/><stop offset="0.214" stop-color="#a7a7a7"/><stop offset="0.238" stop-color="#a0a0a0"/><stop offset="0.262" stop-color="#9b9b9b"/><stop offset="0.286" stop-color="#a1a1a1"/><stop offset="0.310" stop-color="#aaaaaa"/><stop offset="0.357" stop-color="#b1b1b1"/><stop offset="0.393" stop-color="#bababa"/><stop offset="0.429" stop-color="#c2c2c2"/><stop offset="0.512" stop-color="#d8d8d8"/><stop offset="0.631" stop-color="#dbdbdb"/><stop offset="0.667" stop-color="#dadada"/><stop offset="0.750" stop-color="#c4c4c4"/><stop offset="0.762" stop-color="#c1c1c1"/><stop offset="0.833" stop-color="#bbbbbb"/><stop offset="1.000" stop-color="#b4b4b4"/></linearGradient><linearGradient id="rg138" gradientUnits="userSpaceOnUse" x1="482" y1="0" x2="566" y2="0"><stop offset="0.000" stop-color="#d7d7d7"/><stop offset="0.119" stop-color="#d3d3d3"/><stop offset="0.143" stop-color="#d0d0d0"/><stop offset="0.190" stop-color="#b4b4b4"/><stop offset="0.214" stop-color="#a5a5a5"/><stop offset="0.238" stop-color="#a0a0a0"/><stop offset="0.262" stop-color="#9d9d9d"/><stop offset="0.286" stop-color="#a5a5a5"/><stop offset="0.310" stop-color="#b0b0b0"/><stop offset="0.357" stop-color="#b9b9b9"/><stop offset="0.393" stop-color="#c2c2c2"/><stop offset="0.429" stop-color="#c9c9c9"/><stop offset="0.512" stop-color="#dbdbdb"/><stop offset="0.631" stop-color="#dddddd"/><stop offset="0.667" stop-color="#dddddd"/><stop offset="0.750" stop-color="#c5c5c5"/><stop offset="0.762" stop-color="#c1c1c1"/><stop offset="0.833" stop-color="#bdbdbd"/><stop offset="1.000" stop-color="#bababa"/></linearGradient><linearGradient id="rg139" gradientUnits="userSpaceOnUse" x1="482" y1="0" x2="566" y2="0"><stop offset="0.000" stop-color="#d8d8d8"/><stop offset="0.119" stop-color="#d3d3d3"/><stop offset="0.143" stop-color="#d1d1d1"/><stop offset="0.190" stop-color="#b3b3b3"/><stop offset="0.214" stop-color="#a4a4a4"/><stop offset="0.238" stop-color="#a1a1a1"/><stop offset="0.262" stop-color="#9e9e9e"/><stop offset="0.286" stop-color="#aaaaaa"/><stop offset="0.310" stop-color="#b6b6b6"/><stop offset="0.357" stop-color="#c1c1c1"/><stop offset="0.393" stop-color="#cacaca"/><stop offset="0.429" stop-color="#d0d0d0"/><stop offset="0.512" stop-color="#dfdfdf"/><stop offset="0.631" stop-color="#e0e0e0"/><stop offset="0.667" stop-color="#e0e0e0"/><stop offset="0.750" stop-color="#c5c5c5"/><stop offset="0.762" stop-color="#c2c2c2"/><stop offset="0.833" stop-color="#bfbfbf"/><stop offset="1.000" stop-color="#c0c0c0"/></linearGradient><linearGradient id="rg140" gradientUnits="userSpaceOnUse" x1="482" y1="0" x2="566" y2="0"><stop offset="0.000" stop-color="#d9d9d9"/><stop offset="0.143" stop-color="#d1d1d1"/><stop offset="0.214" stop-color="#a3a3a3"/><stop offset="0.262" stop-color="#9e9e9e"/><stop offset="0.310" stop-color="#b8b8b8"/><stop offset="0.393" stop-color="#cccccc"/><stop offset="0.512" stop-color="#e1e1e1"/><stop offset="0.667" stop-color="#e0e0e0"/><stop offset="0.762" stop-color="#c2c2c2"/><stop offset="0.833" stop-color="#bfbfbf"/><stop offset="1.000" stop-color="#c2c2c2"/></linearGradient><linearGradient id="rg141" gradientUnits="userSpaceOnUse" x1="482" y1="0" x2="566" y2="0"><stop offset="0.000" stop-color="#d9d9d9"/><stop offset="0.143" stop-color="#d0d0d0"/><stop offset="0.214" stop-color="#a4a4a4"/><stop offset="0.262" stop-color="#9f9f9f"/><stop offset="0.310" stop-color="#b8b8b8"/><stop offset="0.393" stop-color="#cdcdcd"/><stop offset="0.512" stop-color="#e1e1e1"/><stop offset="0.667" stop-color="#e0e0e0"/><stop offset="0.762" stop-color="#c2c2c2"/><stop offset="0.833" stop-color="#bfbfbf"/><stop offset="1.000" stop-color="#c2c2c2"/></linearGradient><linearGradient id="rg142" gradientUnits="userSpaceOnUse" x1="482" y1="0" x2="566" y2="0"><stop offset="0.000" stop-color="#d9d9d9"/><stop offset="0.143" stop-color="#d0d0d0"/><stop offset="0.214" stop-color="#a4a4a4"/><stop offset="0.262" stop-color="#9f9f9f"/><stop offset="0.310" stop-color="#b8b8b8"/><stop offset="0.393" stop-color="#cdcdcd"/><stop offset="0.512" stop-color="#e1e1e1"/><stop offset="0.667" stop-color="#e0e0e0"/><stop offset="0.762" stop-color="#c2c2c2"/><stop offset="0.833" stop-color="#bfbfbf"/><stop offset="1.000" stop-color="#c3c3c3"/></linearGradient><linearGradient id="rg143" gradientUnits="userSpaceOnUse" x1="482" y1="0" x2="566" y2="0"><stop offset="0.000" stop-color="#d9d9d9"/><stop offset="0.143" stop-color="#d0d0d0"/><stop offset="0.214" stop-color="#a5a5a5"/><stop offset="0.262" stop-color="#a0a0a0"/><stop offset="0.310" stop-color="#b8b8b8"/><stop offset="0.393" stop-color="#cdcdcd"/><stop offset="0.512" stop-color="#e2e2e2"/><stop offset="0.667" stop-color="#e0e0e0"/><stop offset="0.762" stop-color="#c2c2c2"/><stop offset="0.833" stop-color="#bfbfbf"/><stop offset="1.000" stop-color="#c3c3c3"/></linearGradient><linearGradient id="rg144" gradientUnits="userSpaceOnUse" x1="482" y1="0" x2="566" y2="0"><stop offset="0.000" stop-color="#d9d9d9"/><stop offset="0.143" stop-color="#cfcfcf"/><stop offset="0.214" stop-color="#a5a5a5"/><stop offset="0.262" stop-color="#a0a0a0"/><stop offset="0.310" stop-color="#b8b8b8"/><stop offset="0.393" stop-color="#cecece"/><stop offset="0.512" stop-color="#e2e2e2"/><stop offset="0.667" stop-color="#e0e0e0"/><stop offset="0.762" stop-color="#c2c2c2"/><stop offset="0.833" stop-color="#bfbfbf"/><stop offset="1.000" stop-color="#c4c4c4"/></linearGradient><linearGradient id="rg145" gradientUnits="userSpaceOnUse" x1="482" y1="0" x2="566" y2="0"><stop offset="0.000" stop-color="#d9d9d9"/><stop offset="0.143" stop-color="#cfcfcf"/><stop offset="0.214" stop-color="#a5a5a5"/><stop offset="0.262" stop-color="#a0a0a0"/><stop offset="0.310" stop-color="#b8b8b8"/><stop offset="0.393" stop-color="#cecece"/><stop offset="0.512" stop-color="#e3e3e3"/><stop offset="0.667" stop-color="#e0e0e0"/><stop offset="0.762" stop-color="#c2c2c2"/><stop offset="0.833" stop-color="#bfbfbf"/><stop offset="1.000" stop-color="#c4c4c4"/></linearGradient><linearGradient id="rg146" gradientUnits="userSpaceOnUse" x1="482" y1="0" x2="566" y2="0"><stop offset="0.000" stop-color="#d9d9d9"/><stop offset="0.143" stop-color="#cecece"/><stop offset="0.214" stop-color="#a6a6a6"/><stop offset="0.262" stop-color="#a1a1a1"/><stop offset="0.310" stop-color="#b8b8b8"/><stop offset="0.393" stop-color="#cfcfcf"/><stop offset="0.512" stop-color="#e3e3e3"/><stop offset="0.667" stop-color="#e0e0e0"/><stop offset="0.762" stop-color="#c2c2c2"/><stop offset="0.833" stop-color="#bfbfbf"/><stop offset="1.000" stop-color="#c4c4c4"/></linearGradient><linearGradient id="rg147" gradientUnits="userSpaceOnUse" x1="482" y1="0" x2="566" y2="0"><stop offset="0.000" stop-color="#d9d9d9"/><stop offset="0.143" stop-color="#cecece"/><stop offset="0.214" stop-color="#a6a6a6"/><stop offset="0.262" stop-color="#a1a1a1"/><stop offset="0.310" stop-color="#b8b8b8"/><stop offset="0.393" stop-color="#cfcfcf"/><stop offset="0.512" stop-color="#e3e3e3"/><stop offset="0.667" stop-color="#e0e0e0"/><stop offset="0.762" stop-color="#c2c2c2"/><stop offset="0.833" stop-color="#bfbfbf"/><stop offset="1.000" stop-color="#c5c5c5"/></linearGradient><linearGradient id="rg148" gradientUnits="userSpaceOnUse" x1="482" y1="0" x2="566" y2="0"><stop offset="0.000" stop-color="#d9d9d9"/><stop offset="0.143" stop-color="#cecece"/><stop offset="0.214" stop-color="#a7a7a7"/><stop offset="0.262" stop-color="#a2a2a2"/><stop offset="0.310" stop-color="#b8b8b8"/><stop offset="0.393" stop-color="#cfcfcf"/><stop offset="0.512" stop-color="#e4e4e4"/><stop offset="0.667" stop-color="#e0e0e0"/><stop offset="0.762" stop-color="#c2c2c2"/><stop offset="0.833" stop-color="#bfbfbf"/><stop offset="1.000" stop-color="#c5c5c5"/></linearGradient><linearGradient id="rg149" gradientUnits="userSpaceOnUse" x1="482" y1="0" x2="566" y2="0"><stop offset="0.000" stop-color="#d9d9d9"/><stop offset="0.143" stop-color="#cdcdcd"/><stop offset="0.214" stop-color="#a7a7a7"/><stop offset="0.262" stop-color="#a2a2a2"/><stop offset="0.310" stop-color="#b8b8b8"/><stop offset="0.393" stop-color="#d0d0d0"/><stop offset="0.512" stop-color="#e4e4e4"/><stop offset="0.667" stop-color="#e0e0e0"/><stop offset="0.762" stop-color="#c2c2c2"/><stop offset="0.833" stop-color="#bfbfbf"/><stop offset="1.000" stop-color="#c6c6c6"/></linearGradient><linearGradient id="rg150" gradientUnits="userSpaceOnUse" x1="482" y1="0" x2="566" y2="0"><stop offset="0.000" stop-color="#d9d9d9"/><stop offset="0.143" stop-color="#cdcdcd"/><stop offset="0.214" stop-color="#a7a7a7"/><stop offset="0.262" stop-color="#a2a2a2"/><stop offset="0.310" stop-color="#b8b8b8"/><stop offset="0.393" stop-color="#d0d0d0"/><stop offset="0.512" stop-color="#e5e5e5"/><stop offset="0.667" stop-color="#e0e0e0"/><stop offset="0.762" stop-color="#c2c2c2"/><stop offset="0.833" stop-color="#bfbfbf"/><stop offset="1.000" stop-color="#c6c6c6"/></linearGradient><linearGradient id="rg151" gradientUnits="userSpaceOnUse" x1="482" y1="0" x2="566" y2="0"><stop offset="0.000" stop-color="#d9d9d9"/><stop offset="0.143" stop-color="#cdcdcd"/><stop offset="0.214" stop-color="#a8a8a8"/><stop offset="0.262" stop-color="#a3a3a3"/><stop offset="0.310" stop-color="#b8b8b8"/><stop offset="0.393" stop-color="#d1d1d1"/><stop offset="0.512" stop-color="#e5e5e5"/><stop offset="0.667" stop-color="#e0e0e0"/><stop offset="0.762" stop-color="#c2c2c2"/><stop offset="0.833" stop-color="#bfbfbf"/><stop offset="1.000" stop-color="#c6c6c6"/></linearGradient><linearGradient id="rg152" gradientUnits="userSpaceOnUse" x1="482" y1="0" x2="566" y2="0"><stop offset="0.000" stop-color="#d9d9d9"/><stop offset="0.143" stop-color="#cccccc"/><stop offset="0.214" stop-color="#a8a8a8"/><stop offset="0.262" stop-color="#a3a3a3"/><stop offset="0.310" stop-color="#b8b8b8"/><stop offset="0.393" stop-color="#d1d1d1"/><stop offset="0.512" stop-color="#e5e5e5"/><stop offset="0.667" stop-color="#e0e0e0"/><stop offset="0.762" stop-color="#c2c2c2"/><stop offset="0.833" stop-color="#bfbfbf"/><stop offset="1.000" stop-color="#c7c7c7"/></linearGradient></defs><rect x="482" y="231.6" width="84" height="3.5" fill="url(#rg102)"/><rect x="482" y="234.6" width="84" height="3.5" fill="url(#rg103)"/><rect x="482" y="237.6" width="84" height="3.5" fill="url(#rg104)"/><rect x="482" y="240.6" width="84" height="3.5" fill="url(#rg105)"/><rect x="482" y="243.6" width="84" height="3.5" fill="url(#rg106)"/><rect x="482" y="246.6" width="84" height="3.5" fill="url(#rg107)"/><rect x="482" y="249.6" width="84" height="3.5" fill="url(#rg108)"/><rect x="482" y="252.6" width="84" height="3.5" fill="url(#rg109)"/><rect x="482" y="255.6" width="84" height="3.5" fill="url(#rg110)"/><rect x="482" y="258.6" width="84" height="3.5" fill="url(#rg111)"/><rect x="482" y="261.6" width="84" height="3.5" fill="url(#rg112)"/><rect x="482" y="264.6" width="84" height="3.5" fill="url(#rg113)"/><rect x="482" y="267.6" width="84" height="3.5" fill="url(#rg114)"/><rect x="482" y="270.6" width="84" height="3.5" fill="url(#rg115)"/><rect x="482" y="273.6" width="84" height="3.5" fill="url(#rg116)"/><rect x="482" y="276.6" width="84" height="3.5" fill="url(#rg117)"/><rect x="482" y="279.6" width="84" height="3.5" fill="url(#rg118)"/><rect x="482" y="282.6" width="84" height="3.5" fill="url(#rg119)"/><rect x="482" y="285.6" width="84" height="3.5" fill="url(#rg120)"/><rect x="482" y="288.6" width="84" height="3.5" fill="url(#rg121)"/><rect x="482" y="291.6" width="84" height="3.5" fill="url(#rg122)"/><rect x="482" y="294.6" width="84" height="3.5" fill="url(#rg123)"/><rect x="482" y="297.6" width="84" height="3.5" fill="url(#rg124)"/><rect x="482" y="300.6" width="84" height="3.5" fill="url(#rg125)"/><rect x="482" y="303.6" width="84" height="3.5" fill="url(#rg126)"/><rect x="482" y="306.6" width="84" height="3.5" fill="url(#rg127)"/><rect x="482" y="309.6" width="84" height="3.5" fill="url(#rg128)"/><rect x="482" y="312.6" width="84" height="3.5" fill="url(#rg129)"/><rect x="482" y="315.6" width="84" height="3.5" fill="url(#rg130)"/><rect x="482" y="318.6" width="84" height="3.5" fill="url(#rg131)"/><rect x="482" y="321.6" width="84" height="3.5" fill="url(#rg132)"/><rect x="482" y="324.6" width="84" height="3.5" fill="url(#rg133)"/><rect x="482" y="327.6" width="84" height="3.5" fill="url(#rg134)"/><rect x="482" y="330.6" width="84" height="3.5" fill="url(#rg135)"/><rect x="482" y="333.6" width="84" height="3.5" fill="url(#rg136)"/><rect x="482" y="336.6" width="84" height="3.5" fill="url(#rg137)"/><rect x="482" y="339.6" width="84" height="3.5" fill="url(#rg138)"/><rect x="482" y="342.6" width="84" height="3.5" fill="url(#rg139)"/><rect x="482" y="345.6" width="84" height="3.5" fill="url(#rg140)"/><rect x="482" y="348.6" width="84" height="3.5" fill="url(#rg141)"/><rect x="482" y="351.6" width="84" height="3.5" fill="url(#rg142)"/><rect x="482" y="354.6" width="84" height="3.5" fill="url(#rg143)"/><rect x="482" y="357.6" width="84" height="3.5" fill="url(#rg144)"/><rect x="482" y="360.6" width="84" height="3.5" fill="url(#rg145)"/><rect x="482" y="363.6" width="84" height="3.5" fill="url(#rg146)"/><rect x="482" y="366.6" width="84" height="3.5" fill="url(#rg147)"/><rect x="482" y="369.6" width="84" height="3.5" fill="url(#rg148)"/><rect x="482" y="372.6" width="84" height="3.5" fill="url(#rg149)"/><rect x="482" y="375.6" width="84" height="3.5" fill="url(#rg150)"/><rect x="482" y="378.6" width="84" height="3.5" fill="url(#rg151)"/><rect x="482" y="381.6" width="84" height="3.5" fill="url(#rg152)"/></g></g>
<path d="M476.6,270.6 L559.9,270.6" stroke="#111" stroke-width="1.1"/>
<path d="M476.60,379.80L486.60,379.80M559.90,379.80L549.90,379.80M476.60,370.70L481.10,370.70M559.90,370.70L555.40,370.70M476.60,361.60L484.10,361.60M559.90,361.60L552.40,361.60M476.60,352.50L481.10,352.50M559.90,352.50L555.40,352.50M476.60,343.40L486.60,343.40M559.90,343.40L549.90,343.40M476.60,334.30L481.10,334.30M559.90,334.30L555.40,334.30M476.60,325.20L484.10,325.20M559.90,325.20L552.40,325.20M476.60,316.10L481.10,316.10M559.90,316.10L555.40,316.10M476.60,307.00L486.60,307.00M559.90,307.00L549.90,307.00M476.60,297.90L481.10,297.90M559.90,297.90L555.40,297.90M476.60,288.80L484.10,288.80M559.90,288.80L552.40,288.80M476.60,279.70L481.10,279.70M559.90,279.70L555.40,279.70M476.60,270.60L486.60,270.60M559.90,270.60L549.90,270.60M476.60,261.50L481.10,261.50M559.90,261.50L555.40,261.50M476.60,252.40L484.10,252.40M559.90,252.40L552.40,252.40M476.60,243.30L481.10,243.30M559.90,243.30L555.40,243.30M476.60,234.20L486.60,234.20M559.90,234.20L549.90,234.20" stroke="#1a1a1a" stroke-width="1.1" fill="none"/>
<path d="M484.50,380.40L484.50,370.40M484.50,234.80L484.50,244.80M492.85,380.40L492.85,375.90M492.85,234.80L492.85,239.30M501.20,380.40L501.20,372.90M501.20,234.80L501.20,242.30M509.55,380.40L509.55,375.90M509.55,234.80L509.55,239.30M517.90,380.40L517.90,370.40M517.90,234.80L517.90,244.80M526.25,380.40L526.25,375.90M526.25,234.80L526.25,239.30M534.60,380.40L534.60,372.90M534.60,234.80L534.60,242.30M542.95,380.40L542.95,375.90M542.95,234.80L542.95,239.30M551.30,380.40L551.30,370.40M551.30,234.80L551.30,244.80M559.65,380.40L559.65,375.90M559.65,234.80L559.65,239.30" stroke="#1a1a1a" stroke-width="1.1" fill="none"/>
<rect x="476.6" y="234.8" width="83.29999999999995" height="145.59999999999997" fill="none" stroke="#666" stroke-width="1.2"/>
<text x="472" y="238.9" font-size="13" text-anchor="end" fill="#111" >10</text>
<text x="472" y="275.3" font-size="13" text-anchor="end" fill="#111" >0</text>
<text x="472" y="311.7" font-size="13" text-anchor="end" fill="#111" >−10</text>
<text x="472" y="348.1" font-size="13" text-anchor="end" fill="#111" >−20</text>
<text x="472" y="384.5" font-size="13" text-anchor="end" fill="#111" >−30</text>
<text x="484.5" y="393.9" font-size="13" text-anchor="middle" fill="#111" >−0.2</text>
<text x="517.9" y="393.9" font-size="13" text-anchor="middle" fill="#111" >0</text>
<text x="551.3" y="393.9" font-size="13" text-anchor="middle" fill="#111" >0.2</text>
<text x="0" y="0" font-size="13" text-anchor="middle" fill="#111" transform="translate(441,305.5) rotate(-90)">Energy relative to <tspan font-style="italic">E</tspan><tspan font-size="9.5" dy="2.5">F</tspan><tspan dy="-2.5"> (meV)</tspan></text>
<text x="561" y="229.7" font-size="12" text-anchor="end" fill="#2424b0" font-weight="bold">#2</text>
<text x="518.3" y="411.1" font-size="13" text-anchor="middle" fill="#111" >Momentum</text>
<text x="517.5" y="424.5" font-size="13" text-anchor="middle" fill="#111">(Å<tspan font-size="9.5" dy="-4.5">−1</tspan><tspan dy="4.5">)</tspan></text>
<path d="M530.9,246 L530.9,265" stroke="#e8e4f8" stroke-width="1.2"/><path d="M528.6,264 L530.9,271 L533.2,264 z" fill="#f0f0ff"/>
<text x="535" y="257.4" font-size="13" fill="#e0dcf8"><tspan font-style="italic">k</tspan><tspan font-size="10" dy="3.6">F</tspan></text>
<clipPath id="clh"><rect x="570" y="234.6" width="83" height="145.7"/></clipPath>
<g clip-path="url(#clh)"><g filter="url(#bl2)"><polygon points="603,254 608,254 606,268 601,268" fill="#d0d0d0" fill-opacity="1"/><polygon points="601,262 607,262 604,280 600,298 597,304 595,298 597,280" fill="#7e7e7e" fill-opacity="1"/><polygon points="602,266 605,266 602,282 599,294 598,288" fill="#303030" fill-opacity="1"/><polygon points="617,254 624,254 626,266 620,266" fill="#d0d0d0" fill-opacity="1"/><polygon points="619,262 628,262 633,282 636,300 634,314 628,312 624,292 620,275" fill="#7a7a7a" fill-opacity="1"/><polygon points="622,266 627,266 631,284 632,300 629,304 625,288" fill="#202020" fill-opacity="1"/><ellipse cx="630.9" cy="375.8" rx="2.8" ry="3.7" fill="rgb(94,94,94)" fill-opacity="0.85"/><ellipse cx="630.9" cy="377.2" rx="3.0" ry="3.9" fill="rgb(154,154,154)" fill-opacity="0.85"/><ellipse cx="621.3" cy="368.1" rx="2.1" ry="2.8" fill="rgb(115,115,115)" fill-opacity="0.85"/><ellipse cx="628.7" cy="358.2" rx="2.2" ry="2.8" fill="rgb(102,102,102)" fill-opacity="0.85"/><ellipse cx="622.5" cy="368.2" rx="2.9" ry="3.8" fill="rgb(102,102,102)" fill-opacity="0.85"/><ellipse cx="626.0" cy="372.9" rx="2.1" ry="2.8" fill="rgb(128,128,128)" fill-opacity="0.85"/><ellipse cx="631.3" cy="338.9" rx="2.6" ry="3.4" fill="rgb(117,117,117)" fill-opacity="0.85"/><ellipse cx="622.5" cy="348.6" rx="2.7" ry="3.5" fill="rgb(122,122,122)" fill-opacity="0.85"/><ellipse cx="621.3" cy="368.6" rx="2.5" ry="3.2" fill="rgb(184,184,184)" fill-opacity="0.85"/><ellipse cx="633.5" cy="311.6" rx="2.0" ry="2.7" fill="rgb(184,184,184)" fill-opacity="0.85"/><ellipse cx="624.4" cy="356.9" rx="2.2" ry="2.9" fill="rgb(133,133,133)" fill-opacity="0.85"/><ellipse cx="630.2" cy="370.4" rx="2.0" ry="2.6" fill="rgb(81,81,81)" fill-opacity="0.85"/><ellipse cx="623.5" cy="341.7" rx="2.6" ry="3.4" fill="rgb(122,122,122)" fill-opacity="0.85"/><ellipse cx="630.1" cy="344.2" rx="3.1" ry="4.1" fill="rgb(117,117,117)" fill-opacity="0.85"/><ellipse cx="630.3" cy="326.1" rx="3.0" ry="3.8" fill="rgb(113,113,113)" fill-opacity="0.85"/><ellipse cx="627.8" cy="371.6" rx="2.4" ry="3.1" fill="rgb(85,85,85)" fill-opacity="0.85"/><ellipse cx="623.2" cy="371.6" rx="2.5" ry="3.2" fill="rgb(89,89,89)" fill-opacity="0.85"/><ellipse cx="628.1" cy="343.5" rx="3.0" ry="3.9" fill="rgb(182,182,182)" fill-opacity="0.85"/><ellipse cx="628.6" cy="360.4" rx="1.9" ry="2.4" fill="rgb(179,179,179)" fill-opacity="0.85"/><ellipse cx="629.5" cy="374.3" rx="2.5" ry="3.2" fill="rgb(131,131,131)" fill-opacity="0.85"/><ellipse cx="630.6" cy="376.5" rx="1.9" ry="2.5" fill="rgb(173,173,173)" fill-opacity="0.85"/><ellipse cx="627.1" cy="348.7" rx="2.9" ry="3.8" fill="rgb(144,144,144)" fill-opacity="0.85"/><ellipse cx="629.0" cy="357.1" rx="1.9" ry="2.5" fill="rgb(77,77,77)" fill-opacity="0.85"/><ellipse cx="626.3" cy="332.4" rx="2.3" ry="3.0" fill="rgb(116,116,116)" fill-opacity="0.85"/><ellipse cx="624.6" cy="352.0" rx="2.6" ry="3.4" fill="rgb(112,112,112)" fill-opacity="0.85"/><ellipse cx="623.3" cy="365.8" rx="3.1" ry="4.0" fill="rgb(178,178,178)" fill-opacity="0.85"/><ellipse cx="628.2" cy="310.9" rx="2.3" ry="3.0" fill="rgb(121,121,121)" fill-opacity="0.85"/><ellipse cx="630.4" cy="345.3" rx="2.1" ry="2.8" fill="rgb(189,189,189)" fill-opacity="0.85"/><ellipse cx="623.6" cy="332.0" rx="2.8" ry="3.6" fill="rgb(112,112,112)" fill-opacity="0.85"/><ellipse cx="626.8" cy="331.5" rx="2.8" ry="3.6" fill="rgb(115,115,115)" fill-opacity="0.85"/><ellipse cx="632.9" cy="314.3" rx="3.0" ry="3.9" fill="rgb(160,160,160)" fill-opacity="0.85"/><ellipse cx="625.9" cy="317.0" rx="2.6" ry="3.4" fill="rgb(114,114,114)" fill-opacity="0.85"/><ellipse cx="629.9" cy="370.9" rx="1.9" ry="2.5" fill="rgb(115,115,115)" fill-opacity="0.85"/><ellipse cx="626.0" cy="360.1" rx="2.5" ry="3.2" fill="rgb(180,180,180)" fill-opacity="0.85"/><ellipse cx="624.5" cy="336.4" rx="1.8" ry="2.3" fill="rgb(166,166,166)" fill-opacity="0.85"/><ellipse cx="627.4" cy="320.4" rx="3.0" ry="3.9" fill="rgb(151,151,151)" fill-opacity="0.85"/><ellipse cx="626.3" cy="349.3" rx="2.9" ry="3.7" fill="rgb(118,118,118)" fill-opacity="0.85"/><ellipse cx="627.8" cy="325.8" rx="2.5" ry="3.3" fill="rgb(89,89,89)" fill-opacity="0.85"/><ellipse cx="627.2" cy="346.0" rx="2.0" ry="2.6" fill="rgb(157,157,157)" fill-opacity="0.85"/><ellipse cx="628.0" cy="362.9" rx="3.0" ry="3.9" fill="rgb(189,189,189)" fill-opacity="0.85"/><ellipse cx="604.9" cy="339.7" rx="2.3" ry="3.0" fill="rgb(184,184,184)" fill-opacity="0.8"/><ellipse cx="602.3" cy="342.2" rx="2.1" ry="2.7" fill="rgb(198,198,198)" fill-opacity="0.8"/><ellipse cx="610.3" cy="319.0" rx="2.2" ry="2.9" fill="rgb(163,163,163)" fill-opacity="0.8"/><ellipse cx="603.9" cy="362.8" rx="2.7" ry="3.6" fill="rgb(221,221,221)" fill-opacity="0.8"/><ellipse cx="601.0" cy="332.4" rx="2.8" ry="3.6" fill="rgb(200,200,200)" fill-opacity="0.8"/><ellipse cx="608.3" cy="319.7" rx="2.6" ry="3.3" fill="rgb(174,174,174)" fill-opacity="0.8"/><ellipse cx="608.2" cy="331.8" rx="2.1" ry="2.7" fill="rgb(209,209,209)" fill-opacity="0.8"/><ellipse cx="605.7" cy="338.9" rx="2.6" ry="3.3" fill="rgb(220,220,220)" fill-opacity="0.8"/><ellipse cx="610.7" cy="336.4" rx="3.0" ry="3.9" fill="rgb(212,212,212)" fill-opacity="0.8"/><ellipse cx="601.1" cy="365.3" rx="2.1" ry="2.7" fill="rgb(164,164,164)" fill-opacity="0.8"/><ellipse cx="605.6" cy="336.3" rx="1.9" ry="2.4" fill="rgb(202,202,202)" fill-opacity="0.8"/><ellipse cx="607.6" cy="362.2" rx="2.8" ry="3.7" fill="rgb(188,188,188)" fill-opacity="0.8"/><ellipse cx="600.8" cy="373.1" rx="2.8" ry="3.6" fill="rgb(185,185,185)" fill-opacity="0.8"/><ellipse cx="602.5" cy="354.7" rx="1.8" ry="2.4" fill="rgb(163,163,163)" fill-opacity="0.8"/><ellipse cx="606.9" cy="332.1" rx="2.2" ry="2.9" fill="rgb(191,191,191)" fill-opacity="0.8"/><ellipse cx="603.4" cy="357.6" rx="2.2" ry="2.8" fill="rgb(189,189,189)" fill-opacity="0.8"/><ellipse cx="596.9" cy="374.8" rx="2.6" ry="3.4" fill="rgb(211,211,211)" fill-opacity="0.8"/><ellipse cx="610.6" cy="332.4" rx="1.9" ry="2.5" fill="rgb(161,161,161)" fill-opacity="0.8"/><ellipse cx="606.4" cy="318.3" rx="2.9" ry="3.8" fill="rgb(161,161,161)" fill-opacity="0.8"/><ellipse cx="596.8" cy="358.6" rx="2.7" ry="3.5" fill="rgb(163,163,163)" fill-opacity="0.8"/><ellipse cx="605.3" cy="356.5" rx="2.0" ry="2.6" fill="rgb(153,153,153)" fill-opacity="0.8"/><ellipse cx="598.1" cy="348.7" rx="1.9" ry="2.5" fill="rgb(163,163,163)" fill-opacity="0.8"/><ellipse cx="609.8" cy="342.1" rx="2.4" ry="3.1" fill="rgb(205,205,205)" fill-opacity="0.8"/><ellipse cx="609.2" cy="346.4" rx="1.8" ry="2.4" fill="rgb(167,167,167)" fill-opacity="0.8"/><ellipse cx="597.1" cy="357.4" rx="2.4" ry="3.1" fill="rgb(160,160,160)" fill-opacity="0.8"/><ellipse cx="607.0" cy="331.1" rx="1.9" ry="2.5" fill="rgb(161,161,161)" fill-opacity="0.8"/><ellipse cx="641.4" cy="306.3" rx="3.0" ry="3.8" fill="rgb(162,162,162)" fill-opacity="0.8"/><ellipse cx="646.5" cy="312.5" rx="2.6" ry="3.4" fill="rgb(148,148,148)" fill-opacity="0.8"/><ellipse cx="633.1" cy="292.2" rx="2.7" ry="3.5" fill="rgb(159,159,159)" fill-opacity="0.8"/><ellipse cx="643.4" cy="304.1" rx="2.8" ry="3.7" fill="rgb(212,212,212)" fill-opacity="0.8"/><ellipse cx="638.1" cy="304.0" rx="1.9" ry="2.4" fill="rgb(202,202,202)" fill-opacity="0.8"/><ellipse cx="651.3" cy="313.5" rx="2.6" ry="3.4" fill="rgb(183,183,183)" fill-opacity="0.8"/><ellipse cx="652.6" cy="315.8" rx="2.4" ry="3.2" fill="rgb(207,207,207)" fill-opacity="0.8"/><ellipse cx="646.0" cy="307.7" rx="1.9" ry="2.5" fill="rgb(212,212,212)" fill-opacity="0.8"/><ellipse cx="639.7" cy="305.9" rx="2.0" ry="2.6" fill="rgb(202,202,202)" fill-opacity="0.8"/><ellipse cx="646.4" cy="314.5" rx="1.8" ry="2.4" fill="rgb(168,168,168)" fill-opacity="0.8"/><ellipse cx="631.9" cy="294.3" rx="2.2" ry="2.9" fill="rgb(213,213,213)" fill-opacity="0.8"/><ellipse cx="638.6" cy="302.5" rx="2.8" ry="3.7" fill="rgb(158,158,158)" fill-opacity="0.8"/><ellipse cx="641.3" cy="307.8" rx="2.4" ry="3.2" fill="rgb(167,167,167)" fill-opacity="0.8"/><ellipse cx="636.3" cy="299.8" rx="2.0" ry="2.6" fill="rgb(186,186,186)" fill-opacity="0.8"/><ellipse cx="643.3" cy="306.3" rx="2.0" ry="2.5" fill="rgb(190,190,190)" fill-opacity="0.8"/><ellipse cx="651.3" cy="315.1" rx="2.2" ry="2.9" fill="rgb(209,209,209)" fill-opacity="0.8"/><polygon points="646,316 653,316 653,366 646,366" fill="#a0a0a0" fill-opacity="1"/><polygon points="648,334 653,334 653,358 648,358" fill="#303030" fill-opacity="1"/></g><g fill="#000" filter="url(#bl1)"><rect x="582" y="280.3" width="6.8" height="3.8" rx="1.2"/><path d="M581.8,348.4 L590,349.5 C597,352 597,366 590,368.2 L581.8,368.2 z"/></g></g>
<path d="M570,270.9 L653,270.9" stroke="#333" stroke-width="1.2"/>
<path d="M570.00,379.40L580.00,379.40M653.00,379.40L643.00,379.40M570.00,370.35L574.50,370.35M653.00,370.35L648.50,370.35M570.00,361.30L577.50,361.30M653.00,361.30L645.50,361.30M570.00,352.25L574.50,352.25M653.00,352.25L648.50,352.25M570.00,343.20L580.00,343.20M653.00,343.20L643.00,343.20M570.00,334.15L574.50,334.15M653.00,334.15L648.50,334.15M570.00,325.10L577.50,325.10M653.00,325.10L645.50,325.10M570.00,316.05L574.50,316.05M653.00,316.05L648.50,316.05M570.00,307.00L580.00,307.00M653.00,307.00L643.00,307.00M570.00,297.95L574.50,297.95M653.00,297.95L648.50,297.95M570.00,288.90L577.50,288.90M653.00,288.90L645.50,288.90M570.00,279.85L574.50,279.85M653.00,279.85L648.50,279.85M570.00,270.80L580.00,270.80M653.00,270.80L643.00,270.80M570.00,261.75L574.50,261.75M653.00,261.75L648.50,261.75M570.00,252.70L577.50,252.70M653.00,252.70L645.50,252.70M570.00,243.65L574.50,243.65M653.00,243.65L648.50,243.65M570.00,234.60L580.00,234.60M653.00,234.60L643.00,234.60" stroke="#1a1a1a" stroke-width="1.1" fill="none"/>
<path d="M577.80,380.30L577.80,370.30M577.80,234.60L577.80,244.60M586.15,380.30L586.15,375.80M586.15,234.60L586.15,239.10M594.50,380.30L594.50,372.80M594.50,234.60L594.50,242.10M602.85,380.30L602.85,375.80M602.85,234.60L602.85,239.10M611.20,380.30L611.20,370.30M611.20,234.60L611.20,244.60M619.55,380.30L619.55,375.80M619.55,234.60L619.55,239.10M627.90,380.30L627.90,372.80M627.90,234.60L627.90,242.10M636.25,380.30L636.25,375.80M636.25,234.60L636.25,239.10M644.60,380.30L644.60,370.30M644.60,234.60L644.60,244.60M652.95,380.30L652.95,375.80M652.95,234.60L652.95,239.10" stroke="#1a1a1a" stroke-width="1.1" fill="none"/>
<rect x="570" y="234.6" width="83" height="145.70000000000002" fill="none" stroke="#666" stroke-width="1.2"/>
<text x="577.8000000000001" y="393.1" font-size="13" text-anchor="middle" fill="#111" >−0.2</text>
<text x="611.2" y="393.1" font-size="13" text-anchor="middle" fill="#111" >0</text>
<text x="644.6" y="393.1" font-size="13" text-anchor="middle" fill="#111" >0.2</text>
<text x="612" y="411" font-size="13" text-anchor="middle" fill="#111" >Momentum</text>
<text x="611.5" y="425.8" font-size="13" text-anchor="middle" fill="#111">(Å<tspan font-size="9.5" dy="-4.5">−1</tspan><tspan dy="4.5">)</tspan></text>
<path d="M624.5,245.8 L624.5,264" stroke="#111" stroke-width="1.1"/><path d="M622.2,263 L624.5,270.9 L626.8,263 z" fill="#111"/>
<text x="628.8" y="258.6" font-size="13" fill="#111"><tspan font-style="italic">k</tspan><tspan font-size="10" dy="3.6">F</tspan></text>
</svg></body></html>
